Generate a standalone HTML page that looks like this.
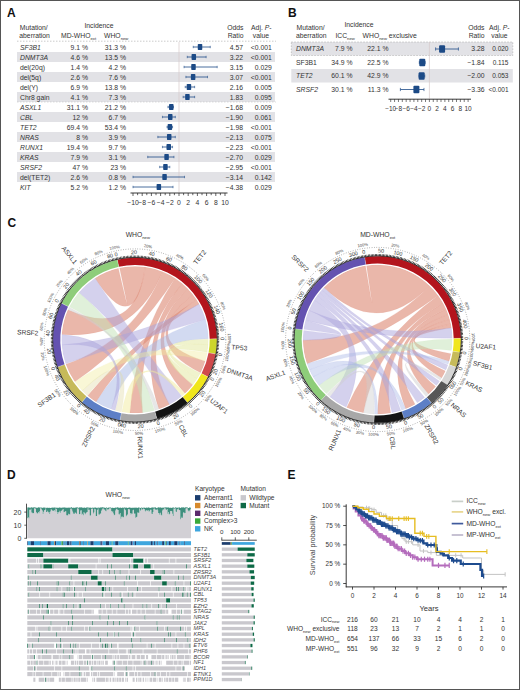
<!DOCTYPE html>
<html><head><meta charset="utf-8"><style>
html,body{margin:0;padding:0;background:#fff;}
body{width:520px;height:690px;overflow:hidden;font-family:"Liberation Sans", sans-serif;}
#frame{position:absolute;left:0;top:0;width:518px;height:688px;border:1px solid #555;}
svg{position:absolute;left:0;top:0;}
</style></head><body>
<svg width="520" height="690" viewBox="0 0 520 690" font-family='"Liberation Sans", sans-serif' fill="#333"><text x="7.00" y="16.60" font-size="12" font-weight="bold" fill="#111">A</text>
<text x="19.80" y="30.00" font-size="6.8">Mutation/</text>
<text x="19.30" y="37.60" font-size="6.8">aberration</text>
<text x="99.00" y="27.60" font-size="6.8" text-anchor="middle">Incidence</text>
<text x="61" y="37.6" font-size="6.8">MD-WHO<tspan font-size="4.22" dy="2.04">ext</tspan></text>
<text x="104" y="37.6" font-size="6.8">WHO<tspan font-size="4.22" dy="2.04">new</tspan></text>
<text x="243.50" y="29.60" font-size="6.8" text-anchor="end">Odds</text>
<text x="243.50" y="37.80" font-size="6.8" text-anchor="end">Ratio</text>
<text x="271.5" y="29.6" font-size="6.8" text-anchor="end">Adj. <tspan font-style="italic">P</tspan>-</text>
<text x="269.00" y="37.80" font-size="6.8" text-anchor="end">value</text>
<rect x="17.00" y="52.00" width="258.00" height="10.00" fill="#e2e2e6" />
<rect x="17.00" y="72.00" width="258.00" height="10.00" fill="#e2e2e6" />
<rect x="17.00" y="92.00" width="258.00" height="10.00" fill="#e2e2e6" />
<rect x="17.00" y="112.00" width="258.00" height="10.00" fill="#e2e2e6" />
<rect x="17.00" y="132.00" width="258.00" height="10.00" fill="#e2e2e6" />
<rect x="17.00" y="152.00" width="258.00" height="10.00" fill="#e2e2e6" />
<rect x="17.00" y="172.00" width="258.00" height="10.00" fill="#e2e2e6" />
<line x1="17.00" y1="41.20" x2="276.00" y2="41.20" stroke="#aaa" stroke-width="0.6" stroke-dasharray="1.5,1.5"/>
<line x1="17.00" y1="102.00" x2="276.00" y2="102.00" stroke="#bbb" stroke-width="0.5" stroke-dasharray="1.5,1.5"/>
<line x1="179.00" y1="42.00" x2="179.00" y2="192.50" stroke="#d6c8c8" stroke-width="0.7" />
<text x="20.00" y="49.50" font-size="6.8" font-style="italic">SF3B1</text>
<text x="88.00" y="49.50" font-size="6.8" text-anchor="end">9.1 %</text>
<text x="126.00" y="49.50" font-size="6.8" text-anchor="end">31.3 %</text>
<text x="243.00" y="49.50" font-size="6.8" text-anchor="end">4.57</text>
<text x="271.80" y="49.50" font-size="6.8" text-anchor="end">&lt;0.001</text>
<line x1="193.26" y1="47.00" x2="210.28" y2="47.00" stroke="#1c4a86" stroke-width="0.8" />
<line x1="193.26" y1="45.80" x2="193.26" y2="48.20" stroke="#1c4a86" stroke-width="0.6" />
<line x1="210.28" y1="45.80" x2="210.28" y2="48.20" stroke="#1c4a86" stroke-width="0.6" />
<rect x="197.77" y="44.00" width="4.50" height="6.00" fill="#1c4a86" rx="0.7"/>
<text x="20.00" y="59.50" font-size="6.8" font-style="italic">DNMT3A</text>
<text x="88.00" y="59.50" font-size="6.8" text-anchor="end">4.6 %</text>
<text x="126.00" y="59.50" font-size="6.8" text-anchor="end">13.5 %</text>
<text x="243.00" y="59.50" font-size="6.8" text-anchor="end">3.22</text>
<text x="271.80" y="59.50" font-size="6.8" text-anchor="end">&lt;0.001</text>
<line x1="187.28" y1="57.00" x2="206.14" y2="57.00" stroke="#1c4a86" stroke-width="0.8" />
<line x1="187.28" y1="55.80" x2="187.28" y2="58.20" stroke="#1c4a86" stroke-width="0.6" />
<line x1="206.14" y1="55.80" x2="206.14" y2="58.20" stroke="#1c4a86" stroke-width="0.6" />
<rect x="191.56" y="54.00" width="4.50" height="6.00" fill="#1c4a86" rx="0.7"/>
<text x="20.00" y="69.50" font-size="6.8">del(20q)</text>
<text x="88.00" y="69.50" font-size="6.8" text-anchor="end">1.4 %</text>
<text x="126.00" y="69.50" font-size="6.8" text-anchor="end">4.2 %</text>
<text x="243.00" y="69.50" font-size="6.8" text-anchor="end">3.15</text>
<text x="271.80" y="69.50" font-size="6.8" text-anchor="end">0.029</text>
<line x1="184.06" y1="67.00" x2="217.18" y2="67.00" stroke="#1c4a86" stroke-width="0.8" />
<line x1="184.06" y1="65.80" x2="184.06" y2="68.20" stroke="#1c4a86" stroke-width="0.6" />
<line x1="217.18" y1="65.80" x2="217.18" y2="68.20" stroke="#1c4a86" stroke-width="0.6" />
<rect x="191.24" y="64.00" width="4.50" height="6.00" fill="#1c4a86" rx="0.7"/>
<text x="20.00" y="79.50" font-size="6.8">del(5q)</text>
<text x="88.00" y="79.50" font-size="6.8" text-anchor="end">2.6 %</text>
<text x="126.00" y="79.50" font-size="6.8" text-anchor="end">7.6 %</text>
<text x="243.00" y="79.50" font-size="6.8" text-anchor="end">3.07</text>
<text x="271.80" y="79.50" font-size="6.8" text-anchor="end">&lt;0.001</text>
<line x1="185.90" y1="77.00" x2="207.52" y2="77.00" stroke="#1c4a86" stroke-width="0.8" />
<line x1="185.90" y1="75.80" x2="185.90" y2="78.20" stroke="#1c4a86" stroke-width="0.6" />
<line x1="207.52" y1="75.80" x2="207.52" y2="78.20" stroke="#1c4a86" stroke-width="0.6" />
<rect x="190.87" y="74.00" width="4.50" height="6.00" fill="#1c4a86" rx="0.7"/>
<text x="20.00" y="89.50" font-size="6.8">del(Y)</text>
<text x="88.00" y="89.50" font-size="6.8" text-anchor="end">6.9 %</text>
<text x="126.00" y="89.50" font-size="6.8" text-anchor="end">13.8 %</text>
<text x="243.00" y="89.50" font-size="6.8" text-anchor="end">2.16</text>
<text x="271.80" y="89.50" font-size="6.8" text-anchor="end">0.005</text>
<line x1="185.21" y1="87.00" x2="194.64" y2="87.00" stroke="#1c4a86" stroke-width="0.8" />
<line x1="185.21" y1="85.80" x2="185.21" y2="88.20" stroke="#1c4a86" stroke-width="0.6" />
<line x1="194.64" y1="85.80" x2="194.64" y2="88.20" stroke="#1c4a86" stroke-width="0.6" />
<rect x="186.69" y="84.00" width="4.50" height="6.00" fill="#1c4a86" rx="0.7"/>
<text x="20.00" y="99.50" font-size="6.8">Chr8 gain</text>
<text x="88.00" y="99.50" font-size="6.8" text-anchor="end">4.1 %</text>
<text x="126.00" y="99.50" font-size="6.8" text-anchor="end">7.3 %</text>
<text x="243.00" y="99.50" font-size="6.8" text-anchor="end">1.83</text>
<text x="271.80" y="99.50" font-size="6.8" text-anchor="end">0.095</text>
<line x1="183.14" y1="97.00" x2="194.64" y2="97.00" stroke="#1c4a86" stroke-width="0.8" />
<line x1="183.14" y1="95.80" x2="183.14" y2="98.20" stroke="#1c4a86" stroke-width="0.6" />
<line x1="194.64" y1="95.80" x2="194.64" y2="98.20" stroke="#1c4a86" stroke-width="0.6" />
<rect x="185.17" y="94.00" width="4.50" height="6.00" fill="#1c4a86" rx="0.7"/>
<text x="20.00" y="109.50" font-size="6.8" font-style="italic">ASXL1</text>
<text x="88.00" y="109.50" font-size="6.8" text-anchor="end">31.1 %</text>
<text x="126.00" y="109.50" font-size="6.8" text-anchor="end">21.2 %</text>
<text x="243.00" y="109.50" font-size="6.8" text-anchor="end">−1.68</text>
<text x="271.80" y="109.50" font-size="6.8" text-anchor="end">0.009</text>
<line x1="167.96" y1="107.00" x2="173.48" y2="107.00" stroke="#1c4a86" stroke-width="0.8" />
<line x1="167.96" y1="105.80" x2="167.96" y2="108.20" stroke="#1c4a86" stroke-width="0.6" />
<line x1="173.48" y1="105.80" x2="173.48" y2="108.20" stroke="#1c4a86" stroke-width="0.6" />
<rect x="169.02" y="104.00" width="4.50" height="6.00" fill="#1c4a86" rx="0.7"/>
<text x="20.00" y="119.50" font-size="6.8" font-style="italic">CBL</text>
<text x="88.00" y="119.50" font-size="6.8" text-anchor="end">12 %</text>
<text x="126.00" y="119.50" font-size="6.8" text-anchor="end">6.7 %</text>
<text x="243.00" y="119.50" font-size="6.8" text-anchor="end">−1.90</text>
<text x="271.80" y="119.50" font-size="6.8" text-anchor="end">0.061</text>
<line x1="162.44" y1="117.00" x2="175.32" y2="117.00" stroke="#1c4a86" stroke-width="0.8" />
<line x1="162.44" y1="115.80" x2="162.44" y2="118.20" stroke="#1c4a86" stroke-width="0.6" />
<line x1="175.32" y1="115.80" x2="175.32" y2="118.20" stroke="#1c4a86" stroke-width="0.6" />
<rect x="168.01" y="114.00" width="4.50" height="6.00" fill="#1c4a86" rx="0.7"/>
<text x="20.00" y="129.50" font-size="6.8" font-style="italic">TET2</text>
<text x="88.00" y="129.50" font-size="6.8" text-anchor="end">69.4 %</text>
<text x="126.00" y="129.50" font-size="6.8" text-anchor="end">53.4 %</text>
<text x="243.00" y="129.50" font-size="6.8" text-anchor="end">−1.98</text>
<text x="271.80" y="129.50" font-size="6.8" text-anchor="end">&lt;0.001</text>
<line x1="167.04" y1="127.00" x2="172.56" y2="127.00" stroke="#1c4a86" stroke-width="0.8" />
<line x1="167.04" y1="125.80" x2="167.04" y2="128.20" stroke="#1c4a86" stroke-width="0.6" />
<line x1="172.56" y1="125.80" x2="172.56" y2="128.20" stroke="#1c4a86" stroke-width="0.6" />
<rect x="167.64" y="124.00" width="4.50" height="6.00" fill="#1c4a86" rx="0.7"/>
<text x="20.00" y="139.50" font-size="6.8" font-style="italic">NRAS</text>
<text x="88.00" y="139.50" font-size="6.8" text-anchor="end">8 %</text>
<text x="126.00" y="139.50" font-size="6.8" text-anchor="end">3.9 %</text>
<text x="243.00" y="139.50" font-size="6.8" text-anchor="end">−2.13</text>
<text x="271.80" y="139.50" font-size="6.8" text-anchor="end">0.075</text>
<line x1="157.84" y1="137.00" x2="175.32" y2="137.00" stroke="#1c4a86" stroke-width="0.8" />
<line x1="157.84" y1="135.80" x2="157.84" y2="138.20" stroke="#1c4a86" stroke-width="0.6" />
<line x1="175.32" y1="135.80" x2="175.32" y2="138.20" stroke="#1c4a86" stroke-width="0.6" />
<rect x="166.95" y="134.00" width="4.50" height="6.00" fill="#1c4a86" rx="0.7"/>
<text x="20.00" y="149.50" font-size="6.8" font-style="italic">RUNX1</text>
<text x="88.00" y="149.50" font-size="6.8" text-anchor="end">19.4 %</text>
<text x="126.00" y="149.50" font-size="6.8" text-anchor="end">9.7 %</text>
<text x="243.00" y="149.50" font-size="6.8" text-anchor="end">−2.23</text>
<text x="271.80" y="149.50" font-size="6.8" text-anchor="end">&lt;0.001</text>
<line x1="162.44" y1="147.00" x2="172.56" y2="147.00" stroke="#1c4a86" stroke-width="0.8" />
<line x1="162.44" y1="145.80" x2="162.44" y2="148.20" stroke="#1c4a86" stroke-width="0.6" />
<line x1="172.56" y1="145.80" x2="172.56" y2="148.20" stroke="#1c4a86" stroke-width="0.6" />
<rect x="166.49" y="144.00" width="4.50" height="6.00" fill="#1c4a86" rx="0.7"/>
<text x="20.00" y="159.50" font-size="6.8" font-style="italic">KRAS</text>
<text x="88.00" y="159.50" font-size="6.8" text-anchor="end">7.9 %</text>
<text x="126.00" y="159.50" font-size="6.8" text-anchor="end">3.1 %</text>
<text x="243.00" y="159.50" font-size="6.8" text-anchor="end">−2.70</text>
<text x="271.80" y="159.50" font-size="6.8" text-anchor="end">0.029</text>
<line x1="147.72" y1="157.00" x2="173.94" y2="157.00" stroke="#1c4a86" stroke-width="0.8" />
<line x1="147.72" y1="155.80" x2="147.72" y2="158.20" stroke="#1c4a86" stroke-width="0.6" />
<line x1="173.94" y1="155.80" x2="173.94" y2="158.20" stroke="#1c4a86" stroke-width="0.6" />
<rect x="164.33" y="154.00" width="4.50" height="6.00" fill="#1c4a86" rx="0.7"/>
<text x="20.00" y="169.50" font-size="6.8" font-style="italic">SRSF2</text>
<text x="88.00" y="169.50" font-size="6.8" text-anchor="end">47 %</text>
<text x="126.00" y="169.50" font-size="6.8" text-anchor="end">23 %</text>
<text x="243.00" y="169.50" font-size="6.8" text-anchor="end">−2.95</text>
<text x="271.80" y="169.50" font-size="6.8" text-anchor="end">&lt;0.001</text>
<line x1="159.68" y1="167.00" x2="169.80" y2="167.00" stroke="#1c4a86" stroke-width="0.8" />
<line x1="159.68" y1="165.80" x2="159.68" y2="168.20" stroke="#1c4a86" stroke-width="0.6" />
<line x1="169.80" y1="165.80" x2="169.80" y2="168.20" stroke="#1c4a86" stroke-width="0.6" />
<rect x="163.18" y="164.00" width="4.50" height="6.00" fill="#1c4a86" rx="0.7"/>
<text x="20.00" y="179.50" font-size="6.8">del(TET2)</text>
<text x="88.00" y="179.50" font-size="6.8" text-anchor="end">2.6 %</text>
<text x="126.00" y="179.50" font-size="6.8" text-anchor="end">0.8 %</text>
<text x="243.00" y="179.50" font-size="6.8" text-anchor="end">−3.14</text>
<text x="271.80" y="179.50" font-size="6.8" text-anchor="end">0.142</text>
<line x1="133.00" y1="177.00" x2="184.52" y2="177.00" stroke="#1c4a86" stroke-width="0.8" />
<line x1="133.00" y1="175.80" x2="133.00" y2="178.20" stroke="#1c4a86" stroke-width="0.6" />
<line x1="184.52" y1="175.80" x2="184.52" y2="178.20" stroke="#1c4a86" stroke-width="0.6" />
<rect x="162.31" y="174.00" width="4.50" height="6.00" fill="#1c4a86" rx="0.7"/>
<text x="20.00" y="189.50" font-size="6.8" font-style="italic">KIT</text>
<text x="88.00" y="189.50" font-size="6.8" text-anchor="end">5.2 %</text>
<text x="126.00" y="189.50" font-size="6.8" text-anchor="end">1.2 %</text>
<text x="243.00" y="189.50" font-size="6.8" text-anchor="end">−4.38</text>
<text x="271.80" y="189.50" font-size="6.8" text-anchor="end">0.029</text>
<line x1="133.00" y1="187.00" x2="173.02" y2="187.00" stroke="#1c4a86" stroke-width="0.8" />
<line x1="133.00" y1="185.80" x2="133.00" y2="188.20" stroke="#1c4a86" stroke-width="0.6" />
<line x1="173.02" y1="185.80" x2="173.02" y2="188.20" stroke="#1c4a86" stroke-width="0.6" />
<rect x="156.60" y="184.00" width="4.50" height="6.00" fill="#1c4a86" rx="0.7"/>
<line x1="130.50" y1="193.00" x2="227.50" y2="193.00" stroke="#222" stroke-width="0.9" />
<line x1="133.00" y1="193.00" x2="133.00" y2="196.00" stroke="#222" stroke-width="0.7" />
<text x="133.00" y="205.00" font-size="6.8" text-anchor="middle">−10</text>
<line x1="137.60" y1="193.00" x2="137.60" y2="195.20" stroke="#222" stroke-width="0.7" />
<line x1="142.20" y1="193.00" x2="142.20" y2="196.00" stroke="#222" stroke-width="0.7" />
<text x="142.20" y="205.00" font-size="6.8" text-anchor="middle">−8</text>
<line x1="146.80" y1="193.00" x2="146.80" y2="195.20" stroke="#222" stroke-width="0.7" />
<line x1="151.40" y1="193.00" x2="151.40" y2="196.00" stroke="#222" stroke-width="0.7" />
<text x="151.40" y="205.00" font-size="6.8" text-anchor="middle">−6</text>
<line x1="156.00" y1="193.00" x2="156.00" y2="195.20" stroke="#222" stroke-width="0.7" />
<line x1="160.60" y1="193.00" x2="160.60" y2="196.00" stroke="#222" stroke-width="0.7" />
<text x="160.60" y="205.00" font-size="6.8" text-anchor="middle">−4</text>
<line x1="165.20" y1="193.00" x2="165.20" y2="195.20" stroke="#222" stroke-width="0.7" />
<line x1="169.80" y1="193.00" x2="169.80" y2="196.00" stroke="#222" stroke-width="0.7" />
<text x="169.80" y="205.00" font-size="6.8" text-anchor="middle">−2</text>
<line x1="174.40" y1="193.00" x2="174.40" y2="195.20" stroke="#222" stroke-width="0.7" />
<line x1="179.00" y1="193.00" x2="179.00" y2="196.00" stroke="#222" stroke-width="0.7" />
<text x="179.00" y="205.00" font-size="6.8" text-anchor="middle">0</text>
<line x1="183.60" y1="193.00" x2="183.60" y2="195.20" stroke="#222" stroke-width="0.7" />
<line x1="188.20" y1="193.00" x2="188.20" y2="196.00" stroke="#222" stroke-width="0.7" />
<text x="188.20" y="205.00" font-size="6.8" text-anchor="middle">2</text>
<line x1="192.80" y1="193.00" x2="192.80" y2="195.20" stroke="#222" stroke-width="0.7" />
<line x1="197.40" y1="193.00" x2="197.40" y2="196.00" stroke="#222" stroke-width="0.7" />
<text x="197.40" y="205.00" font-size="6.8" text-anchor="middle">4</text>
<line x1="202.00" y1="193.00" x2="202.00" y2="195.20" stroke="#222" stroke-width="0.7" />
<line x1="206.60" y1="193.00" x2="206.60" y2="196.00" stroke="#222" stroke-width="0.7" />
<text x="206.60" y="205.00" font-size="6.8" text-anchor="middle">6</text>
<line x1="211.20" y1="193.00" x2="211.20" y2="195.20" stroke="#222" stroke-width="0.7" />
<line x1="215.80" y1="193.00" x2="215.80" y2="196.00" stroke="#222" stroke-width="0.7" />
<text x="215.80" y="205.00" font-size="6.8" text-anchor="middle">8</text>
<line x1="220.40" y1="193.00" x2="220.40" y2="195.20" stroke="#222" stroke-width="0.7" />
<line x1="225.00" y1="193.00" x2="225.00" y2="196.00" stroke="#222" stroke-width="0.7" />
<text x="225.00" y="205.00" font-size="6.8" text-anchor="middle">10</text>
<text x="288.00" y="16.60" font-size="12" font-weight="bold" fill="#111">B</text>
<text x="296.60" y="29.60" font-size="6.8">Mutation/</text>
<text x="296.00" y="37.50" font-size="6.8">aberration</text>
<text x="359.00" y="27.30" font-size="6.8" text-anchor="middle">Incidence</text>
<text x="335.4" y="37.5" font-size="6.8">ICC<tspan font-size="4.22" dy="2.04">new</tspan></text>
<text x="362.6" y="37.5" font-size="6.8">WHO<tspan font-size="4.22" dy="2.04">new</tspan><tspan dy="-2.04"> exclusive</tspan></text>
<text x="484.50" y="29.60" font-size="6.8" text-anchor="end">Odds</text>
<text x="484.50" y="37.90" font-size="6.8" text-anchor="end">Ratio</text>
<text x="509.5" y="29.6" font-size="6.8" text-anchor="end">Adj. <tspan font-style="italic">P</tspan>-</text>
<text x="507.50" y="37.90" font-size="6.8" text-anchor="end">value</text>
<rect x="291.30" y="42.00" width="221.50" height="13.50" fill="#e2e2e6" />
<rect x="291.30" y="69.00" width="221.50" height="13.50" fill="#e2e2e6" />
<rect x="291.3" y="42" width="221.5" height="13.5" fill="none" stroke="#aaa" stroke-width="0.6" stroke-dasharray="1.5,1.5"/>
<line x1="429.40" y1="42.00" x2="429.40" y2="98.50" stroke="#d6c8c8" stroke-width="0.7" />
<text x="296.00" y="51.20" font-size="6.8" font-style="italic">DNMT3A</text>
<text x="352.50" y="51.20" font-size="6.8" text-anchor="end">7.9 %</text>
<text x="388.50" y="51.20" font-size="6.8" text-anchor="end">22.1 %</text>
<text x="484.60" y="51.20" font-size="6.8" text-anchor="end">3.28</text>
<text x="508.50" y="51.20" font-size="6.5" text-anchor="end">0.020</text>
<line x1="435.59" y1="49.00" x2="458.42" y2="49.00" stroke="#1c4a86" stroke-width="0.8" />
<line x1="435.59" y1="47.40" x2="435.59" y2="50.60" stroke="#1c4a86" stroke-width="0.7" />
<line x1="458.42" y1="47.40" x2="458.42" y2="50.60" stroke="#1c4a86" stroke-width="0.7" />
<rect x="439.09" y="45.20" width="6.00" height="7.60" fill="#1c4a86" rx="1"/>
<text x="296.00" y="64.70" font-size="6.8">SF3B1</text>
<text x="352.50" y="64.70" font-size="6.8" text-anchor="end">34.9 %</text>
<text x="388.50" y="64.70" font-size="6.8" text-anchor="end">22.5 %</text>
<text x="484.60" y="64.70" font-size="6.8" text-anchor="end">−1.84</text>
<text x="508.50" y="64.70" font-size="6.5" text-anchor="end">0.115</text>
<line x1="419.34" y1="62.50" x2="425.14" y2="62.50" stroke="#1c4a86" stroke-width="0.8" />
<line x1="419.34" y1="60.90" x2="419.34" y2="64.10" stroke="#1c4a86" stroke-width="0.7" />
<line x1="425.14" y1="60.90" x2="425.14" y2="64.10" stroke="#1c4a86" stroke-width="0.7" />
<rect x="419.28" y="58.70" width="6.00" height="7.60" fill="#1c4a86" rx="1"/>
<text x="296.00" y="78.20" font-size="6.8" font-style="italic">TET2</text>
<text x="352.50" y="78.20" font-size="6.8" text-anchor="end">60.1 %</text>
<text x="388.50" y="78.20" font-size="6.8" text-anchor="end">42.9 %</text>
<text x="484.60" y="78.20" font-size="6.8" text-anchor="end">−2.00</text>
<text x="508.50" y="78.20" font-size="6.5" text-anchor="end">0.053</text>
<line x1="418.95" y1="76.00" x2="424.76" y2="76.00" stroke="#1c4a86" stroke-width="0.8" />
<line x1="418.95" y1="74.40" x2="418.95" y2="77.60" stroke="#1c4a86" stroke-width="0.7" />
<line x1="424.76" y1="74.40" x2="424.76" y2="77.60" stroke="#1c4a86" stroke-width="0.7" />
<rect x="418.66" y="72.20" width="6.00" height="7.60" fill="#1c4a86" rx="1"/>
<text x="296.00" y="91.70" font-size="6.8" font-style="italic">SRSF2</text>
<text x="352.50" y="91.70" font-size="6.8" text-anchor="end">30.1 %</text>
<text x="388.50" y="91.70" font-size="6.8" text-anchor="end">11.3 %</text>
<text x="484.60" y="91.70" font-size="6.8" text-anchor="end">−3.36</text>
<text x="508.50" y="91.70" font-size="6.5" text-anchor="end">&lt;0.001</text>
<line x1="400.38" y1="89.50" x2="423.98" y2="89.50" stroke="#1c4a86" stroke-width="0.8" />
<line x1="400.38" y1="87.90" x2="400.38" y2="91.10" stroke="#1c4a86" stroke-width="0.7" />
<line x1="423.98" y1="87.90" x2="423.98" y2="91.10" stroke="#1c4a86" stroke-width="0.7" />
<rect x="413.40" y="85.70" width="6.00" height="7.60" fill="#1c4a86" rx="1"/>
<line x1="388.50" y1="99.20" x2="471.00" y2="99.20" stroke="#222" stroke-width="0.9" />
<line x1="390.70" y1="99.20" x2="390.70" y2="102.00" stroke="#222" stroke-width="0.6" />
<line x1="394.57" y1="99.20" x2="394.57" y2="102.00" stroke="#222" stroke-width="0.6" />
<line x1="398.44" y1="99.20" x2="398.44" y2="102.00" stroke="#222" stroke-width="0.6" />
<line x1="402.31" y1="99.20" x2="402.31" y2="102.00" stroke="#222" stroke-width="0.6" />
<line x1="406.18" y1="99.20" x2="406.18" y2="102.00" stroke="#222" stroke-width="0.6" />
<line x1="410.05" y1="99.20" x2="410.05" y2="102.00" stroke="#222" stroke-width="0.6" />
<line x1="413.92" y1="99.20" x2="413.92" y2="102.00" stroke="#222" stroke-width="0.6" />
<line x1="417.79" y1="99.20" x2="417.79" y2="102.00" stroke="#222" stroke-width="0.6" />
<line x1="421.66" y1="99.20" x2="421.66" y2="102.00" stroke="#222" stroke-width="0.6" />
<line x1="425.53" y1="99.20" x2="425.53" y2="102.00" stroke="#222" stroke-width="0.6" />
<line x1="429.40" y1="99.20" x2="429.40" y2="102.00" stroke="#222" stroke-width="0.6" />
<line x1="433.27" y1="99.20" x2="433.27" y2="102.00" stroke="#222" stroke-width="0.6" />
<line x1="437.14" y1="99.20" x2="437.14" y2="102.00" stroke="#222" stroke-width="0.6" />
<line x1="441.01" y1="99.20" x2="441.01" y2="102.00" stroke="#222" stroke-width="0.6" />
<line x1="444.88" y1="99.20" x2="444.88" y2="102.00" stroke="#222" stroke-width="0.6" />
<line x1="448.75" y1="99.20" x2="448.75" y2="102.00" stroke="#222" stroke-width="0.6" />
<line x1="452.62" y1="99.20" x2="452.62" y2="102.00" stroke="#222" stroke-width="0.6" />
<line x1="456.49" y1="99.20" x2="456.49" y2="102.00" stroke="#222" stroke-width="0.6" />
<line x1="460.36" y1="99.20" x2="460.36" y2="102.00" stroke="#222" stroke-width="0.6" />
<line x1="464.23" y1="99.20" x2="464.23" y2="102.00" stroke="#222" stroke-width="0.6" />
<line x1="468.10" y1="99.20" x2="468.10" y2="102.00" stroke="#222" stroke-width="0.6" />
<text x="390.70" y="110.80" font-size="6.5" text-anchor="middle">−10</text>
<text x="398.44" y="110.80" font-size="6.5" text-anchor="middle">−8</text>
<text x="406.18" y="110.80" font-size="6.5" text-anchor="middle">−6</text>
<text x="413.92" y="110.80" font-size="6.5" text-anchor="middle">−4</text>
<text x="421.66" y="110.80" font-size="6.5" text-anchor="middle">−2</text>
<text x="429.40" y="110.80" font-size="6.5" text-anchor="middle">0</text>
<text x="437.14" y="110.80" font-size="6.5" text-anchor="middle">2</text>
<text x="444.88" y="110.80" font-size="6.5" text-anchor="middle">4</text>
<text x="452.62" y="110.80" font-size="6.5" text-anchor="middle">6</text>
<text x="460.36" y="110.80" font-size="6.5" text-anchor="middle">8</text>
<text x="468.10" y="110.80" font-size="6.5" text-anchor="middle">10</text>
<g>
<path d="M119.61,267.93 A73.40,73.40 0 0 1 145.22,267.01 Q135.00,339.70 95.02,278.14 A73.40,73.40 0 0 1 118.36,268.21 Q135.00,339.70 119.61,267.93Z" fill="#dd8a76" fill-opacity="0.62" stroke="#dd8a76" stroke-opacity="0.35" stroke-width="0.35"/>
<path d="M145.22,267.01 A73.40,73.40 0 0 1 162.50,271.64 Q135.00,339.70 61.78,334.58 A73.40,73.40 0 0 1 67.95,309.85 Q135.00,339.70 145.22,267.01Z" fill="#dd8a76" fill-opacity="0.62" stroke="#dd8a76" stroke-opacity="0.35" stroke-width="0.35"/>
<path d="M162.50,271.64 A73.40,73.40 0 0 1 174.98,278.14 Q135.00,339.70 74.87,381.80 A73.40,73.40 0 0 1 65.85,364.32 Q135.00,339.70 162.50,271.64Z" fill="#dd8a76" fill-opacity="0.62" stroke="#dd8a76" stroke-opacity="0.35" stroke-width="0.35"/>
<path d="M174.98,278.14 A73.40,73.40 0 0 1 182.18,283.47 Q135.00,339.70 142.67,412.70 A73.40,73.40 0 0 1 129.88,412.92 Q135.00,339.70 174.98,278.14Z" fill="#dd8a76" fill-opacity="0.62" stroke="#dd8a76" stroke-opacity="0.35" stroke-width="0.35"/>
<path d="M182.18,283.47 A73.40,73.40 0 0 1 187.80,288.71 Q135.00,339.70 169.46,404.51 A73.40,73.40 0 0 1 158.90,409.10 Q135.00,339.70 182.18,283.47Z" fill="#dd8a76" fill-opacity="0.62" stroke="#dd8a76" stroke-opacity="0.35" stroke-width="0.35"/>
<path d="M187.80,288.71 A73.40,73.40 0 0 1 192.84,294.51 Q135.00,339.70 192.84,384.89 A73.40,73.40 0 0 1 185.06,393.38 Q135.00,339.70 187.80,288.71Z" fill="#dd8a76" fill-opacity="0.62" stroke="#dd8a76" stroke-opacity="0.35" stroke-width="0.35"/>
<path d="M192.84,294.51 A73.40,73.40 0 0 1 196.56,299.72 Q135.00,339.70 205.19,361.16 A73.40,73.40 0 0 1 200.52,372.79 Q135.00,339.70 192.84,294.51Z" fill="#dd8a76" fill-opacity="0.62" stroke="#dd8a76" stroke-opacity="0.35" stroke-width="0.35"/>
<path d="M196.56,299.72 A73.40,73.40 0 0 1 199.20,304.11 Q135.00,339.70 96.10,401.95 A73.40,73.40 0 0 1 87.62,395.76 Q135.00,339.70 196.56,299.72Z" fill="#dd8a76" fill-opacity="0.62" stroke="#dd8a76" stroke-opacity="0.35" stroke-width="0.35"/>
<path d="M65.68,363.84 A73.40,73.40 0 0 1 61.78,344.82 Q135.00,339.70 199.20,304.11 A73.40,73.40 0 0 1 205.56,319.47 Q135.00,339.70 65.68,363.84Z" fill="#aaa3dc" fill-opacity="0.5" stroke="#aaa3dc" stroke-opacity="0.35" stroke-width="0.35"/>
<path d="M78.77,292.52 A73.40,73.40 0 0 1 95.02,278.14 Q135.00,339.70 181.79,396.26 A73.40,73.40 0 0 1 169.46,404.51 Q135.00,339.70 78.77,292.52Z" fill="#aaa3dc" fill-opacity="0.5" stroke="#aaa3dc" stroke-opacity="0.35" stroke-width="0.35"/>
<path d="M69.37,306.83 A73.40,73.40 0 0 1 78.77,292.52 Q135.00,339.70 154.37,410.50 A73.40,73.40 0 0 1 142.67,412.70 Q135.00,339.70 69.37,306.83Z" fill="#c2e2b6" fill-opacity="0.5" stroke="#c2e2b6" stroke-opacity="0.35" stroke-width="0.35"/>
<path d="M110.86,409.02 A73.40,73.40 0 0 1 96.10,401.95 Q135.00,339.70 205.56,319.47 A73.40,73.40 0 0 1 208.39,338.68 Q135.00,339.70 110.86,409.02Z" fill="#a6b6e4" fill-opacity="0.5" stroke="#a6b6e4" stroke-opacity="0.35" stroke-width="0.35"/>
<path d="M82.20,390.69 A73.40,73.40 0 0 1 74.87,381.80 Q135.00,339.70 207.24,352.70 A73.40,73.40 0 0 1 205.27,360.91 Q135.00,339.70 82.20,390.69Z" fill="#f1ec9e" fill-opacity="0.42" stroke="#f1ec9e" stroke-opacity="0.35" stroke-width="0.35"/>
<path d="M87.23,395.43 A73.40,73.40 0 0 1 82.20,390.69 Q135.00,339.70 121.37,411.82 A73.40,73.40 0 0 1 115.38,410.43 Q135.00,339.70 87.23,395.43Z" fill="#e0daa4" fill-opacity="0.4" stroke="#e0daa4" stroke-opacity="0.35" stroke-width="0.35"/>
<path d="M208.40,339.19 A73.40,73.40 0 0 1 208.22,344.82 Q135.00,339.70 200.28,373.25 A73.40,73.40 0 0 1 197.25,378.60 Q135.00,339.70 208.40,339.19Z" fill="#e2e89c" fill-opacity="0.5" stroke="#e2e89c" stroke-opacity="0.35" stroke-width="0.35"/>
<path d="M208.22,344.82 A73.40,73.40 0 0 1 207.33,352.19 Q135.00,339.70 197.25,378.60 A73.40,73.40 0 0 1 192.84,384.89 Q135.00,339.70 208.22,344.82Z" fill="#e2e89c" fill-opacity="0.5" stroke="#e2e89c" stroke-opacity="0.35" stroke-width="0.35"/>
<path d="M185.06,393.38 A73.40,73.40 0 0 1 182.18,395.93 Q135.00,339.70 129.88,412.92 A73.40,73.40 0 0 1 121.88,411.92 Q135.00,339.70 185.06,393.38Z" fill="#f1ec9e" fill-opacity="0.5" stroke="#f1ec9e" stroke-opacity="0.35" stroke-width="0.35"/>
<path d="M158.90,409.10 A73.40,73.40 0 0 1 154.86,410.36 Q135.00,339.70 68.10,309.49 A73.40,73.40 0 0 1 69.14,307.29 Q135.00,339.70 158.90,409.10Z" fill="#cfcfcf" fill-opacity="0.5" stroke="#cfcfcf" stroke-opacity="0.35" stroke-width="0.35"/>
<path d="M61.78,344.82 A73.40,73.40 0 0 1 61.78,334.58 Q135.00,339.70 115.14,410.36 A73.40,73.40 0 0 1 111.10,409.10 Q135.00,339.70 61.78,344.82Z" fill="#aaa3dc" fill-opacity="0.5" stroke="#aaa3dc" stroke-opacity="0.35" stroke-width="0.35"/>
</g>
<circle cx="135" cy="339.7" r="74.10" fill="none" stroke="#fff" stroke-width="1.2"/>
<path d="M117.25,259.64 A82,82 0 0 1 217.00,338.84 L209.70,338.92 A74.7,74.7 0 0 0 118.83,266.77Z" fill="#b3141c"/>
<path d="M217.00,338.84 A82,82 0 0 1 215.75,353.94 L208.57,352.67 A74.7,74.7 0 0 0 209.70,338.92Z" fill="#cdd52c"/>
<path d="M215.75,353.94 A82,82 0 0 1 208.06,376.93 L201.56,373.61 A74.7,74.7 0 0 0 208.57,352.67Z" fill="#d04a4c"/>
<path d="M208.06,376.93 A82,82 0 0 1 187.49,402.70 L182.82,397.09 A74.7,74.7 0 0 0 201.56,373.61Z" fill="#f0e61c"/>
<path d="M187.49,402.70 A82,82 0 0 1 156.91,418.72 L154.96,411.68 A74.7,74.7 0 0 0 182.82,397.09Z" fill="#141414"/>
<path d="M156.91,418.72 A82,82 0 0 1 120.06,420.33 L121.39,413.15 A74.7,74.7 0 0 0 154.96,411.68Z" fill="#a8a8a8"/>
<path d="M120.06,420.33 A82,82 0 0 1 81.85,402.15 L86.59,396.59 A74.7,74.7 0 0 0 121.39,413.15Z" fill="#5d7fc6"/>
<path d="M81.85,402.15 A82,82 0 0 1 57.66,366.94 L64.54,364.51 A74.7,74.7 0 0 0 86.59,396.59Z" fill="#c6ba5a"/>
<path d="M57.66,366.94 A82,82 0 0 1 61.55,303.24 L68.09,306.49 A74.7,74.7 0 0 0 64.54,364.51Z" fill="#6452b0"/>
<path d="M61.55,303.24 A82,82 0 0 1 117.25,259.64 L118.83,266.77 A74.7,74.7 0 0 0 68.09,306.49Z" fill="#8ecd7a"/>
<line x1="119.05" y1="267.75" x2="117.30" y2="259.84" stroke="#fff" stroke-opacity="0.55" stroke-width="0.5"/>
<line x1="208.70" y1="338.93" x2="216.80" y2="338.84" stroke="#fff" stroke-opacity="0.55" stroke-width="0.5"/>
<line x1="207.58" y1="352.50" x2="215.56" y2="353.90" stroke="#fff" stroke-opacity="0.55" stroke-width="0.5"/>
<line x1="200.67" y1="373.16" x2="207.88" y2="376.84" stroke="#fff" stroke-opacity="0.55" stroke-width="0.5"/>
<line x1="182.18" y1="396.32" x2="187.36" y2="402.55" stroke="#fff" stroke-opacity="0.55" stroke-width="0.5"/>
<line x1="154.70" y1="410.72" x2="156.86" y2="418.52" stroke="#fff" stroke-opacity="0.55" stroke-width="0.5"/>
<line x1="121.57" y1="412.17" x2="120.09" y2="420.13" stroke="#fff" stroke-opacity="0.55" stroke-width="0.5"/>
<line x1="87.23" y1="395.83" x2="81.98" y2="401.99" stroke="#fff" stroke-opacity="0.55" stroke-width="0.5"/>
<line x1="65.48" y1="364.18" x2="57.84" y2="366.87" stroke="#fff" stroke-opacity="0.55" stroke-width="0.5"/>
<line x1="68.99" y1="306.93" x2="61.73" y2="303.33" stroke="#fff" stroke-opacity="0.55" stroke-width="0.5"/>
<circle cx="135" cy="339.7" r="82.30" fill="none" stroke="#000" stroke-width="0.7"/>
<circle cx="135" cy="339.7" r="83.20" fill="none" stroke="#000" stroke-width="2.0" stroke-dasharray="0.6 0.8"/>
<circle cx="135" cy="339.7" r="90.80" fill="none" stroke="#666" stroke-width="0.7" stroke-dasharray="0.7 1.7"/>
<text x="116.17" y="254.76" font-size="5.4" fill="#333" text-anchor="middle" dominant-baseline="middle" transform="rotate(347.5 116.17 254.76)">0</text>
<text x="133.88" y="252.71" font-size="5.4" fill="#333" text-anchor="middle" dominant-baseline="middle" transform="rotate(359.3 133.88 252.71)">20</text>
<text x="151.64" y="254.31" font-size="5.4" fill="#333" text-anchor="middle" dominant-baseline="middle" transform="rotate(11.0 151.64 254.31)">40</text>
<text x="168.71" y="259.49" font-size="5.4" fill="#333" text-anchor="middle" dominant-baseline="middle" transform="rotate(22.8 168.71 259.49)">60</text>
<text x="184.35" y="268.05" font-size="5.4" fill="#333" text-anchor="middle" dominant-baseline="middle" transform="rotate(34.6 184.35 268.05)">80</text>
<text x="197.92" y="279.62" font-size="5.4" fill="#333" text-anchor="middle" dominant-baseline="middle" transform="rotate(46.3 197.92 279.62)">100</text>
<text x="208.85" y="293.71" font-size="5.4" fill="#333" text-anchor="middle" dominant-baseline="middle" transform="rotate(58.1 208.85 293.71)">120</text>
<text x="216.68" y="309.73" font-size="5.4" fill="#333" text-anchor="middle" dominant-baseline="middle" transform="rotate(69.9 216.68 309.73)">140</text>
<text x="221.07" y="327.02" font-size="5.4" fill="#333" text-anchor="middle" dominant-baseline="middle" transform="rotate(81.6 221.07 327.02)">160</text>
<text x="147.89" y="246.59" font-size="4.1" fill="#444" text-anchor="middle" dominant-baseline="middle" transform="rotate(7.9 147.89 246.59)">20%</text>
<text x="179.51" y="256.90" font-size="4.1" fill="#444" text-anchor="middle" dominant-baseline="middle" transform="rotate(28.3 179.51 256.90)">40%</text>
<text x="205.55" y="277.59" font-size="4.1" fill="#444" text-anchor="middle" dominant-baseline="middle" transform="rotate(48.6 205.55 277.59)">60%</text>
<text x="222.77" y="306.04" font-size="4.1" fill="#444" text-anchor="middle" dominant-baseline="middle" transform="rotate(69.0 222.77 306.04)">80%</text>
<text x="228.99" y="338.72" font-size="4.1" fill="#444" text-anchor="middle" dominant-baseline="middle" transform="rotate(89.4 228.99 338.72)">100%</text>
<text x="222.00" y="338.79" font-size="5.4" fill="#333" text-anchor="middle" dominant-baseline="middle" transform="rotate(89.4 222.00 338.79)">0</text>
<text x="228.68" y="347.40" font-size="4.1" fill="#444" text-anchor="middle" dominant-baseline="middle" transform="rotate(-85.3 228.68 347.40)">50%</text>
<text x="227.57" y="356.02" font-size="4.1" fill="#444" text-anchor="middle" dominant-baseline="middle" transform="rotate(-80.0 227.57 356.02)">100%</text>
<text x="220.68" y="354.81" font-size="5.4" fill="#333" text-anchor="middle" dominant-baseline="middle" transform="rotate(-80.0 220.68 354.81)">0</text>
<text x="215.80" y="371.96" font-size="5.4" fill="#333" text-anchor="middle" dominant-baseline="middle" transform="rotate(-68.2 215.80 371.96)">20</text>
<text x="224.14" y="369.53" font-size="4.1" fill="#444" text-anchor="middle" dominant-baseline="middle" transform="rotate(-71.5 224.14 369.53)">50%</text>
<text x="218.75" y="382.38" font-size="4.1" fill="#444" text-anchor="middle" dominant-baseline="middle" transform="rotate(-63.0 218.75 382.38)">100%</text>
<text x="212.52" y="379.20" font-size="5.4" fill="#333" text-anchor="middle" dominant-baseline="middle" transform="rotate(-63.0 212.52 379.20)">0</text>
<text x="202.84" y="394.17" font-size="5.4" fill="#333" text-anchor="middle" dominant-baseline="middle" transform="rotate(-51.2 202.84 394.17)">20</text>
<text x="208.46" y="398.34" font-size="4.1" fill="#444" text-anchor="middle" dominant-baseline="middle" transform="rotate(-51.4 208.46 398.34)">50%</text>
<text x="195.17" y="411.92" font-size="4.1" fill="#444" text-anchor="middle" dominant-baseline="middle" transform="rotate(-39.8 195.17 411.92)">100%</text>
<text x="190.69" y="406.54" font-size="5.4" fill="#333" text-anchor="middle" dominant-baseline="middle" transform="rotate(-39.8 190.69 406.54)">0</text>
<text x="175.89" y="416.49" font-size="5.4" fill="#333" text-anchor="middle" dominant-baseline="middle" transform="rotate(-28.0 175.89 416.49)">20</text>
<text x="178.62" y="422.97" font-size="4.1" fill="#444" text-anchor="middle" dominant-baseline="middle" transform="rotate(-27.7 178.62 422.97)">50%</text>
<text x="160.12" y="430.28" font-size="4.1" fill="#444" text-anchor="middle" dominant-baseline="middle" transform="rotate(-15.5 160.12 430.28)">100%</text>
<text x="158.25" y="423.54" font-size="5.4" fill="#333" text-anchor="middle" dominant-baseline="middle" transform="rotate(-15.5 158.25 423.54)">0</text>
<text x="140.67" y="426.52" font-size="5.4" fill="#333" text-anchor="middle" dominant-baseline="middle" transform="rotate(-3.7 140.67 426.52)">20</text>
<text x="122.85" y="425.85" font-size="5.4" fill="#333" text-anchor="middle" dominant-baseline="middle" transform="rotate(8.0 122.85 425.85)">40</text>
<text x="139.10" y="433.61" font-size="4.1" fill="#444" text-anchor="middle" dominant-baseline="middle" transform="rotate(-2.5 139.10 433.61)">50%</text>
<text x="117.87" y="432.13" font-size="4.1" fill="#444" text-anchor="middle" dominant-baseline="middle" transform="rotate(10.5 117.87 432.13)">100%</text>
<text x="119.15" y="425.24" font-size="5.4" fill="#333" text-anchor="middle" dominant-baseline="middle" transform="rotate(10.5 119.15 425.24)">0</text>
<text x="102.04" y="420.21" font-size="5.4" fill="#333" text-anchor="middle" dominant-baseline="middle" transform="rotate(22.3 102.04 420.21)">20</text>
<text x="86.31" y="411.80" font-size="5.4" fill="#333" text-anchor="middle" dominant-baseline="middle" transform="rotate(34.0 86.31 411.80)">40</text>
<text x="94.61" y="424.58" font-size="4.1" fill="#444" text-anchor="middle" dominant-baseline="middle" transform="rotate(25.4 94.61 424.58)">50%</text>
<text x="74.08" y="411.28" font-size="4.1" fill="#444" text-anchor="middle" dominant-baseline="middle" transform="rotate(40.4 74.08 411.28)">100%</text>
<text x="78.61" y="405.95" font-size="5.4" fill="#333" text-anchor="middle" dominant-baseline="middle" transform="rotate(40.4 78.61 405.95)">0</text>
<text x="66.29" y="393.07" font-size="5.4" fill="#333" text-anchor="middle" dominant-baseline="middle" transform="rotate(52.2 66.29 393.07)">20</text>
<text x="56.85" y="377.93" font-size="5.4" fill="#333" text-anchor="middle" dominant-baseline="middle" transform="rotate(63.9 56.85 377.93)">40</text>
<text x="57.53" y="392.94" font-size="4.1" fill="#444" text-anchor="middle" dominant-baseline="middle" transform="rotate(55.5 57.53 392.94)">50%</text>
<text x="46.34" y="370.92" font-size="4.1" fill="#444" text-anchor="middle" dominant-baseline="middle" transform="rotate(70.6 46.34 370.92)">100%</text>
<text x="52.94" y="368.60" font-size="5.4" fill="#333" text-anchor="middle" dominant-baseline="middle" transform="rotate(70.6 52.94 368.60)">0</text>
<text x="48.77" y="351.26" font-size="5.4" fill="#333" text-anchor="middle" dominant-baseline="middle" transform="rotate(82.4 48.77 351.26)">20</text>
<text x="48.23" y="333.44" font-size="5.4" fill="#333" text-anchor="middle" dominant-baseline="middle" transform="rotate(274.1 48.23 333.44)">40</text>
<text x="51.33" y="315.87" font-size="5.4" fill="#333" text-anchor="middle" dominant-baseline="middle" transform="rotate(285.9 51.33 315.87)">60</text>
<text x="42.50" y="356.41" font-size="4.1" fill="#444" text-anchor="middle" dominant-baseline="middle" transform="rotate(79.8 42.50 356.41)">20%</text>
<text x="41.02" y="341.47" font-size="4.1" fill="#444" text-anchor="middle" dominant-baseline="middle" transform="rotate(88.9 41.02 341.47)">40%</text>
<text x="41.93" y="326.49" font-size="4.1" fill="#444" text-anchor="middle" dominant-baseline="middle" transform="rotate(278.1 41.93 326.49)">60%</text>
<text x="45.22" y="311.84" font-size="4.1" fill="#444" text-anchor="middle" dominant-baseline="middle" transform="rotate(287.2 45.22 311.84)">80%</text>
<text x="50.80" y="297.90" font-size="4.1" fill="#444" text-anchor="middle" dominant-baseline="middle" transform="rotate(296.4 50.80 297.90)">100%</text>
<text x="57.07" y="301.02" font-size="5.4" fill="#333" text-anchor="middle" dominant-baseline="middle" transform="rotate(296.4 57.07 301.02)">0</text>
<text x="66.60" y="285.94" font-size="5.4" fill="#333" text-anchor="middle" dominant-baseline="middle" transform="rotate(308.2 66.60 285.94)">20</text>
<text x="79.00" y="273.12" font-size="5.4" fill="#333" text-anchor="middle" dominant-baseline="middle" transform="rotate(319.9 79.00 273.12)">40</text>
<text x="93.75" y="263.10" font-size="5.4" fill="#333" text-anchor="middle" dominant-baseline="middle" transform="rotate(331.7 93.75 263.10)">60</text>
<text x="110.23" y="256.30" font-size="5.4" fill="#333" text-anchor="middle" dominant-baseline="middle" transform="rotate(343.5 110.23 256.30)">80</text>
<text x="59.55" y="283.63" font-size="4.1" fill="#444" text-anchor="middle" dominant-baseline="middle" transform="rotate(306.6 59.55 283.63)">20%</text>
<text x="70.70" y="271.13" font-size="4.1" fill="#444" text-anchor="middle" dominant-baseline="middle" transform="rotate(316.8 70.70 271.13)">40%</text>
<text x="83.89" y="260.81" font-size="4.1" fill="#444" text-anchor="middle" dominant-baseline="middle" transform="rotate(327.1 83.89 260.81)">60%</text>
<text x="98.69" y="252.99" font-size="4.1" fill="#444" text-anchor="middle" dominant-baseline="middle" transform="rotate(337.3 98.69 252.99)">80%</text>
<text x="114.65" y="247.93" font-size="4.1" fill="#444" text-anchor="middle" dominant-baseline="middle" transform="rotate(347.5 114.65 247.93)">100%</text>
<text x="195.19" y="263.89" font-size="6.6" fill="#333" text-anchor="start" dominant-baseline="middle" transform="rotate(-51.5 195.19 263.89)">TET2</text>
<text x="231.47" y="347.63" font-size="6.6" fill="#333" text-anchor="start" dominant-baseline="middle" transform="rotate(4.7 231.47 347.63)">TP53</text>
<text x="226.80" y="370.42" font-size="6.6" fill="#333" text-anchor="start" dominant-baseline="middle" transform="rotate(18.5 226.80 370.42)">DNMT3A</text>
<text x="210.65" y="400.09" font-size="6.6" fill="#333" text-anchor="start" dominant-baseline="middle" transform="rotate(38.6 210.65 400.09)">U2AF1</text>
<text x="179.92" y="425.45" font-size="6.6" fill="#333" text-anchor="start" dominant-baseline="middle" transform="rotate(62.3 179.92 425.45)">CBL</text>
<text x="139.22" y="436.41" font-size="6.6" fill="#333" text-anchor="start" dominant-baseline="middle" transform="rotate(87.5 139.22 436.41)">RUNX1</text>
<text x="93.40" y="427.11" font-size="6.6" fill="#333" text-anchor="end" dominant-baseline="middle" transform="rotate(-64.6 93.40 427.11)">ZRSR2</text>
<text x="55.22" y="394.53" font-size="6.6" fill="#333" text-anchor="end" dominant-baseline="middle" transform="rotate(-34.5 55.22 394.53)">SF3B1</text>
<text x="38.38" y="333.79" font-size="6.6" fill="#333" text-anchor="end" dominant-baseline="middle" transform="rotate(3.5 38.38 333.79)">SRSF2</text>
<text x="75.34" y="263.47" font-size="6.6" fill="#333" text-anchor="end" dominant-baseline="middle" transform="rotate(51.9 75.34 263.47)">ASXL1</text>
<text x="137.80" y="237" font-size="6.8" text-anchor="middle">WHO<tspan font-size="4.2" dy="1.8">new</tspan></text>
<g>
<path d="M366.53,265.64 A74.70,74.70 0 0 1 429.59,285.77 Q377.70,339.50 323.97,287.61 A74.70,74.70 0 0 1 365.50,265.80 Q377.70,339.50 366.53,265.64Z" fill="#dd8a76" fill-opacity="0.62" stroke="#dd8a76" stroke-opacity="0.35" stroke-width="0.35"/>
<path d="M429.59,285.77 A74.70,74.70 0 0 1 438.13,295.59 Q377.70,339.50 307.07,363.82 A74.70,74.70 0 0 1 303.00,340.15 Q377.70,339.50 429.59,285.77Z" fill="#dd8a76" fill-opacity="0.62" stroke="#dd8a76" stroke-opacity="0.35" stroke-width="0.35"/>
<path d="M438.13,295.59 A74.70,74.70 0 0 1 443.03,303.28 Q377.70,339.50 363.45,412.83 A74.70,74.70 0 0 1 346.72,407.47 Q377.70,339.50 438.13,295.59Z" fill="#dd8a76" fill-opacity="0.62" stroke="#dd8a76" stroke-opacity="0.35" stroke-width="0.35"/>
<path d="M443.03,303.28 A74.70,74.70 0 0 1 445.94,309.12 Q377.70,339.50 390.67,413.07 A74.70,74.70 0 0 1 377.70,414.20 Q377.70,339.50 443.03,303.28Z" fill="#dd8a76" fill-opacity="0.62" stroke="#dd8a76" stroke-opacity="0.35" stroke-width="0.35"/>
<path d="M445.94,309.12 A74.70,74.70 0 0 1 448.12,314.56 Q377.70,339.50 415.05,404.19 A74.70,74.70 0 0 1 405.68,408.76 Q377.70,339.50 445.94,309.12Z" fill="#dd8a76" fill-opacity="0.62" stroke="#dd8a76" stroke-opacity="0.35" stroke-width="0.35"/>
<path d="M448.12,314.56 A74.70,74.70 0 0 1 449.68,319.54 Q377.70,339.50 435.75,386.51 A74.70,74.70 0 0 1 428.65,394.13 Q377.70,339.50 448.12,314.56Z" fill="#dd8a76" fill-opacity="0.62" stroke="#dd8a76" stroke-opacity="0.35" stroke-width="0.35"/>
<path d="M449.68,319.54 A74.70,74.70 0 0 1 450.77,323.97 Q377.70,339.50 445.40,371.07 A74.70,74.70 0 0 1 441.73,377.97 Q377.70,339.50 449.68,319.54Z" fill="#dd8a76" fill-opacity="0.62" stroke="#dd8a76" stroke-opacity="0.35" stroke-width="0.35"/>
<path d="M450.77,323.97 A74.70,74.70 0 0 1 451.48,327.81 Q377.70,339.50 451.03,353.75 A74.70,74.70 0 0 1 449.14,361.34 Q377.70,339.50 450.77,323.97Z" fill="#dd8a76" fill-opacity="0.62" stroke="#dd8a76" stroke-opacity="0.35" stroke-width="0.35"/>
<path d="M303.69,329.36 A74.70,74.70 0 0 1 305.55,320.17 Q377.70,339.50 303.00,340.15 A74.70,74.70 0 0 1 303.56,330.40 Q377.70,339.50 303.69,329.36Z" fill="#aaa3dc" fill-opacity="0.5" stroke="#aaa3dc" stroke-opacity="0.35" stroke-width="0.35"/>
<path d="M305.55,320.17 A74.70,74.70 0 0 1 308.94,310.31 Q377.70,339.50 451.48,327.81 A74.70,74.70 0 0 1 452.39,338.20 Q377.70,339.50 305.55,320.17Z" fill="#aaa3dc" fill-opacity="0.5" stroke="#aaa3dc" stroke-opacity="0.35" stroke-width="0.35"/>
<path d="M308.94,310.31 A74.70,74.70 0 0 1 314.35,299.92 Q377.70,339.50 346.13,407.20 A74.70,74.70 0 0 1 329.88,396.89 Q377.70,339.50 308.94,310.31Z" fill="#aaa3dc" fill-opacity="0.5" stroke="#aaa3dc" stroke-opacity="0.35" stroke-width="0.35"/>
<path d="M314.35,299.92 A74.70,74.70 0 0 1 317.27,295.59 Q377.70,339.50 400.78,410.54 A74.70,74.70 0 0 1 391.95,412.83 Q377.70,339.50 314.35,299.92Z" fill="#aaa3dc" fill-opacity="0.5" stroke="#aaa3dc" stroke-opacity="0.35" stroke-width="0.35"/>
<path d="M317.27,295.59 A74.70,74.70 0 0 1 319.65,292.49 Q377.70,339.50 424.71,397.55 A74.70,74.70 0 0 1 417.28,402.85 Q377.70,339.50 317.27,295.59Z" fill="#aaa3dc" fill-opacity="0.5" stroke="#aaa3dc" stroke-opacity="0.35" stroke-width="0.35"/>
<path d="M319.65,292.49 A74.70,74.70 0 0 1 321.75,290.00 Q377.70,339.50 439.63,381.27 A74.70,74.70 0 0 1 436.56,385.49 Q377.70,339.50 319.65,292.49Z" fill="#aaa3dc" fill-opacity="0.5" stroke="#aaa3dc" stroke-opacity="0.35" stroke-width="0.35"/>
<path d="M321.75,290.00 A74.70,74.70 0 0 1 323.97,287.61 Q377.70,339.50 447.90,365.05 A74.70,74.70 0 0 1 445.94,369.88 Q377.70,339.50 321.75,290.00Z" fill="#aaa3dc" fill-opacity="0.5" stroke="#aaa3dc" stroke-opacity="0.35" stroke-width="0.35"/>
<path d="M326.37,393.78 A74.70,74.70 0 0 1 318.84,385.49 Q377.70,339.50 452.40,338.98 A74.70,74.70 0 0 1 451.58,350.54 Q377.70,339.50 326.37,393.78Z" fill="#c2e2b6" fill-opacity="0.5" stroke="#c2e2b6" stroke-opacity="0.35" stroke-width="0.35"/>
<path d="M318.84,385.49 A74.70,74.70 0 0 1 313.01,376.85 Q377.70,339.50 405.68,408.76 A74.70,74.70 0 0 1 401.65,410.26 Q377.70,339.50 318.84,385.49Z" fill="#a6b6e4" fill-opacity="0.42" stroke="#a6b6e4" stroke-opacity="0.35" stroke-width="0.35"/>
<path d="M313.01,376.85 A74.70,74.70 0 0 1 309.46,369.88 Q377.70,339.50 377.70,414.20 A74.70,74.70 0 0 1 374.57,414.13 Q377.70,339.50 313.01,376.85Z" fill="#a6b6e4" fill-opacity="0.42" stroke="#a6b6e4" stroke-opacity="0.35" stroke-width="0.35"/>
<path d="M309.46,369.88 A74.70,74.70 0 0 1 307.07,363.82 Q377.70,339.50 449.14,361.34 A74.70,74.70 0 0 1 448.20,364.19 Q377.70,339.50 309.46,369.88Z" fill="#a6b6e4" fill-opacity="0.42" stroke="#a6b6e4" stroke-opacity="0.35" stroke-width="0.35"/>
<path d="M428.65,394.13 A74.70,74.70 0 0 1 426.11,396.39 Q377.70,339.50 441.73,377.97 A74.70,74.70 0 0 1 440.35,380.18 Q377.70,339.50 428.65,394.13Z" fill="#cfcfcf" fill-opacity="0.5" stroke="#cfcfcf" stroke-opacity="0.35" stroke-width="0.35"/>
<path d="M374.05,414.11 A74.70,74.70 0 0 1 363.70,412.88 Q377.70,339.50 329.68,396.72 A74.70,74.70 0 0 1 326.95,394.31 Q377.70,339.50 374.05,414.11Z" fill="#cfcfcf" fill-opacity="0.45" stroke="#cfcfcf" stroke-opacity="0.35" stroke-width="0.35"/>
</g>
<circle cx="377.7" cy="339.5" r="75.40" fill="none" stroke="#fff" stroke-width="1.2"/>
<path d="M364.67,257.23 A83.3,83.3 0 0 1 460.99,338.34 L453.69,338.44 A76.0,76.0 0 0 0 365.81,264.44Z" fill="#b3141c"/>
<path d="M460.99,338.34 A83.3,83.3 0 0 1 460.02,352.24 L452.81,351.13 A76.0,76.0 0 0 0 453.69,338.44Z" fill="#f0e61c"/>
<path d="M460.02,352.24 A83.3,83.3 0 0 1 456.22,367.31 L449.34,364.87 A76.0,76.0 0 0 0 452.81,351.13Z" fill="#c6ba5a"/>
<path d="M456.22,367.31 A83.3,83.3 0 0 1 447.56,384.87 L441.44,380.89 A76.0,76.0 0 0 0 449.34,364.87Z" fill="#d6d6d6"/>
<path d="M447.56,384.87 A83.3,83.3 0 0 1 431.47,403.12 L426.75,397.55 A76.0,76.0 0 0 0 441.44,380.89Z" fill="#575757"/>
<path d="M431.47,403.12 A83.3,83.3 0 0 1 404.13,418.50 L401.82,411.57 A76.0,76.0 0 0 0 426.75,397.55Z" fill="#5d7fc6"/>
<path d="M404.13,418.50 A83.3,83.3 0 0 1 373.92,422.71 L374.25,415.42 A76.0,76.0 0 0 0 401.82,411.57Z" fill="#141414"/>
<path d="M373.92,422.71 A83.3,83.3 0 0 1 320.89,400.42 L325.87,395.08 A76.0,76.0 0 0 0 374.25,415.42Z" fill="#a8a8a8"/>
<path d="M320.89,400.42 A83.3,83.3 0 0 1 295.09,328.77 L302.33,329.71 A76.0,76.0 0 0 0 325.87,395.08Z" fill="#8ecd7a"/>
<path d="M295.09,328.77 A83.3,83.3 0 0 1 364.67,257.23 L365.81,264.44 A76.0,76.0 0 0 0 302.33,329.71Z" fill="#6452b0"/>
<line x1="365.97" y1="265.42" x2="364.70" y2="257.42" stroke="#fff" stroke-opacity="0.55" stroke-width="0.5"/>
<line x1="452.69" y1="338.45" x2="460.79" y2="338.34" stroke="#fff" stroke-opacity="0.55" stroke-width="0.5"/>
<line x1="451.82" y1="350.97" x2="459.82" y2="352.21" stroke="#fff" stroke-opacity="0.55" stroke-width="0.5"/>
<line x1="448.40" y1="364.54" x2="456.03" y2="367.24" stroke="#fff" stroke-opacity="0.55" stroke-width="0.5"/>
<line x1="440.60" y1="380.35" x2="447.39" y2="384.76" stroke="#fff" stroke-opacity="0.55" stroke-width="0.5"/>
<line x1="426.11" y1="396.78" x2="431.34" y2="402.97" stroke="#fff" stroke-opacity="0.55" stroke-width="0.5"/>
<line x1="401.50" y1="410.62" x2="404.07" y2="418.31" stroke="#fff" stroke-opacity="0.55" stroke-width="0.5"/>
<line x1="374.30" y1="414.42" x2="373.93" y2="422.51" stroke="#fff" stroke-opacity="0.55" stroke-width="0.5"/>
<line x1="326.55" y1="394.35" x2="321.03" y2="400.28" stroke="#fff" stroke-opacity="0.55" stroke-width="0.5"/>
<line x1="303.32" y1="329.84" x2="295.29" y2="328.80" stroke="#fff" stroke-opacity="0.55" stroke-width="0.5"/>
<circle cx="377.7" cy="339.5" r="83.60" fill="none" stroke="#000" stroke-width="0.7"/>
<circle cx="377.7" cy="339.5" r="84.50" fill="none" stroke="#000" stroke-width="2.0" stroke-dasharray="0.6 0.8"/>
<circle cx="377.7" cy="339.5" r="92.10" fill="none" stroke="#666" stroke-width="0.7" stroke-dasharray="0.7 1.7"/>
<text x="363.89" y="252.29" font-size="5.4" fill="#333" text-anchor="middle" dominant-baseline="middle" transform="rotate(351.0 363.89 252.29)">0</text>
<text x="380.95" y="251.26" font-size="5.4" fill="#333" text-anchor="middle" dominant-baseline="middle" transform="rotate(2.1 380.95 251.26)">50</text>
<text x="397.90" y="253.54" font-size="5.4" fill="#333" text-anchor="middle" dominant-baseline="middle" transform="rotate(13.2 397.90 253.54)">100</text>
<text x="414.08" y="259.04" font-size="5.4" fill="#333" text-anchor="middle" dominant-baseline="middle" transform="rotate(24.3 414.08 259.04)">150</text>
<text x="428.91" y="267.56" font-size="5.4" fill="#333" text-anchor="middle" dominant-baseline="middle" transform="rotate(35.4 428.91 267.56)">200</text>
<text x="441.81" y="278.78" font-size="5.4" fill="#333" text-anchor="middle" dominant-baseline="middle" transform="rotate(46.6 441.81 278.78)">250</text>
<text x="452.31" y="292.27" font-size="5.4" fill="#333" text-anchor="middle" dominant-baseline="middle" transform="rotate(57.7 452.31 292.27)">300</text>
<text x="460.01" y="307.54" font-size="5.4" fill="#333" text-anchor="middle" dominant-baseline="middle" transform="rotate(68.8 460.01 307.54)">350</text>
<text x="464.63" y="324.00" font-size="5.4" fill="#333" text-anchor="middle" dominant-baseline="middle" transform="rotate(79.9 464.63 324.00)">400</text>
<text x="395.30" y="245.84" font-size="4.1" fill="#444" text-anchor="middle" dominant-baseline="middle" transform="rotate(10.6 395.30 245.84)">20%</text>
<text x="425.75" y="257.20" font-size="4.1" fill="#444" text-anchor="middle" dominant-baseline="middle" transform="rotate(30.3 425.75 257.20)">40%</text>
<text x="450.62" y="278.14" font-size="4.1" fill="#444" text-anchor="middle" dominant-baseline="middle" transform="rotate(49.9 450.62 278.14)">60%</text>
<text x="467.00" y="306.22" font-size="4.1" fill="#444" text-anchor="middle" dominant-baseline="middle" transform="rotate(69.6 467.00 306.22)">80%</text>
<text x="472.99" y="338.17" font-size="4.1" fill="#444" text-anchor="middle" dominant-baseline="middle" transform="rotate(89.2 472.99 338.17)">100%</text>
<text x="465.99" y="338.27" font-size="5.4" fill="#333" text-anchor="middle" dominant-baseline="middle" transform="rotate(89.2 465.99 338.27)">0</text>
<text x="472.77" y="346.15" font-size="4.1" fill="#444" text-anchor="middle" dominant-baseline="middle" transform="rotate(-86.0 472.77 346.15)">50%</text>
<text x="471.88" y="354.08" font-size="4.1" fill="#444" text-anchor="middle" dominant-baseline="middle" transform="rotate(-81.2 471.88 354.08)">100%</text>
<text x="464.96" y="353.01" font-size="5.4" fill="#333" text-anchor="middle" dominant-baseline="middle" transform="rotate(-81.2 464.96 353.01)">0</text>
<text x="470.11" y="362.80" font-size="4.1" fill="#444" text-anchor="middle" dominant-baseline="middle" transform="rotate(-75.8 470.11 362.80)">50%</text>
<text x="467.53" y="371.31" font-size="4.1" fill="#444" text-anchor="middle" dominant-baseline="middle" transform="rotate(-70.5 467.53 371.31)">100%</text>
<text x="460.94" y="368.98" font-size="5.4" fill="#333" text-anchor="middle" dominant-baseline="middle" transform="rotate(-70.5 460.94 368.98)">0</text>
<text x="453.69" y="384.46" font-size="5.4" fill="#333" text-anchor="middle" dominant-baseline="middle" transform="rotate(-59.4 453.69 384.46)">50</text>
<text x="463.17" y="381.65" font-size="4.1" fill="#444" text-anchor="middle" dominant-baseline="middle" transform="rotate(-63.8 463.17 381.65)">50%</text>
<text x="457.63" y="391.40" font-size="4.1" fill="#444" text-anchor="middle" dominant-baseline="middle" transform="rotate(-57.0 457.63 391.40)">100%</text>
<text x="451.75" y="387.59" font-size="5.4" fill="#333" text-anchor="middle" dominant-baseline="middle" transform="rotate(-57.0 451.75 387.59)">0</text>
<text x="441.10" y="400.96" font-size="5.4" fill="#333" text-anchor="middle" dominant-baseline="middle" transform="rotate(-45.9 441.10 400.96)">50</text>
<text x="449.19" y="402.52" font-size="4.1" fill="#444" text-anchor="middle" dominant-baseline="middle" transform="rotate(-48.6 449.19 402.52)">50%</text>
<text x="439.21" y="412.29" font-size="4.1" fill="#444" text-anchor="middle" dominant-baseline="middle" transform="rotate(-40.2 439.21 412.29)">100%</text>
<text x="434.69" y="406.94" font-size="5.4" fill="#333" text-anchor="middle" dominant-baseline="middle" transform="rotate(-40.2 434.69 406.94)">0</text>
<text x="420.63" y="416.66" font-size="5.4" fill="#333" text-anchor="middle" dominant-baseline="middle" transform="rotate(-29.1 420.63 416.66)">50</text>
<text x="424.41" y="422.57" font-size="4.1" fill="#444" text-anchor="middle" dominant-baseline="middle" transform="rotate(-29.3 424.41 422.57)">50%</text>
<text x="407.94" y="429.88" font-size="4.1" fill="#444" text-anchor="middle" dominant-baseline="middle" transform="rotate(-18.5 407.94 429.88)">100%</text>
<text x="405.72" y="423.24" font-size="5.4" fill="#333" text-anchor="middle" dominant-baseline="middle" transform="rotate(-18.5 405.72 423.24)">0</text>
<text x="389.06" y="427.07" font-size="5.4" fill="#333" text-anchor="middle" dominant-baseline="middle" transform="rotate(-7.4 389.06 427.07)">50</text>
<text x="390.88" y="433.88" font-size="4.1" fill="#444" text-anchor="middle" dominant-baseline="middle" transform="rotate(-7.9 390.88 433.88)">50%</text>
<text x="373.38" y="434.70" font-size="4.1" fill="#444" text-anchor="middle" dominant-baseline="middle" transform="rotate(2.6 373.38 434.70)">100%</text>
<text x="373.69" y="427.71" font-size="5.4" fill="#333" text-anchor="middle" dominant-baseline="middle" transform="rotate(2.6 373.69 427.71)">0</text>
<text x="356.77" y="425.28" font-size="5.4" fill="#333" text-anchor="middle" dominant-baseline="middle" transform="rotate(13.7 356.77 425.28)">50</text>
<text x="340.63" y="419.64" font-size="5.4" fill="#333" text-anchor="middle" dominant-baseline="middle" transform="rotate(24.8 340.63 419.64)">100</text>
<text x="325.88" y="411.00" font-size="5.4" fill="#333" text-anchor="middle" dominant-baseline="middle" transform="rotate(35.9 325.88 411.00)">150</text>
<text x="360.04" y="433.15" font-size="4.1" fill="#444" text-anchor="middle" dominant-baseline="middle" transform="rotate(10.7 360.04 433.15)">20%</text>
<text x="347.05" y="429.74" font-size="4.1" fill="#444" text-anchor="middle" dominant-baseline="middle" transform="rotate(18.8 347.05 429.74)">40%</text>
<text x="334.67" y="424.53" font-size="4.1" fill="#444" text-anchor="middle" dominant-baseline="middle" transform="rotate(26.8 334.67 424.53)">60%</text>
<text x="323.15" y="417.64" font-size="4.1" fill="#444" text-anchor="middle" dominant-baseline="middle" transform="rotate(34.9 323.15 417.64)">80%</text>
<text x="312.71" y="409.20" font-size="4.1" fill="#444" text-anchor="middle" dominant-baseline="middle" transform="rotate(43.0 312.71 409.20)">100%</text>
<text x="317.48" y="404.08" font-size="5.4" fill="#333" text-anchor="middle" dominant-baseline="middle" transform="rotate(43.0 317.48 404.08)">0</text>
<text x="306.16" y="391.26" font-size="5.4" fill="#333" text-anchor="middle" dominant-baseline="middle" transform="rotate(54.1 306.16 391.26)">50</text>
<text x="297.53" y="376.51" font-size="5.4" fill="#333" text-anchor="middle" dominant-baseline="middle" transform="rotate(65.2 297.53 376.51)">100</text>
<text x="291.90" y="360.36" font-size="5.4" fill="#333" text-anchor="middle" dominant-baseline="middle" transform="rotate(76.3 291.90 360.36)">150</text>
<text x="289.49" y="343.44" font-size="5.4" fill="#333" text-anchor="middle" dominant-baseline="middle" transform="rotate(87.4 289.49 343.44)">200</text>
<text x="300.72" y="395.68" font-size="4.1" fill="#444" text-anchor="middle" dominant-baseline="middle" transform="rotate(53.9 300.72 395.68)">20%</text>
<text x="291.50" y="380.14" font-size="4.1" fill="#444" text-anchor="middle" dominant-baseline="middle" transform="rotate(64.8 291.50 380.14)">40%</text>
<text x="285.38" y="363.14" font-size="4.1" fill="#444" text-anchor="middle" dominant-baseline="middle" transform="rotate(75.6 285.38 363.14)">60%</text>
<text x="282.58" y="345.28" font-size="4.1" fill="#444" text-anchor="middle" dominant-baseline="middle" transform="rotate(86.5 282.58 345.28)">80%</text>
<text x="283.19" y="327.23" font-size="4.1" fill="#444" text-anchor="middle" dominant-baseline="middle" transform="rotate(277.4 283.19 327.23)">100%</text>
<text x="290.14" y="328.13" font-size="5.4" fill="#333" text-anchor="middle" dominant-baseline="middle" transform="rotate(277.4 290.14 328.13)">0</text>
<text x="293.97" y="311.47" font-size="5.4" fill="#333" text-anchor="middle" dominant-baseline="middle" transform="rotate(288.5 293.97 311.47)">50</text>
<text x="300.94" y="295.86" font-size="5.4" fill="#333" text-anchor="middle" dominant-baseline="middle" transform="rotate(299.6 300.94 295.86)">100</text>
<text x="310.79" y="281.88" font-size="5.4" fill="#333" text-anchor="middle" dominant-baseline="middle" transform="rotate(310.7 310.79 281.88)">150</text>
<text x="323.15" y="270.07" font-size="5.4" fill="#333" text-anchor="middle" dominant-baseline="middle" transform="rotate(321.8 323.15 270.07)">200</text>
<text x="337.55" y="260.86" font-size="5.4" fill="#333" text-anchor="middle" dominant-baseline="middle" transform="rotate(333.0 337.55 260.86)">250</text>
<text x="353.46" y="254.59" font-size="5.4" fill="#333" text-anchor="middle" dominant-baseline="middle" transform="rotate(344.1 353.46 254.59)">300</text>
<text x="289.41" y="303.62" font-size="4.1" fill="#444" text-anchor="middle" dominant-baseline="middle" transform="rotate(292.1 289.41 303.62)">20%</text>
<text x="301.43" y="282.36" font-size="4.1" fill="#444" text-anchor="middle" dominant-baseline="middle" transform="rotate(306.8 301.43 282.36)">40%</text>
<text x="318.45" y="264.86" font-size="4.1" fill="#444" text-anchor="middle" dominant-baseline="middle" transform="rotate(321.6 318.45 264.86)">60%</text>
<text x="339.36" y="252.25" font-size="4.1" fill="#444" text-anchor="middle" dominant-baseline="middle" transform="rotate(336.3 339.36 252.25)">80%</text>
<text x="362.79" y="245.37" font-size="4.1" fill="#444" text-anchor="middle" dominant-baseline="middle" transform="rotate(351.0 362.79 245.37)">100%</text>
<text x="440.89" y="264.46" font-size="6.6" fill="#333" text-anchor="start" dominant-baseline="middle" transform="rotate(-49.9 440.89 264.46)">TET2</text>
<text x="475.56" y="346.34" font-size="6.6" fill="#333" text-anchor="start" dominant-baseline="middle" transform="rotate(4.0 475.56 346.34)">U2AF1</text>
<text x="472.82" y="363.48" font-size="6.6" fill="#333" text-anchor="start" dominant-baseline="middle" transform="rotate(14.2 472.82 363.48)">SF3B1</text>
<text x="465.68" y="382.89" font-size="6.6" fill="#333" text-anchor="start" dominant-baseline="middle" transform="rotate(26.2 465.68 382.89)">KRAS</text>
<text x="451.29" y="404.37" font-size="6.6" fill="#333" text-anchor="start" dominant-baseline="middle" transform="rotate(41.4 451.29 404.37)">NRAS</text>
<text x="425.78" y="425.01" font-size="6.6" fill="#333" text-anchor="start" dominant-baseline="middle" transform="rotate(60.7 425.78 425.01)">ZRSR2</text>
<text x="391.27" y="436.66" font-size="6.6" fill="#333" text-anchor="start" dominant-baseline="middle" transform="rotate(82.1 391.27 436.66)">CBL</text>
<text x="339.68" y="429.93" font-size="6.6" fill="#333" text-anchor="end" dominant-baseline="middle" transform="rotate(-67.2 339.68 429.93)">RUNX1</text>
<text x="285.40" y="372.73" font-size="6.6" fill="#333" text-anchor="end" dominant-baseline="middle" transform="rotate(-19.8 285.40 372.73)">ASXL1</text>
<text x="307.37" y="271.11" font-size="6.6" fill="#333" text-anchor="end" dominant-baseline="middle" transform="rotate(44.2 307.37 271.11)">SRSF2</text>
<text x="377.70" y="237" font-size="6.8" text-anchor="middle">MD-WHO<tspan font-size="4.2" dy="1.8">ext</tspan></text>
<path d="M27.30,538.30 L27.30,518.25 L27.97,518.25 L27.97,517.28 L28.64,517.28 L28.64,518.16 L29.31,518.16 L29.31,509.74 L29.98,509.74 L29.98,510.12 L30.65,510.12 L30.65,508.73 L31.33,508.73 L31.33,512.38 L32.00,512.38 L32.00,512.74 L32.67,512.74 L32.67,513.56 L33.34,513.56 L33.34,512.99 L34.01,512.99 L34.01,508.14 L34.68,508.14 L34.68,508.49 L35.35,508.49 L35.35,508.77 L36.02,508.77 L36.02,512.35 L36.69,512.35 L36.69,513.27 L37.36,513.27 L37.36,513.57 L38.03,513.57 L38.03,512.10 L38.71,512.10 L38.71,513.21 L39.38,513.21 L39.38,511.19 L40.05,511.19 L40.05,508.36 L40.72,508.36 L40.72,508.48 L41.39,508.48 L41.39,509.58 L42.06,509.58 L42.06,510.47 L42.73,510.47 L42.73,514.11 L43.40,514.11 L43.40,511.85 L44.07,511.85 L44.07,510.21 L44.74,510.21 L44.74,509.88 L45.41,509.88 L45.41,508.57 L46.09,508.57 L46.09,511.95 L46.76,511.95 L46.76,511.91 L47.43,511.91 L47.43,510.85 L48.10,510.85 L48.10,512.47 L48.77,512.47 L48.77,512.06 L49.44,512.06 L49.44,513.95 L50.11,513.95 L50.11,511.48 L50.78,511.48 L50.78,509.31 L51.45,509.31 L51.45,509.80 L52.12,509.80 L52.12,510.77 L52.79,510.77 L52.79,510.42 L53.47,510.42 L53.47,510.96 L54.14,510.96 L54.14,510.02 L54.81,510.02 L54.81,511.39 L55.48,511.39 L55.48,508.47 L56.15,508.47 L56.15,509.07 L56.82,509.07 L56.82,511.97 L57.49,511.97 L57.49,514.09 L58.16,514.09 L58.16,512.24 L58.83,512.24 L58.83,512.23 L59.50,512.23 L59.50,510.78 L60.17,510.78 L60.17,512.68 L60.85,512.68 L60.85,511.06 L61.52,511.06 L61.52,510.42 L62.19,510.42 L62.19,509.81 L62.86,509.81 L62.86,508.97 L63.53,508.97 L63.53,512.34 L64.20,512.34 L64.20,512.00 L64.87,512.00 L64.87,511.34 L65.54,511.34 L65.54,511.20 L66.21,511.20 L66.21,515.21 L66.88,515.21 L66.88,515.31 L67.55,515.31 L67.55,515.60 L68.23,515.60 L68.22,513.85 L68.90,513.85 L68.90,514.37 L69.57,514.37 L69.57,514.61 L70.24,514.61 L70.24,508.65 L70.91,508.65 L70.91,508.43 L71.58,508.43 L71.58,509.54 L72.25,509.54 L72.25,511.38 L72.92,511.38 L72.92,514.11 L73.59,514.11 L73.59,512.65 L74.26,512.65 L74.26,514.09 L74.93,514.09 L74.93,512.45 L75.60,512.45 L75.60,513.05 L76.28,513.05 L76.28,514.01 L76.95,514.01 L76.95,508.38 L77.62,508.38 L77.62,508.15 L78.29,508.15 L78.29,509.28 L78.96,509.28 L78.96,514.30 L79.63,514.30 L79.63,514.06 L80.30,514.06 L80.30,510.53 L80.97,510.53 L80.97,510.28 L81.64,510.28 L81.64,514.69 L82.31,514.69 L82.31,513.67 L82.98,513.67 L82.98,515.25 L83.66,515.25 L83.66,512.11 L84.33,512.11 L84.33,513.20 L85.00,513.20 L85.00,514.35 L85.67,514.35 L85.67,513.12 L86.34,513.12 L86.34,512.22 L87.01,512.22 L87.01,512.00 L87.68,512.00 L87.68,508.35 L88.35,508.35 L88.35,510.00 L89.02,510.00 L89.02,509.73 L89.69,509.73 L89.69,515.56 L90.36,515.56 L90.36,515.43 L91.04,515.43 L91.04,508.72 L91.71,508.72 L91.71,508.91 L92.38,508.91 L92.38,508.53 L93.05,508.53 L93.05,513.38 L93.72,513.38 L93.72,512.33 L94.39,512.33 L94.39,508.68 L95.06,508.68 L95.06,509.31 L95.73,509.31 L95.73,515.99 L96.40,515.99 L96.40,515.91 L97.07,515.91 L97.07,510.12 L97.74,510.12 L97.74,508.57 L98.42,508.57 L98.42,514.58 L99.09,514.58 L99.09,514.86 L99.76,514.86 L99.76,513.74 L100.43,513.74 L100.43,513.59 L101.10,513.59 L101.10,510.87 L101.77,510.87 L101.77,509.42 L102.44,509.42 L102.44,508.52 L103.11,508.52 L103.11,508.56 L103.78,508.56 L103.78,509.70 L104.45,509.70 L104.45,509.45 L105.12,509.45 L105.12,510.73 L105.80,510.73 L105.80,511.35 L106.47,511.35 L106.47,508.24 L107.14,508.24 L107.14,509.55 L107.81,509.55 L107.81,509.77 L108.48,509.77 L108.48,509.02 L109.15,509.02 L109.15,508.32 L109.82,508.32 L109.82,508.58 L110.49,508.58 L110.49,508.16 L111.16,508.16 L111.16,510.89 L111.83,510.89 L111.83,512.16 L112.50,512.16 L112.50,511.31 L113.18,511.31 L113.18,513.57 L113.85,513.57 L113.85,515.24 L114.52,515.24 L114.52,514.83 L115.19,514.83 L115.19,510.53 L115.86,510.53 L115.86,509.35 L116.53,509.35 L116.53,508.71 L117.20,508.71 L117.20,509.82 L117.87,509.82 L117.87,510.07 L118.54,510.07 L118.54,514.16 L119.21,514.16 L119.21,514.42 L119.88,514.42 L119.88,513.11 L120.56,513.11 L120.56,518.66 L121.23,518.66 L121.23,516.79 L121.90,516.79 L121.90,516.57 L122.57,516.57 L122.57,517.30 L123.24,517.30 L123.24,517.29 L123.91,517.29 L123.91,508.53 L124.58,508.53 L124.58,509.60 L125.25,509.60 L125.25,510.15 L125.92,510.15 L125.92,516.24 L126.59,516.24 L126.59,515.29 L127.26,515.29 L127.26,514.54 L127.94,514.54 L127.94,508.94 L128.61,508.94 L128.61,509.24 L129.28,509.24 L129.28,509.48 L129.95,509.48 L129.95,512.89 L130.62,512.89 L130.62,514.41 L131.29,514.41 L131.29,513.45 L131.96,513.45 L131.96,513.79 L132.63,513.79 L132.63,510.27 L133.30,510.27 L133.30,509.84 L133.97,509.84 L133.97,513.69 L134.64,513.69 L134.64,513.52 L135.32,513.52 L135.32,517.73 L135.99,517.73 L135.99,517.35 L136.66,517.35 L136.66,516.69 L137.33,516.69 L137.33,512.47 L138.00,512.47 L138.00,512.81 L138.67,512.81 L138.67,512.83 L139.34,512.83 L139.34,508.52 L140.01,508.52 L140.01,510.77 L140.68,510.77 L140.68,509.71 L141.35,509.71 L141.35,508.27 L142.02,508.27 L142.02,509.84 L142.70,509.84 L142.70,509.07 L143.37,509.07 L143.37,508.43 L144.04,508.43 L144.04,508.98 L144.71,508.98 L144.71,510.48 L145.38,510.48 L145.38,511.46 L146.05,511.46 L146.05,510.36 L146.72,510.36 L146.72,510.57 L147.39,510.57 L147.39,510.74 L148.06,510.74 L148.06,510.19 L148.73,510.19 L148.73,511.80 L149.40,511.80 L149.40,510.85 L150.08,510.85 L150.07,509.63 L150.75,509.63 L150.75,509.78 L151.42,509.78 L151.42,513.68 L152.09,513.68 L152.09,514.12 L152.76,514.12 L152.76,511.88 L153.43,511.88 L153.43,508.70 L154.10,508.70 L154.10,508.48 L154.77,508.48 L154.77,509.43 L155.44,509.43 L155.44,509.74 L156.11,509.74 L156.11,509.95 L156.78,509.95 L156.78,508.83 L157.45,508.83 L157.45,510.24 L158.13,510.24 L158.13,513.06 L158.80,513.06 L158.80,513.14 L159.47,513.14 L159.47,514.71 L160.14,514.71 L160.14,512.80 L160.81,512.80 L160.81,514.76 L161.48,514.76 L161.48,515.60 L162.15,515.60 L162.15,510.42 L162.82,510.42 L162.82,509.25 L163.49,509.25 L163.49,509.73 L164.16,509.73 L164.16,508.32 L164.83,508.32 L164.83,508.35 L165.51,508.35 L165.51,509.38 L166.18,509.38 L166.18,509.88 L166.85,509.88 L166.85,509.04 L167.52,509.04 L167.52,513.63 L168.19,513.63 L168.19,512.10 L168.86,512.10 L168.86,514.43 L169.53,514.43 L169.53,513.77 L170.20,513.77 L170.20,510.96 L170.87,510.96 L170.87,510.92 L171.54,510.92 L171.54,511.21 L172.21,511.21 L172.21,513.80 L172.89,513.80 L172.89,516.03 L173.56,516.03 L173.56,508.41 L174.23,508.41 L174.23,508.86 L174.90,508.86 L174.90,508.31 L175.57,508.31 L175.57,511.38 L176.24,511.38 L176.24,512.00 L176.91,512.00 L176.91,509.11 L177.58,509.11 L177.58,509.86 L178.25,509.86 L178.25,508.54 L178.92,508.54 L178.92,510.00 L179.59,510.00 L179.59,510.34 L180.27,510.34 L180.27,519.26 L180.94,519.26 L180.94,517.88 L181.61,517.88 L181.61,516.69 L182.28,516.69 L182.28,517.93 L182.95,517.93 L182.95,512.59 L183.62,512.59 L183.62,512.48 L184.29,512.48 L184.29,513.35 L184.96,513.35 L184.96,512.90 L185.63,512.90 L185.63,508.42 L186.30,508.42 L186.30,508.20 L186.97,508.20 L186.97,508.23 L187.65,508.23 L187.65,510.34 L188.32,510.34 L188.32,511.16 L188.99,511.16 L188.99,511.31 L189.66,511.31 L189.66,509.90 L190.33,509.90 L190.33,508.68 L191.00,508.68 L191.00,538.30Z" fill="#d2d0d5"/>
<path d="M27.30,507.57 L27.97,507.57 L27.97,507.40 L28.64,507.40 L28.64,507.31 L29.31,507.31 L29.31,507.66 L29.98,507.66 L29.98,507.64 L30.65,507.64 L30.65,507.42 L31.33,507.42 L31.33,507.35 L32.00,507.35 L32.00,507.56 L32.67,507.56 L32.67,507.70 L33.34,507.70 L33.34,507.34 L34.01,507.34 L34.01,507.34 L34.68,507.34 L34.68,507.44 L35.35,507.44 L35.35,507.60 L36.02,507.60 L36.02,507.65 L36.69,507.65 L36.69,507.85 L37.36,507.85 L37.36,507.76 L38.03,507.76 L38.03,507.26 L38.71,507.26 L38.71,507.46 L39.38,507.46 L39.38,507.47 L40.05,507.47 L40.05,507.52 L40.72,507.52 L40.72,507.68 L41.39,507.68 L41.39,507.58 L42.06,507.58 L42.06,507.66 L42.73,507.66 L42.73,507.92 L43.40,507.92 L43.40,507.33 L44.07,507.33 L44.07,507.60 L44.74,507.60 L44.74,507.76 L45.41,507.76 L45.41,507.68 L46.09,507.68 L46.09,507.78 L46.76,507.78 L46.76,508.00 L47.43,508.00 L47.43,507.56 L48.10,507.56 L48.10,507.99 L48.77,507.99 L48.77,507.56 L49.44,507.56 L49.44,508.02 L50.11,508.02 L50.11,507.93 L50.78,507.93 L50.78,507.68 L51.45,507.68 L51.45,507.72 L52.12,507.72 L52.12,507.59 L52.79,507.59 L52.79,507.64 L53.47,507.64 L53.47,507.48 L54.14,507.48 L54.14,507.57 L54.81,507.57 L54.81,507.50 L55.48,507.50 L55.48,507.67 L56.15,507.67 L56.15,507.63 L56.82,507.63 L56.82,507.47 L57.49,507.47 L57.49,507.98 L58.16,507.98 L58.16,507.77 L58.83,507.77 L58.83,507.84 L59.50,507.84 L59.50,507.27 L60.17,507.27 L60.17,507.86 L60.85,507.86 L60.85,507.71 L61.52,507.71 L61.52,507.75 L62.19,507.75 L62.19,507.57 L62.86,507.57 L62.86,507.79 L63.53,507.79 L63.53,507.29 L64.20,507.29 L64.20,507.50 L64.87,507.50 L64.87,507.57 L65.54,507.57 L65.54,507.71 L66.21,507.71 L66.21,507.82 L66.88,507.82 L66.88,507.50 L67.55,507.50 L67.55,507.88 L68.23,507.88 L68.22,507.43 L68.90,507.43 L68.90,507.82 L69.57,507.82 L69.57,507.45 L70.24,507.45 L70.24,507.85 L70.91,507.85 L70.91,507.29 L71.58,507.29 L71.58,507.33 L72.25,507.33 L72.25,507.89 L72.92,507.89 L72.92,507.97 L73.59,507.97 L73.59,507.37 L74.26,507.37 L74.26,508.01 L74.93,508.01 L74.93,507.45 L75.60,507.45 L75.60,507.81 L76.28,507.81 L76.28,507.29 L76.95,507.29 L76.95,507.58 L77.62,507.58 L77.62,507.35 L78.29,507.35 L78.29,507.93 L78.96,507.93 L78.96,507.53 L79.63,507.53 L79.63,507.37 L80.30,507.37 L80.30,507.54 L80.97,507.54 L80.97,507.36 L81.64,507.36 L81.64,507.58 L82.31,507.58 L82.31,507.73 L82.98,507.73 L82.98,507.76 L83.66,507.76 L83.66,507.79 L84.33,507.79 L84.33,507.54 L85.00,507.54 L85.00,507.84 L85.67,507.84 L85.67,507.89 L86.34,507.89 L86.34,507.36 L87.01,507.36 L87.01,507.48 L87.68,507.48 L87.68,507.35 L88.35,507.35 L88.35,507.63 L89.02,507.63 L89.02,507.65 L89.69,507.65 L89.69,507.50 L90.36,507.50 L90.36,507.65 L91.04,507.65 L91.04,507.92 L91.71,507.92 L91.71,507.47 L92.38,507.47 L92.38,507.73 L93.05,507.73 L93.05,507.82 L93.72,507.82 L93.72,507.80 L94.39,507.80 L94.39,507.40 L95.06,507.40 L95.06,507.47 L95.73,507.47 L95.73,507.44 L96.40,507.44 L96.40,508.00 L97.07,508.00 L97.07,507.65 L97.74,507.65 L97.74,507.77 L98.42,507.77 L98.42,507.41 L99.09,507.41 L99.09,507.79 L99.76,507.79 L99.76,507.75 L100.43,507.75 L100.43,507.26 L101.10,507.26 L101.10,507.46 L101.77,507.46 L101.77,507.27 L102.44,507.27 L102.44,507.28 L103.11,507.28 L103.11,507.43 L103.78,507.43 L103.78,507.47 L104.45,507.47 L104.45,507.85 L105.12,507.85 L105.12,507.97 L105.80,507.97 L105.80,507.38 L106.47,507.38 L106.47,507.44 L107.14,507.44 L107.14,508.02 L107.81,508.02 L107.81,507.63 L108.48,507.63 L108.48,507.53 L109.15,507.53 L109.15,507.52 L109.82,507.52 L109.82,507.64 L110.49,507.64 L110.49,507.36 L111.16,507.36 L111.16,507.94 L111.83,507.94 L111.83,507.88 L112.50,507.88 L112.50,507.60 L113.18,507.60 L113.18,507.90 L113.85,507.90 L113.85,507.91 L114.52,507.91 L114.52,507.86 L115.19,507.86 L115.19,507.60 L115.86,507.60 L115.86,507.84 L116.53,507.84 L116.53,507.56 L117.20,507.56 L117.20,507.37 L117.87,507.37 L117.87,507.37 L118.54,507.37 L118.54,507.91 L119.21,507.91 L119.21,507.72 L119.88,507.72 L119.88,507.48 L120.56,507.48 L120.56,507.85 L121.23,507.85 L121.23,507.90 L121.90,507.90 L121.90,507.40 L122.57,507.40 L122.57,507.77 L123.24,507.77 L123.24,507.71 L123.91,507.71 L123.91,507.62 L124.58,507.62 L124.58,507.51 L125.25,507.51 L125.25,507.68 L125.92,507.68 L125.92,507.59 L126.59,507.59 L126.59,507.70 L127.26,507.70 L127.26,507.89 L127.94,507.89 L127.94,507.62 L128.61,507.62 L128.61,507.90 L129.28,507.90 L129.28,507.26 L129.95,507.26 L129.95,507.50 L130.62,507.50 L130.62,507.97 L131.29,507.97 L131.29,507.73 L131.96,507.73 L131.96,507.80 L132.63,507.80 L132.63,507.64 L133.30,507.64 L133.30,507.85 L133.97,507.85 L133.97,507.51 L134.64,507.51 L134.64,507.95 L135.32,507.95 L135.32,507.42 L135.99,507.42 L135.99,507.77 L136.66,507.77 L136.66,507.51 L137.33,507.51 L137.33,507.97 L138.00,507.97 L138.00,507.51 L138.67,507.51 L138.67,507.60 L139.34,507.60 L139.34,507.72 L140.01,507.72 L140.01,507.96 L140.68,507.96 L140.68,507.79 L141.35,507.79 L141.35,507.47 L142.02,507.47 L142.02,507.67 L142.70,507.67 L142.70,508.03 L143.37,508.03 L143.37,507.61 L144.04,507.61 L144.04,507.43 L144.71,507.43 L144.71,508.01 L145.38,508.01 L145.38,507.83 L146.05,507.83 L146.05,507.66 L146.72,507.66 L146.72,507.32 L147.39,507.32 L147.39,507.90 L148.06,507.90 L148.06,507.27 L148.73,507.27 L148.73,507.79 L149.40,507.79 L149.40,507.71 L150.08,507.71 L150.07,507.88 L150.75,507.88 L150.75,507.83 L151.42,507.83 L151.42,507.54 L152.09,507.54 L152.09,507.56 L152.76,507.56 L152.76,507.37 L153.43,507.37 L153.43,507.72 L154.10,507.72 L154.10,507.39 L154.77,507.39 L154.77,507.32 L155.44,507.32 L155.44,507.61 L156.11,507.61 L156.11,507.92 L156.78,507.92 L156.78,507.89 L157.45,507.89 L157.45,507.43 L158.13,507.43 L158.13,507.30 L158.80,507.30 L158.80,507.38 L159.47,507.38 L159.47,507.49 L160.14,507.49 L160.14,507.27 L160.81,507.27 L160.81,507.91 L161.48,507.91 L161.48,507.59 L162.15,507.59 L162.15,507.71 L162.82,507.71 L162.82,507.49 L163.49,507.49 L163.49,507.68 L164.16,507.68 L164.16,507.52 L164.83,507.52 L164.83,507.47 L165.51,507.47 L165.51,507.34 L166.18,507.34 L166.18,507.50 L166.85,507.50 L166.85,507.27 L167.52,507.27 L167.52,507.77 L168.19,507.77 L168.19,507.33 L168.86,507.33 L168.86,507.89 L169.53,507.89 L169.53,507.58 L170.20,507.58 L170.20,507.81 L170.87,507.81 L170.87,507.64 L171.54,507.64 L171.54,507.97 L172.21,507.97 L172.21,507.52 L172.89,507.52 L172.89,507.61 L173.56,507.61 L173.56,507.53 L174.23,507.53 L174.23,507.89 L174.90,507.89 L174.90,507.51 L175.57,507.51 L175.57,507.36 L176.24,507.36 L176.24,507.64 L176.91,507.64 L176.91,507.89 L177.58,507.89 L177.58,507.31 L178.25,507.31 L178.25,507.74 L178.92,507.74 L178.92,507.29 L179.59,507.29 L179.59,507.85 L180.27,507.85 L180.27,508.03 L180.94,508.03 L180.94,507.53 L181.61,507.53 L181.61,507.26 L182.28,507.26 L182.28,507.55 L182.95,507.55 L182.95,507.32 L183.62,507.32 L183.62,507.62 L184.29,507.62 L184.29,507.68 L184.96,507.68 L184.96,507.27 L185.63,507.27 L185.63,507.54 L186.30,507.54 L186.30,507.26 L186.97,507.26 L186.97,507.34 L187.65,507.34 L187.65,507.98 L188.32,507.98 L188.32,507.97 L188.99,507.97 L188.99,507.45 L189.66,507.45 L189.66,507.38 L190.33,507.38 L190.33,507.75 L191.00,507.75 L191.00,508.68 L190.33,508.68 L190.33,509.90 L189.66,509.90 L189.66,511.31 L188.99,511.31 L188.99,511.16 L188.32,511.16 L188.32,510.34 L187.65,510.34 L187.65,508.23 L186.97,508.23 L186.97,508.20 L186.30,508.20 L186.30,508.42 L185.63,508.42 L185.63,512.90 L184.96,512.90 L184.96,513.35 L184.29,513.35 L184.29,512.48 L183.62,512.48 L183.62,512.59 L182.95,512.59 L182.95,517.93 L182.28,517.93 L182.28,516.69 L181.61,516.69 L181.61,517.88 L180.94,517.88 L180.94,519.26 L180.27,519.26 L180.27,510.34 L179.59,510.34 L179.59,510.00 L178.92,510.00 L178.92,508.54 L178.25,508.54 L178.25,509.86 L177.58,509.86 L177.58,509.11 L176.91,509.11 L176.91,512.00 L176.24,512.00 L176.24,511.38 L175.57,511.38 L175.57,508.31 L174.90,508.31 L174.90,508.86 L174.23,508.86 L174.23,508.41 L173.56,508.41 L173.56,516.03 L172.89,516.03 L172.89,513.80 L172.21,513.80 L172.21,511.21 L171.54,511.21 L171.54,510.92 L170.87,510.92 L170.87,510.96 L170.20,510.96 L170.20,513.77 L169.53,513.77 L169.53,514.43 L168.86,514.43 L168.86,512.10 L168.19,512.10 L168.19,513.63 L167.52,513.63 L167.52,509.04 L166.85,509.04 L166.85,509.88 L166.18,509.88 L166.18,509.38 L165.51,509.38 L165.51,508.35 L164.83,508.35 L164.83,508.32 L164.16,508.32 L164.16,509.73 L163.49,509.73 L163.49,509.25 L162.82,509.25 L162.82,510.42 L162.15,510.42 L162.15,515.60 L161.48,515.60 L161.48,514.76 L160.81,514.76 L160.81,512.80 L160.14,512.80 L160.14,514.71 L159.47,514.71 L159.47,513.14 L158.80,513.14 L158.80,513.06 L158.13,513.06 L158.13,510.24 L157.45,510.24 L157.45,508.83 L156.78,508.83 L156.78,509.95 L156.11,509.95 L156.11,509.74 L155.44,509.74 L155.44,509.43 L154.77,509.43 L154.77,508.48 L154.10,508.48 L154.10,508.70 L153.43,508.70 L153.43,511.88 L152.76,511.88 L152.76,514.12 L152.09,514.12 L152.09,513.68 L151.42,513.68 L151.42,509.78 L150.75,509.78 L150.75,509.63 L150.07,509.63 L150.08,510.85 L149.40,510.85 L149.40,511.80 L148.73,511.80 L148.73,510.19 L148.06,510.19 L148.06,510.74 L147.39,510.74 L147.39,510.57 L146.72,510.57 L146.72,510.36 L146.05,510.36 L146.05,511.46 L145.38,511.46 L145.38,510.48 L144.71,510.48 L144.71,508.98 L144.04,508.98 L144.04,508.43 L143.37,508.43 L143.37,509.07 L142.70,509.07 L142.70,509.84 L142.02,509.84 L142.02,508.27 L141.35,508.27 L141.35,509.71 L140.68,509.71 L140.68,510.77 L140.01,510.77 L140.01,508.52 L139.34,508.52 L139.34,512.83 L138.67,512.83 L138.67,512.81 L138.00,512.81 L138.00,512.47 L137.33,512.47 L137.33,516.69 L136.66,516.69 L136.66,517.35 L135.99,517.35 L135.99,517.73 L135.32,517.73 L135.32,513.52 L134.64,513.52 L134.64,513.69 L133.97,513.69 L133.97,509.84 L133.30,509.84 L133.30,510.27 L132.63,510.27 L132.63,513.79 L131.96,513.79 L131.96,513.45 L131.29,513.45 L131.29,514.41 L130.62,514.41 L130.62,512.89 L129.95,512.89 L129.95,509.48 L129.28,509.48 L129.28,509.24 L128.61,509.24 L128.61,508.94 L127.94,508.94 L127.94,514.54 L127.26,514.54 L127.26,515.29 L126.59,515.29 L126.59,516.24 L125.92,516.24 L125.92,510.15 L125.25,510.15 L125.25,509.60 L124.58,509.60 L124.58,508.53 L123.91,508.53 L123.91,517.29 L123.24,517.29 L123.24,517.30 L122.57,517.30 L122.57,516.57 L121.90,516.57 L121.90,516.79 L121.23,516.79 L121.23,518.66 L120.56,518.66 L120.56,513.11 L119.88,513.11 L119.88,514.42 L119.21,514.42 L119.21,514.16 L118.54,514.16 L118.54,510.07 L117.87,510.07 L117.87,509.82 L117.20,509.82 L117.20,508.71 L116.53,508.71 L116.53,509.35 L115.86,509.35 L115.86,510.53 L115.19,510.53 L115.19,514.83 L114.52,514.83 L114.52,515.24 L113.85,515.24 L113.85,513.57 L113.18,513.57 L113.18,511.31 L112.50,511.31 L112.50,512.16 L111.83,512.16 L111.83,510.89 L111.16,510.89 L111.16,508.16 L110.49,508.16 L110.49,508.58 L109.82,508.58 L109.82,508.32 L109.15,508.32 L109.15,509.02 L108.48,509.02 L108.48,509.77 L107.81,509.77 L107.81,509.55 L107.14,509.55 L107.14,508.24 L106.47,508.24 L106.47,511.35 L105.80,511.35 L105.80,510.73 L105.12,510.73 L105.12,509.45 L104.45,509.45 L104.45,509.70 L103.78,509.70 L103.78,508.56 L103.11,508.56 L103.11,508.52 L102.44,508.52 L102.44,509.42 L101.77,509.42 L101.77,510.87 L101.10,510.87 L101.10,513.59 L100.43,513.59 L100.43,513.74 L99.76,513.74 L99.76,514.86 L99.09,514.86 L99.09,514.58 L98.42,514.58 L98.42,508.57 L97.74,508.57 L97.74,510.12 L97.07,510.12 L97.07,515.91 L96.40,515.91 L96.40,515.99 L95.73,515.99 L95.73,509.31 L95.06,509.31 L95.06,508.68 L94.39,508.68 L94.39,512.33 L93.72,512.33 L93.72,513.38 L93.05,513.38 L93.05,508.53 L92.38,508.53 L92.38,508.91 L91.71,508.91 L91.71,508.72 L91.04,508.72 L91.04,515.43 L90.36,515.43 L90.36,515.56 L89.69,515.56 L89.69,509.73 L89.02,509.73 L89.02,510.00 L88.35,510.00 L88.35,508.35 L87.68,508.35 L87.68,512.00 L87.01,512.00 L87.01,512.22 L86.34,512.22 L86.34,513.12 L85.67,513.12 L85.67,514.35 L85.00,514.35 L85.00,513.20 L84.33,513.20 L84.33,512.11 L83.66,512.11 L83.66,515.25 L82.98,515.25 L82.98,513.67 L82.31,513.67 L82.31,514.69 L81.64,514.69 L81.64,510.28 L80.97,510.28 L80.97,510.53 L80.30,510.53 L80.30,514.06 L79.63,514.06 L79.63,514.30 L78.96,514.30 L78.96,509.28 L78.29,509.28 L78.29,508.15 L77.62,508.15 L77.62,508.38 L76.95,508.38 L76.95,514.01 L76.28,514.01 L76.28,513.05 L75.60,513.05 L75.60,512.45 L74.93,512.45 L74.93,514.09 L74.26,514.09 L74.26,512.65 L73.59,512.65 L73.59,514.11 L72.92,514.11 L72.92,511.38 L72.25,511.38 L72.25,509.54 L71.58,509.54 L71.58,508.43 L70.91,508.43 L70.91,508.65 L70.24,508.65 L70.24,514.61 L69.57,514.61 L69.57,514.37 L68.90,514.37 L68.90,513.85 L68.22,513.85 L68.23,515.60 L67.55,515.60 L67.55,515.31 L66.88,515.31 L66.88,515.21 L66.21,515.21 L66.21,511.20 L65.54,511.20 L65.54,511.34 L64.87,511.34 L64.87,512.00 L64.20,512.00 L64.20,512.34 L63.53,512.34 L63.53,508.97 L62.86,508.97 L62.86,509.81 L62.19,509.81 L62.19,510.42 L61.52,510.42 L61.52,511.06 L60.85,511.06 L60.85,512.68 L60.17,512.68 L60.17,510.78 L59.50,510.78 L59.50,512.23 L58.83,512.23 L58.83,512.24 L58.16,512.24 L58.16,514.09 L57.49,514.09 L57.49,511.97 L56.82,511.97 L56.82,509.07 L56.15,509.07 L56.15,508.47 L55.48,508.47 L55.48,511.39 L54.81,511.39 L54.81,510.02 L54.14,510.02 L54.14,510.96 L53.47,510.96 L53.47,510.42 L52.79,510.42 L52.79,510.77 L52.12,510.77 L52.12,509.80 L51.45,509.80 L51.45,509.31 L50.78,509.31 L50.78,511.48 L50.11,511.48 L50.11,513.95 L49.44,513.95 L49.44,512.06 L48.77,512.06 L48.77,512.47 L48.10,512.47 L48.10,510.85 L47.43,510.85 L47.43,511.91 L46.76,511.91 L46.76,511.95 L46.09,511.95 L46.09,508.57 L45.41,508.57 L45.41,509.88 L44.74,509.88 L44.74,510.21 L44.07,510.21 L44.07,511.85 L43.40,511.85 L43.40,514.11 L42.73,514.11 L42.73,510.47 L42.06,510.47 L42.06,509.58 L41.39,509.58 L41.39,508.48 L40.72,508.48 L40.72,508.36 L40.05,508.36 L40.05,511.19 L39.38,511.19 L39.38,513.21 L38.71,513.21 L38.71,512.10 L38.03,512.10 L38.03,513.57 L37.36,513.57 L37.36,513.27 L36.69,513.27 L36.69,512.35 L36.02,512.35 L36.02,508.77 L35.35,508.77 L35.35,508.49 L34.68,508.49 L34.68,508.14 L34.01,508.14 L34.01,512.99 L33.34,512.99 L33.34,513.56 L32.67,513.56 L32.67,512.74 L32.00,512.74 L32.00,512.38 L31.33,512.38 L31.33,508.73 L30.65,508.73 L30.65,510.12 L29.98,510.12 L29.98,509.74 L29.31,509.74 L29.31,518.16 L28.64,518.16 L28.64,517.28 L27.97,517.28 L27.97,518.25 L27.30,518.25Z" fill="#3f8f7e"/>
<line x1="26.50" y1="503.70" x2="26.50" y2="538.60" stroke="#222" stroke-width="0.8" />
<line x1="24.30" y1="538.30" x2="26.50" y2="538.30" stroke="#222" stroke-width="0.7" />
<text x="21.30" y="540.70" font-size="7" text-anchor="end">0</text>
<line x1="24.30" y1="525.20" x2="26.50" y2="525.20" stroke="#222" stroke-width="0.7" />
<text x="21.30" y="527.60" font-size="7" text-anchor="end">10</text>
<line x1="24.30" y1="512.10" x2="26.50" y2="512.10" stroke="#222" stroke-width="0.7" />
<text x="21.30" y="514.50" font-size="7" text-anchor="end">20</text>
<rect x="27.30" y="541.20" width="0.69" height="4.00" fill="#1b3d6e" />
<rect x="27.97" y="541.20" width="2.70" height="4.00" fill="#3ea6de" />
<rect x="30.65" y="541.20" width="3.37" height="4.00" fill="#1b3d6e" />
<rect x="34.01" y="541.20" width="6.06" height="4.00" fill="#3ea6de" />
<rect x="40.05" y="541.20" width="0.69" height="4.00" fill="#1b3d6e" />
<rect x="40.72" y="541.20" width="6.73" height="4.00" fill="#3ea6de" />
<rect x="47.43" y="541.20" width="3.37" height="4.00" fill="#1b3d6e" />
<rect x="50.78" y="541.20" width="3.37" height="4.00" fill="#3ea6de" />
<rect x="54.14" y="541.20" width="0.69" height="4.00" fill="#d6892c" />
<rect x="54.81" y="541.20" width="1.36" height="4.00" fill="#1b3d6e" />
<rect x="56.15" y="541.20" width="5.39" height="4.00" fill="#3ea6de" />
<rect x="61.52" y="541.20" width="1.36" height="4.00" fill="#3aaa3a" />
<rect x="62.86" y="541.20" width="0.69" height="4.00" fill="#1b3d6e" />
<rect x="63.53" y="541.20" width="1.36" height="4.00" fill="#3ea6de" />
<rect x="64.87" y="541.20" width="0.69" height="4.00" fill="#1b3d6e" />
<rect x="65.54" y="541.20" width="1.36" height="4.00" fill="#3ea6de" />
<rect x="66.88" y="541.20" width="2.70" height="4.00" fill="#1b3d6e" />
<rect x="69.57" y="541.20" width="0.69" height="4.00" fill="#3ea6de" />
<rect x="70.24" y="541.20" width="1.36" height="4.00" fill="#1b3d6e" />
<rect x="71.58" y="541.20" width="7.40" height="4.00" fill="#3ea6de" />
<rect x="78.96" y="541.20" width="0.69" height="4.00" fill="#1b3d6e" />
<rect x="79.63" y="541.20" width="0.69" height="4.00" fill="#d6892c" />
<rect x="80.30" y="541.20" width="0.69" height="4.00" fill="#1b3d6e" />
<rect x="80.97" y="541.20" width="2.03" height="4.00" fill="#3ea6de" />
<rect x="82.98" y="541.20" width="0.69" height="4.00" fill="#1b3d6e" />
<rect x="83.66" y="541.20" width="3.37" height="4.00" fill="#3ea6de" />
<rect x="87.01" y="541.20" width="0.69" height="4.00" fill="#d6892c" />
<rect x="87.68" y="541.20" width="2.70" height="4.00" fill="#3ea6de" />
<rect x="90.36" y="541.20" width="3.37" height="4.00" fill="#1b3d6e" />
<rect x="93.72" y="541.20" width="6.73" height="4.00" fill="#3ea6de" />
<rect x="100.43" y="541.20" width="1.36" height="4.00" fill="#1b3d6e" />
<rect x="101.77" y="541.20" width="0.69" height="4.00" fill="#5b2a6c" />
<rect x="102.44" y="541.20" width="3.37" height="4.00" fill="#3ea6de" />
<rect x="105.80" y="541.20" width="3.37" height="4.00" fill="#1b3d6e" />
<rect x="109.15" y="541.20" width="2.70" height="4.00" fill="#3ea6de" />
<rect x="111.83" y="541.20" width="0.69" height="4.00" fill="#3aaa3a" />
<rect x="112.50" y="541.20" width="2.70" height="4.00" fill="#3ea6de" />
<rect x="115.19" y="541.20" width="3.37" height="4.00" fill="#1b3d6e" />
<rect x="118.54" y="541.20" width="9.41" height="4.00" fill="#3ea6de" />
<rect x="127.94" y="541.20" width="0.69" height="4.00" fill="#3aaa3a" />
<rect x="128.61" y="541.20" width="2.03" height="4.00" fill="#3ea6de" />
<rect x="130.62" y="541.20" width="1.36" height="4.00" fill="#1b3d6e" />
<rect x="131.96" y="541.20" width="0.69" height="4.00" fill="#5b2a6c" />
<rect x="132.63" y="541.20" width="2.03" height="4.00" fill="#3ea6de" />
<rect x="134.64" y="541.20" width="1.36" height="4.00" fill="#1b3d6e" />
<rect x="135.99" y="541.20" width="14.78" height="4.00" fill="#3ea6de" />
<rect x="150.75" y="541.20" width="2.03" height="4.00" fill="#1b3d6e" />
<rect x="152.76" y="541.20" width="1.36" height="4.00" fill="#3ea6de" />
<rect x="154.10" y="541.20" width="1.36" height="4.00" fill="#1b3d6e" />
<rect x="155.44" y="541.20" width="2.03" height="4.00" fill="#3ea6de" />
<rect x="157.45" y="541.20" width="0.69" height="4.00" fill="#1b3d6e" />
<rect x="158.13" y="541.20" width="4.05" height="4.00" fill="#3ea6de" />
<rect x="162.15" y="541.20" width="2.03" height="4.00" fill="#1b3d6e" />
<rect x="164.16" y="541.20" width="1.36" height="4.00" fill="#3ea6de" />
<rect x="165.51" y="541.20" width="0.69" height="4.00" fill="#3aaa3a" />
<rect x="166.18" y="541.20" width="0.69" height="4.00" fill="#1b3d6e" />
<rect x="166.85" y="541.20" width="2.03" height="4.00" fill="#3ea6de" />
<rect x="168.86" y="541.20" width="2.03" height="4.00" fill="#1b3d6e" />
<rect x="170.87" y="541.20" width="3.37" height="4.00" fill="#3ea6de" />
<rect x="174.23" y="541.20" width="3.37" height="4.00" fill="#1b3d6e" />
<rect x="177.58" y="541.20" width="2.03" height="4.00" fill="#3ea6de" />
<rect x="179.59" y="541.20" width="0.69" height="4.00" fill="#1b3d6e" />
<rect x="180.27" y="541.20" width="4.05" height="4.00" fill="#3ea6de" />
<rect x="184.29" y="541.20" width="0.69" height="4.00" fill="#1b3d6e" />
<rect x="184.96" y="541.20" width="6.06" height="4.00" fill="#3ea6de" />
<rect x="27.30" y="547.30" width="85.22" height="4.10" fill="#0e6a47" />
<rect x="112.50" y="547.30" width="78.52" height="4.10" fill="#c9c8cd" />
<text x="193.60" y="551.00" font-size="5.5" font-style="italic" fill="#444">TET2</text>
<rect x="27.30" y="552.97" width="16.12" height="4.10" fill="#0e6a47" />
<rect x="43.40" y="552.97" width="69.12" height="4.10" fill="#c9c8cd" />
<rect x="112.50" y="552.97" width="20.82" height="4.10" fill="#0e6a47" />
<rect x="133.30" y="552.97" width="57.72" height="4.10" fill="#c9c8cd" />
<text x="193.60" y="556.67" font-size="5.5" font-style="italic" fill="#444">SF3B1</text>
<rect x="27.30" y="558.64" width="8.74" height="4.10" fill="#c9c8cd" />
<rect x="36.69" y="558.64" width="1.36" height="4.10" fill="#c9c8cd" />
<rect x="38.71" y="558.64" width="4.72" height="4.10" fill="#c9c8cd" />
<rect x="43.40" y="558.64" width="24.84" height="4.10" fill="#0e6a47" />
<rect x="68.22" y="558.64" width="1.36" height="4.10" fill="#c9c8cd" />
<rect x="70.24" y="558.64" width="28.20" height="4.10" fill="#c9c8cd" />
<rect x="99.09" y="558.64" width="0.69" height="4.10" fill="#c9c8cd" />
<rect x="100.43" y="558.64" width="29.54" height="4.10" fill="#c9c8cd" />
<rect x="130.62" y="558.64" width="2.70" height="4.10" fill="#c9c8cd" />
<rect x="133.30" y="558.64" width="10.08" height="4.10" fill="#0e6a47" />
<rect x="143.37" y="558.64" width="0.69" height="4.10" fill="#c9c8cd" />
<rect x="144.71" y="558.64" width="2.70" height="4.10" fill="#c9c8cd" />
<rect x="148.06" y="558.64" width="20.82" height="4.10" fill="#c9c8cd" />
<rect x="169.53" y="558.64" width="6.06" height="4.10" fill="#c9c8cd" />
<rect x="176.24" y="558.64" width="14.78" height="4.10" fill="#c9c8cd" />
<text x="193.60" y="562.34" font-size="5.5" font-style="italic" fill="#444">SRSF2</text>
<rect x="27.30" y="564.31" width="1.36" height="4.10" fill="#c9c8cd" />
<rect x="28.64" y="564.31" width="0.69" height="4.10" fill="#0e6a47" />
<rect x="29.31" y="564.31" width="11.43" height="4.10" fill="#c9c8cd" />
<rect x="40.72" y="564.31" width="0.69" height="4.10" fill="#0e6a47" />
<rect x="42.06" y="564.31" width="1.36" height="4.10" fill="#c9c8cd" />
<rect x="43.40" y="564.31" width="8.74" height="4.10" fill="#0e6a47" />
<rect x="52.12" y="564.31" width="0.69" height="4.10" fill="#c9c8cd" />
<rect x="52.79" y="564.31" width="0.69" height="4.10" fill="#0e6a47" />
<rect x="53.47" y="564.31" width="14.78" height="4.10" fill="#c9c8cd" />
<rect x="68.22" y="564.31" width="10.08" height="4.10" fill="#0e6a47" />
<rect x="78.29" y="564.31" width="17.46" height="4.10" fill="#c9c8cd" />
<rect x="96.40" y="564.31" width="10.75" height="4.10" fill="#c9c8cd" />
<rect x="107.14" y="564.31" width="0.69" height="4.10" fill="#0e6a47" />
<rect x="107.81" y="564.31" width="3.37" height="4.10" fill="#c9c8cd" />
<rect x="111.16" y="564.31" width="0.69" height="4.10" fill="#0e6a47" />
<rect x="111.83" y="564.31" width="17.46" height="4.10" fill="#c9c8cd" />
<rect x="129.28" y="564.31" width="0.69" height="4.10" fill="#0e6a47" />
<rect x="129.95" y="564.31" width="3.37" height="4.10" fill="#c9c8cd" />
<rect x="133.30" y="564.31" width="4.72" height="4.10" fill="#0e6a47" />
<rect x="138.00" y="564.31" width="6.06" height="4.10" fill="#c9c8cd" />
<rect x="144.04" y="564.31" width="6.73" height="4.10" fill="#0e6a47" />
<rect x="150.75" y="564.31" width="2.70" height="4.10" fill="#c9c8cd" />
<rect x="154.10" y="564.31" width="32.22" height="4.10" fill="#c9c8cd" />
<rect x="186.30" y="564.31" width="0.69" height="4.10" fill="#0e6a47" />
<rect x="186.97" y="564.31" width="4.05" height="4.10" fill="#c9c8cd" />
<text x="193.60" y="568.01" font-size="5.5" font-style="italic" fill="#444">ASXL1</text>
<rect x="27.30" y="569.98" width="5.39" height="4.10" fill="#c9c8cd" />
<rect x="32.67" y="569.98" width="0.69" height="4.10" fill="#0e6a47" />
<rect x="33.34" y="569.98" width="2.03" height="4.10" fill="#c9c8cd" />
<rect x="35.35" y="569.98" width="0.69" height="4.10" fill="#0e6a47" />
<rect x="36.02" y="569.98" width="42.29" height="4.10" fill="#c9c8cd" />
<rect x="78.29" y="569.98" width="13.44" height="4.10" fill="#0e6a47" />
<rect x="91.71" y="569.98" width="6.73" height="4.10" fill="#c9c8cd" />
<rect x="99.09" y="569.98" width="3.37" height="4.10" fill="#c9c8cd" />
<rect x="103.11" y="569.98" width="6.06" height="4.10" fill="#c9c8cd" />
<rect x="109.15" y="569.98" width="0.69" height="4.10" fill="#0e6a47" />
<rect x="109.82" y="569.98" width="4.72" height="4.10" fill="#c9c8cd" />
<rect x="114.52" y="569.98" width="0.69" height="4.10" fill="#0e6a47" />
<rect x="115.19" y="569.98" width="4.72" height="4.10" fill="#c9c8cd" />
<rect x="119.88" y="569.98" width="0.69" height="4.10" fill="#0e6a47" />
<rect x="120.56" y="569.98" width="8.07" height="4.10" fill="#c9c8cd" />
<rect x="129.28" y="569.98" width="10.75" height="4.10" fill="#c9c8cd" />
<rect x="140.68" y="569.98" width="9.41" height="4.10" fill="#c9c8cd" />
<rect x="150.07" y="569.98" width="4.72" height="4.10" fill="#0e6a47" />
<rect x="154.77" y="569.98" width="8.07" height="4.10" fill="#c9c8cd" />
<rect x="162.82" y="569.98" width="0.69" height="4.10" fill="#0e6a47" />
<rect x="163.49" y="569.98" width="0.69" height="4.10" fill="#c9c8cd" />
<rect x="164.16" y="569.98" width="0.69" height="4.10" fill="#0e6a47" />
<rect x="164.83" y="569.98" width="8.74" height="4.10" fill="#c9c8cd" />
<rect x="174.23" y="569.98" width="16.79" height="4.10" fill="#c9c8cd" />
<text x="193.60" y="573.68" font-size="5.5" font-style="italic" fill="#444">ZRSR2</text>
<rect x="27.30" y="575.65" width="0.69" height="4.10" fill="#c9c8cd" />
<rect x="27.97" y="575.65" width="0.69" height="4.10" fill="#0e6a47" />
<rect x="28.64" y="575.65" width="42.29" height="4.10" fill="#c9c8cd" />
<rect x="70.91" y="575.65" width="0.69" height="4.10" fill="#0e6a47" />
<rect x="71.58" y="575.65" width="19.48" height="4.10" fill="#c9c8cd" />
<rect x="91.04" y="575.65" width="6.73" height="4.10" fill="#0e6a47" />
<rect x="97.74" y="575.65" width="17.46" height="4.10" fill="#c9c8cd" />
<rect x="115.19" y="575.65" width="0.69" height="4.10" fill="#0e6a47" />
<rect x="115.86" y="575.65" width="10.75" height="4.10" fill="#c9c8cd" />
<rect x="126.59" y="575.65" width="0.69" height="4.10" fill="#0e6a47" />
<rect x="127.26" y="575.65" width="2.03" height="4.10" fill="#c9c8cd" />
<rect x="129.28" y="575.65" width="0.69" height="4.10" fill="#0e6a47" />
<rect x="129.95" y="575.65" width="5.39" height="4.10" fill="#c9c8cd" />
<rect x="135.32" y="575.65" width="0.69" height="4.10" fill="#0e6a47" />
<rect x="135.99" y="575.65" width="18.13" height="4.10" fill="#c9c8cd" />
<rect x="154.10" y="575.65" width="7.40" height="4.10" fill="#0e6a47" />
<rect x="161.48" y="575.65" width="16.79" height="4.10" fill="#c9c8cd" />
<rect x="178.25" y="575.65" width="0.69" height="4.10" fill="#0e6a47" />
<rect x="178.92" y="575.65" width="4.05" height="4.10" fill="#c9c8cd" />
<rect x="182.95" y="575.65" width="0.69" height="4.10" fill="#0e6a47" />
<rect x="183.62" y="575.65" width="7.40" height="4.10" fill="#c9c8cd" />
<text x="193.60" y="579.35" font-size="5.5" font-style="italic" fill="#444">DNMT3A</text>
<rect x="27.30" y="581.32" width="0.69" height="4.10" fill="#c9c8cd" />
<rect x="27.97" y="581.32" width="0.69" height="4.10" fill="#0e6a47" />
<rect x="28.64" y="581.32" width="1.36" height="4.10" fill="#c9c8cd" />
<rect x="29.98" y="581.32" width="0.69" height="4.10" fill="#0e6a47" />
<rect x="30.65" y="581.32" width="6.73" height="4.10" fill="#c9c8cd" />
<rect x="37.36" y="581.32" width="0.69" height="4.10" fill="#0e6a47" />
<rect x="38.03" y="581.32" width="18.81" height="4.10" fill="#c9c8cd" />
<rect x="56.82" y="581.32" width="0.69" height="4.10" fill="#0e6a47" />
<rect x="57.49" y="581.32" width="0.69" height="4.10" fill="#c9c8cd" />
<rect x="58.16" y="581.32" width="0.69" height="4.10" fill="#0e6a47" />
<rect x="58.83" y="581.32" width="10.75" height="4.10" fill="#c9c8cd" />
<rect x="69.57" y="581.32" width="0.69" height="4.10" fill="#0e6a47" />
<rect x="70.24" y="581.32" width="3.37" height="4.10" fill="#c9c8cd" />
<rect x="74.26" y="581.32" width="8.07" height="4.10" fill="#c9c8cd" />
<rect x="82.31" y="581.32" width="0.69" height="4.10" fill="#0e6a47" />
<rect x="82.98" y="581.32" width="0.69" height="4.10" fill="#c9c8cd" />
<rect x="83.66" y="581.32" width="0.69" height="4.10" fill="#0e6a47" />
<rect x="84.33" y="581.32" width="2.03" height="4.10" fill="#c9c8cd" />
<rect x="86.34" y="581.32" width="0.69" height="4.10" fill="#0e6a47" />
<rect x="87.01" y="581.32" width="10.75" height="4.10" fill="#c9c8cd" />
<rect x="97.74" y="581.32" width="4.05" height="4.10" fill="#0e6a47" />
<rect x="101.77" y="581.32" width="3.37" height="4.10" fill="#c9c8cd" />
<rect x="105.12" y="581.32" width="0.69" height="4.10" fill="#0e6a47" />
<rect x="105.80" y="581.32" width="18.13" height="4.10" fill="#c9c8cd" />
<rect x="123.91" y="581.32" width="0.69" height="4.10" fill="#0e6a47" />
<rect x="124.58" y="581.32" width="12.77" height="4.10" fill="#c9c8cd" />
<rect x="138.00" y="581.32" width="12.10" height="4.10" fill="#c9c8cd" />
<rect x="150.75" y="581.32" width="11.43" height="4.10" fill="#c9c8cd" />
<rect x="162.15" y="581.32" width="4.72" height="4.10" fill="#0e6a47" />
<rect x="166.85" y="581.32" width="8.07" height="4.10" fill="#c9c8cd" />
<rect x="174.90" y="581.32" width="0.69" height="4.10" fill="#0e6a47" />
<rect x="175.57" y="581.32" width="8.07" height="4.10" fill="#c9c8cd" />
<rect x="184.29" y="581.32" width="6.06" height="4.10" fill="#c9c8cd" />
<rect x="190.33" y="581.32" width="0.69" height="4.10" fill="#0e6a47" />
<text x="193.60" y="585.02" font-size="5.5" font-style="italic" fill="#444">U2AF1</text>
<rect x="27.30" y="586.99" width="9.41" height="4.10" fill="#c9c8cd" />
<rect x="36.69" y="586.99" width="0.69" height="4.10" fill="#0e6a47" />
<rect x="37.36" y="586.99" width="2.03" height="4.10" fill="#c9c8cd" />
<rect x="39.38" y="586.99" width="0.69" height="4.10" fill="#0e6a47" />
<rect x="40.05" y="586.99" width="16.79" height="4.10" fill="#c9c8cd" />
<rect x="56.82" y="586.99" width="0.69" height="4.10" fill="#0e6a47" />
<rect x="57.49" y="586.99" width="4.05" height="4.10" fill="#c9c8cd" />
<rect x="62.19" y="586.99" width="4.72" height="4.10" fill="#c9c8cd" />
<rect x="66.88" y="586.99" width="0.69" height="4.10" fill="#0e6a47" />
<rect x="67.55" y="586.99" width="1.36" height="4.10" fill="#c9c8cd" />
<rect x="68.90" y="586.99" width="0.69" height="4.10" fill="#0e6a47" />
<rect x="69.57" y="586.99" width="3.37" height="4.10" fill="#c9c8cd" />
<rect x="73.59" y="586.99" width="0.69" height="4.10" fill="#c9c8cd" />
<rect x="74.26" y="586.99" width="0.69" height="4.10" fill="#0e6a47" />
<rect x="74.93" y="586.99" width="10.08" height="4.10" fill="#c9c8cd" />
<rect x="85.00" y="586.99" width="0.69" height="4.10" fill="#0e6a47" />
<rect x="85.67" y="586.99" width="16.12" height="4.10" fill="#c9c8cd" />
<rect x="101.77" y="586.99" width="2.70" height="4.10" fill="#0e6a47" />
<rect x="104.45" y="586.99" width="0.69" height="4.10" fill="#c9c8cd" />
<rect x="105.12" y="586.99" width="0.69" height="4.10" fill="#0e6a47" />
<rect x="105.80" y="586.99" width="3.37" height="4.10" fill="#c9c8cd" />
<rect x="109.15" y="586.99" width="0.69" height="4.10" fill="#0e6a47" />
<rect x="109.82" y="586.99" width="2.70" height="4.10" fill="#c9c8cd" />
<rect x="113.18" y="586.99" width="14.11" height="4.10" fill="#c9c8cd" />
<rect x="127.94" y="586.99" width="9.41" height="4.10" fill="#c9c8cd" />
<rect x="137.33" y="586.99" width="0.69" height="4.10" fill="#0e6a47" />
<rect x="138.00" y="586.99" width="3.37" height="4.10" fill="#c9c8cd" />
<rect x="142.02" y="586.99" width="16.79" height="4.10" fill="#c9c8cd" />
<rect x="158.80" y="586.99" width="0.69" height="4.10" fill="#0e6a47" />
<rect x="159.47" y="586.99" width="12.10" height="4.10" fill="#c9c8cd" />
<rect x="172.21" y="586.99" width="4.05" height="4.10" fill="#c9c8cd" />
<rect x="176.24" y="586.99" width="0.69" height="4.10" fill="#0e6a47" />
<rect x="176.91" y="586.99" width="1.36" height="4.10" fill="#c9c8cd" />
<rect x="178.25" y="586.99" width="0.69" height="4.10" fill="#0e6a47" />
<rect x="178.92" y="586.99" width="4.72" height="4.10" fill="#c9c8cd" />
<rect x="183.62" y="586.99" width="0.69" height="4.10" fill="#0e6a47" />
<rect x="184.29" y="586.99" width="2.03" height="4.10" fill="#c9c8cd" />
<rect x="186.97" y="586.99" width="0.69" height="4.10" fill="#c9c8cd" />
<rect x="188.32" y="586.99" width="2.70" height="4.10" fill="#c9c8cd" />
<text x="193.60" y="590.69" font-size="5.5" font-style="italic" fill="#444">RUNX1</text>
<rect x="27.30" y="592.66" width="1.36" height="4.10" fill="#c9c8cd" />
<rect x="28.64" y="592.66" width="0.69" height="4.10" fill="#0e6a47" />
<rect x="29.31" y="592.66" width="10.08" height="4.10" fill="#c9c8cd" />
<rect x="40.05" y="592.66" width="9.41" height="4.10" fill="#c9c8cd" />
<rect x="50.11" y="592.66" width="12.77" height="4.10" fill="#c9c8cd" />
<rect x="62.86" y="592.66" width="0.69" height="4.10" fill="#0e6a47" />
<rect x="63.53" y="592.66" width="0.69" height="4.10" fill="#c9c8cd" />
<rect x="64.20" y="592.66" width="0.69" height="4.10" fill="#0e6a47" />
<rect x="64.87" y="592.66" width="9.41" height="4.10" fill="#c9c8cd" />
<rect x="74.26" y="592.66" width="0.69" height="4.10" fill="#0e6a47" />
<rect x="74.93" y="592.66" width="2.70" height="4.10" fill="#c9c8cd" />
<rect x="78.29" y="592.66" width="4.05" height="4.10" fill="#c9c8cd" />
<rect x="82.98" y="592.66" width="19.48" height="4.10" fill="#c9c8cd" />
<rect x="102.44" y="592.66" width="0.69" height="4.10" fill="#0e6a47" />
<rect x="103.11" y="592.66" width="0.69" height="4.10" fill="#c9c8cd" />
<rect x="104.45" y="592.66" width="6.73" height="4.10" fill="#c9c8cd" />
<rect x="111.16" y="592.66" width="0.69" height="4.10" fill="#0e6a47" />
<rect x="111.83" y="592.66" width="8.07" height="4.10" fill="#c9c8cd" />
<rect x="119.88" y="592.66" width="0.69" height="4.10" fill="#0e6a47" />
<rect x="120.56" y="592.66" width="1.36" height="4.10" fill="#c9c8cd" />
<rect x="122.57" y="592.66" width="5.39" height="4.10" fill="#c9c8cd" />
<rect x="127.94" y="592.66" width="0.69" height="4.10" fill="#0e6a47" />
<rect x="128.61" y="592.66" width="3.37" height="4.10" fill="#c9c8cd" />
<rect x="131.96" y="592.66" width="0.69" height="4.10" fill="#0e6a47" />
<rect x="132.63" y="592.66" width="2.03" height="4.10" fill="#c9c8cd" />
<rect x="135.32" y="592.66" width="22.83" height="4.10" fill="#c9c8cd" />
<rect x="158.80" y="592.66" width="5.39" height="4.10" fill="#c9c8cd" />
<rect x="164.16" y="592.66" width="0.69" height="4.10" fill="#0e6a47" />
<rect x="164.83" y="592.66" width="8.07" height="4.10" fill="#c9c8cd" />
<rect x="173.56" y="592.66" width="8.74" height="4.10" fill="#c9c8cd" />
<rect x="182.28" y="592.66" width="0.69" height="4.10" fill="#0e6a47" />
<rect x="182.95" y="592.66" width="0.69" height="4.10" fill="#c9c8cd" />
<rect x="183.62" y="592.66" width="0.69" height="4.10" fill="#0e6a47" />
<rect x="184.29" y="592.66" width="2.70" height="4.10" fill="#c9c8cd" />
<rect x="186.97" y="592.66" width="0.69" height="4.10" fill="#0e6a47" />
<rect x="187.65" y="592.66" width="2.70" height="4.10" fill="#c9c8cd" />
<rect x="190.33" y="592.66" width="0.69" height="4.10" fill="#0e6a47" />
<text x="193.60" y="596.36" font-size="5.5" font-style="italic" fill="#444">CBL</text>
<rect x="27.30" y="598.33" width="57.05" height="4.10" fill="#c9c8cd" />
<rect x="84.33" y="598.33" width="0.69" height="4.10" fill="#0e6a47" />
<rect x="85.00" y="598.33" width="36.25" height="4.10" fill="#c9c8cd" />
<rect x="121.23" y="598.33" width="1.36" height="4.10" fill="#0e6a47" />
<rect x="122.57" y="598.33" width="43.63" height="4.10" fill="#c9c8cd" />
<rect x="166.18" y="598.33" width="4.05" height="4.10" fill="#0e6a47" />
<rect x="170.20" y="598.33" width="20.82" height="4.10" fill="#c9c8cd" />
<text x="193.60" y="602.03" font-size="5.5" font-style="italic" fill="#444">TP53</text>
<rect x="27.30" y="604.00" width="12.10" height="4.10" fill="#c9c8cd" />
<rect x="39.38" y="604.00" width="0.69" height="4.10" fill="#0e6a47" />
<rect x="40.05" y="604.00" width="2.03" height="4.10" fill="#c9c8cd" />
<rect x="42.06" y="604.00" width="0.69" height="4.10" fill="#0e6a47" />
<rect x="42.73" y="604.00" width="4.05" height="4.10" fill="#c9c8cd" />
<rect x="46.76" y="604.00" width="1.36" height="4.10" fill="#0e6a47" />
<rect x="48.10" y="604.00" width="14.78" height="4.10" fill="#c9c8cd" />
<rect x="62.86" y="604.00" width="0.69" height="4.10" fill="#0e6a47" />
<rect x="63.53" y="604.00" width="2.70" height="4.10" fill="#c9c8cd" />
<rect x="66.21" y="604.00" width="0.69" height="4.10" fill="#0e6a47" />
<rect x="66.88" y="604.00" width="6.73" height="4.10" fill="#c9c8cd" />
<rect x="73.59" y="604.00" width="0.69" height="4.10" fill="#0e6a47" />
<rect x="74.26" y="604.00" width="3.37" height="4.10" fill="#c9c8cd" />
<rect x="78.29" y="604.00" width="0.69" height="4.10" fill="#c9c8cd" />
<rect x="78.96" y="604.00" width="0.69" height="4.10" fill="#0e6a47" />
<rect x="79.63" y="604.00" width="0.69" height="4.10" fill="#c9c8cd" />
<rect x="80.30" y="604.00" width="0.69" height="4.10" fill="#0e6a47" />
<rect x="80.97" y="604.00" width="19.48" height="4.10" fill="#c9c8cd" />
<rect x="100.43" y="604.00" width="0.69" height="4.10" fill="#0e6a47" />
<rect x="101.10" y="604.00" width="4.05" height="4.10" fill="#c9c8cd" />
<rect x="105.80" y="604.00" width="4.05" height="4.10" fill="#c9c8cd" />
<rect x="110.49" y="604.00" width="0.69" height="4.10" fill="#0e6a47" />
<rect x="111.16" y="604.00" width="7.40" height="4.10" fill="#c9c8cd" />
<rect x="118.54" y="604.00" width="0.69" height="4.10" fill="#0e6a47" />
<rect x="119.21" y="604.00" width="4.72" height="4.10" fill="#c9c8cd" />
<rect x="123.91" y="604.00" width="0.69" height="4.10" fill="#0e6a47" />
<rect x="124.58" y="604.00" width="8.07" height="4.10" fill="#c9c8cd" />
<rect x="133.30" y="604.00" width="9.41" height="4.10" fill="#c9c8cd" />
<rect x="142.70" y="604.00" width="0.69" height="4.10" fill="#0e6a47" />
<rect x="143.37" y="604.00" width="3.37" height="4.10" fill="#c9c8cd" />
<rect x="146.72" y="604.00" width="0.69" height="4.10" fill="#0e6a47" />
<rect x="147.39" y="604.00" width="4.05" height="4.10" fill="#c9c8cd" />
<rect x="152.09" y="604.00" width="6.06" height="4.10" fill="#c9c8cd" />
<rect x="158.13" y="604.00" width="0.69" height="4.10" fill="#0e6a47" />
<rect x="158.80" y="604.00" width="2.03" height="4.10" fill="#c9c8cd" />
<rect x="161.48" y="604.00" width="4.72" height="4.10" fill="#c9c8cd" />
<rect x="166.18" y="604.00" width="0.69" height="4.10" fill="#0e6a47" />
<rect x="166.85" y="604.00" width="9.41" height="4.10" fill="#c9c8cd" />
<rect x="176.91" y="604.00" width="14.11" height="4.10" fill="#c9c8cd" />
<text x="193.60" y="607.70" font-size="5.5" font-style="italic" fill="#444">EZH2</text>
<rect x="27.30" y="609.67" width="0.69" height="4.10" fill="#c9c8cd" />
<rect x="27.97" y="609.67" width="0.69" height="4.10" fill="#0e6a47" />
<rect x="28.64" y="609.67" width="0.69" height="4.10" fill="#c9c8cd" />
<rect x="29.98" y="609.67" width="6.06" height="4.10" fill="#c9c8cd" />
<rect x="36.69" y="609.67" width="3.37" height="4.10" fill="#c9c8cd" />
<rect x="40.72" y="609.67" width="6.06" height="4.10" fill="#c9c8cd" />
<rect x="46.76" y="609.67" width="0.69" height="4.10" fill="#0e6a47" />
<rect x="48.10" y="609.67" width="0.69" height="4.10" fill="#0e6a47" />
<rect x="50.11" y="609.67" width="3.37" height="4.10" fill="#c9c8cd" />
<rect x="54.14" y="609.67" width="4.05" height="4.10" fill="#c9c8cd" />
<rect x="58.83" y="609.67" width="0.69" height="4.10" fill="#c9c8cd" />
<rect x="60.17" y="609.67" width="3.37" height="4.10" fill="#c9c8cd" />
<rect x="64.20" y="609.67" width="7.40" height="4.10" fill="#c9c8cd" />
<rect x="71.58" y="609.67" width="0.69" height="4.10" fill="#0e6a47" />
<rect x="72.25" y="609.67" width="12.10" height="4.10" fill="#c9c8cd" />
<rect x="85.00" y="609.67" width="6.73" height="4.10" fill="#c9c8cd" />
<rect x="92.38" y="609.67" width="1.36" height="4.10" fill="#c9c8cd" />
<rect x="98.42" y="609.67" width="3.37" height="4.10" fill="#c9c8cd" />
<rect x="102.44" y="609.67" width="4.05" height="4.10" fill="#c9c8cd" />
<rect x="107.14" y="609.67" width="4.72" height="4.10" fill="#c9c8cd" />
<rect x="112.50" y="609.67" width="4.05" height="4.10" fill="#c9c8cd" />
<rect x="117.20" y="609.67" width="8.07" height="4.10" fill="#c9c8cd" />
<rect x="125.92" y="609.67" width="2.03" height="4.10" fill="#c9c8cd" />
<rect x="128.61" y="609.67" width="2.03" height="4.10" fill="#c9c8cd" />
<rect x="131.96" y="609.67" width="4.72" height="4.10" fill="#c9c8cd" />
<rect x="137.33" y="609.67" width="3.37" height="4.10" fill="#c9c8cd" />
<rect x="141.35" y="609.67" width="4.05" height="4.10" fill="#c9c8cd" />
<rect x="146.05" y="609.67" width="8.74" height="4.10" fill="#c9c8cd" />
<rect x="155.44" y="609.67" width="5.39" height="4.10" fill="#c9c8cd" />
<rect x="160.81" y="609.67" width="0.69" height="4.10" fill="#0e6a47" />
<rect x="161.48" y="609.67" width="4.05" height="4.10" fill="#c9c8cd" />
<rect x="166.18" y="609.67" width="2.03" height="4.10" fill="#c9c8cd" />
<rect x="171.54" y="609.67" width="4.72" height="4.10" fill="#c9c8cd" />
<rect x="176.91" y="609.67" width="3.37" height="4.10" fill="#c9c8cd" />
<rect x="180.94" y="609.67" width="0.69" height="4.10" fill="#0e6a47" />
<rect x="181.61" y="609.67" width="0.69" height="4.10" fill="#c9c8cd" />
<rect x="183.62" y="609.67" width="7.40" height="4.10" fill="#c9c8cd" />
<text x="193.60" y="613.37" font-size="5.5" font-style="italic" fill="#444">STAG2</text>
<rect x="27.30" y="615.34" width="16.12" height="4.10" fill="#c9c8cd" />
<rect x="43.40" y="615.34" width="0.69" height="4.10" fill="#0e6a47" />
<rect x="44.07" y="615.34" width="28.20" height="4.10" fill="#c9c8cd" />
<rect x="72.25" y="615.34" width="0.69" height="4.10" fill="#0e6a47" />
<rect x="72.92" y="615.34" width="26.86" height="4.10" fill="#c9c8cd" />
<rect x="99.76" y="615.34" width="0.69" height="4.10" fill="#0e6a47" />
<rect x="100.43" y="615.34" width="8.07" height="4.10" fill="#c9c8cd" />
<rect x="108.48" y="615.34" width="0.69" height="4.10" fill="#0e6a47" />
<rect x="109.15" y="615.34" width="35.58" height="4.10" fill="#c9c8cd" />
<rect x="144.71" y="615.34" width="0.69" height="4.10" fill="#0e6a47" />
<rect x="145.38" y="615.34" width="27.53" height="4.10" fill="#c9c8cd" />
<rect x="172.89" y="615.34" width="0.69" height="4.10" fill="#0e6a47" />
<rect x="173.56" y="615.34" width="3.37" height="4.10" fill="#c9c8cd" />
<rect x="176.91" y="615.34" width="0.69" height="4.10" fill="#0e6a47" />
<rect x="177.58" y="615.34" width="1.36" height="4.10" fill="#c9c8cd" />
<rect x="178.92" y="615.34" width="0.69" height="4.10" fill="#0e6a47" />
<rect x="179.59" y="615.34" width="11.43" height="4.10" fill="#c9c8cd" />
<text x="193.60" y="619.04" font-size="5.5" font-style="italic" fill="#444">NRAS</text>
<rect x="27.30" y="621.01" width="23.50" height="4.10" fill="#c9c8cd" />
<rect x="50.78" y="621.01" width="0.69" height="4.10" fill="#0e6a47" />
<rect x="51.45" y="621.01" width="16.79" height="4.10" fill="#c9c8cd" />
<rect x="68.22" y="621.01" width="0.69" height="4.10" fill="#0e6a47" />
<rect x="68.90" y="621.01" width="3.37" height="4.10" fill="#c9c8cd" />
<rect x="72.25" y="621.01" width="0.69" height="4.10" fill="#0e6a47" />
<rect x="72.92" y="621.01" width="19.48" height="4.10" fill="#c9c8cd" />
<rect x="92.38" y="621.01" width="0.69" height="4.10" fill="#0e6a47" />
<rect x="93.05" y="621.01" width="14.11" height="4.10" fill="#c9c8cd" />
<rect x="107.14" y="621.01" width="0.69" height="4.10" fill="#0e6a47" />
<rect x="107.81" y="621.01" width="5.39" height="4.10" fill="#c9c8cd" />
<rect x="113.18" y="621.01" width="0.69" height="4.10" fill="#0e6a47" />
<rect x="113.85" y="621.01" width="5.39" height="4.10" fill="#c9c8cd" />
<rect x="119.21" y="621.01" width="0.69" height="4.10" fill="#0e6a47" />
<rect x="119.88" y="621.01" width="7.40" height="4.10" fill="#c9c8cd" />
<rect x="127.26" y="621.01" width="0.69" height="4.10" fill="#0e6a47" />
<rect x="127.94" y="621.01" width="28.87" height="4.10" fill="#c9c8cd" />
<rect x="156.78" y="621.01" width="0.69" height="4.10" fill="#0e6a47" />
<rect x="157.45" y="621.01" width="33.57" height="4.10" fill="#c9c8cd" />
<text x="193.60" y="624.71" font-size="5.5" font-style="italic" fill="#444">JAK2</text>
<rect x="27.30" y="626.68" width="8.07" height="4.10" fill="#c9c8cd" />
<rect x="36.02" y="626.68" width="0.69" height="4.10" fill="#c9c8cd" />
<rect x="37.36" y="626.68" width="11.43" height="4.10" fill="#c9c8cd" />
<rect x="48.77" y="626.68" width="0.69" height="4.10" fill="#0e6a47" />
<rect x="49.44" y="626.68" width="2.03" height="4.10" fill="#c9c8cd" />
<rect x="52.12" y="626.68" width="9.41" height="4.10" fill="#c9c8cd" />
<rect x="62.19" y="626.68" width="4.05" height="4.10" fill="#c9c8cd" />
<rect x="66.88" y="626.68" width="4.72" height="4.10" fill="#c9c8cd" />
<rect x="71.58" y="626.68" width="0.69" height="4.10" fill="#0e6a47" />
<rect x="72.25" y="626.68" width="12.10" height="4.10" fill="#c9c8cd" />
<rect x="85.00" y="626.68" width="3.37" height="4.10" fill="#c9c8cd" />
<rect x="89.02" y="626.68" width="0.69" height="4.10" fill="#c9c8cd" />
<rect x="89.69" y="626.68" width="0.69" height="4.10" fill="#0e6a47" />
<rect x="90.36" y="626.68" width="40.27" height="4.10" fill="#c9c8cd" />
<rect x="131.29" y="626.68" width="0.69" height="4.10" fill="#c9c8cd" />
<rect x="132.63" y="626.68" width="0.69" height="4.10" fill="#c9c8cd" />
<rect x="133.97" y="626.68" width="0.69" height="4.10" fill="#c9c8cd" />
<rect x="134.64" y="626.68" width="0.69" height="4.10" fill="#0e6a47" />
<rect x="135.32" y="626.68" width="4.05" height="4.10" fill="#c9c8cd" />
<rect x="140.01" y="626.68" width="17.46" height="4.10" fill="#c9c8cd" />
<rect x="157.45" y="626.68" width="0.69" height="4.10" fill="#0e6a47" />
<rect x="158.13" y="626.68" width="6.06" height="4.10" fill="#c9c8cd" />
<rect x="164.83" y="626.68" width="2.70" height="4.10" fill="#c9c8cd" />
<rect x="167.52" y="626.68" width="0.69" height="4.10" fill="#0e6a47" />
<rect x="168.19" y="626.68" width="12.10" height="4.10" fill="#c9c8cd" />
<rect x="180.27" y="626.68" width="0.69" height="4.10" fill="#0e6a47" />
<rect x="180.94" y="626.68" width="3.37" height="4.10" fill="#c9c8cd" />
<rect x="184.96" y="626.68" width="1.36" height="4.10" fill="#c9c8cd" />
<rect x="186.97" y="626.68" width="4.05" height="4.10" fill="#c9c8cd" />
<text x="193.60" y="630.38" font-size="5.5" font-style="italic" fill="#444">MPL</text>
<rect x="27.30" y="632.35" width="3.37" height="4.10" fill="#c9c8cd" />
<rect x="31.33" y="632.35" width="8.07" height="4.10" fill="#c9c8cd" />
<rect x="39.38" y="632.35" width="0.69" height="4.10" fill="#0e6a47" />
<rect x="40.05" y="632.35" width="16.12" height="4.10" fill="#c9c8cd" />
<rect x="56.15" y="632.35" width="0.69" height="4.10" fill="#0e6a47" />
<rect x="56.82" y="632.35" width="41.62" height="4.10" fill="#c9c8cd" />
<rect x="98.42" y="632.35" width="0.69" height="4.10" fill="#0e6a47" />
<rect x="99.09" y="632.35" width="8.07" height="4.10" fill="#c9c8cd" />
<rect x="107.14" y="632.35" width="0.69" height="4.10" fill="#0e6a47" />
<rect x="107.81" y="632.35" width="5.39" height="4.10" fill="#c9c8cd" />
<rect x="113.85" y="632.35" width="0.69" height="4.10" fill="#0e6a47" />
<rect x="114.52" y="632.35" width="4.05" height="4.10" fill="#c9c8cd" />
<rect x="118.54" y="632.35" width="0.69" height="4.10" fill="#0e6a47" />
<rect x="119.21" y="632.35" width="12.10" height="4.10" fill="#c9c8cd" />
<rect x="131.96" y="632.35" width="1.36" height="4.10" fill="#c9c8cd" />
<rect x="133.30" y="632.35" width="0.69" height="4.10" fill="#0e6a47" />
<rect x="133.97" y="632.35" width="0.69" height="4.10" fill="#c9c8cd" />
<rect x="135.32" y="632.35" width="32.89" height="4.10" fill="#c9c8cd" />
<rect x="168.19" y="632.35" width="0.69" height="4.10" fill="#0e6a47" />
<rect x="168.86" y="632.35" width="1.36" height="4.10" fill="#c9c8cd" />
<rect x="170.20" y="632.35" width="0.69" height="4.10" fill="#0e6a47" />
<rect x="170.87" y="632.35" width="4.72" height="4.10" fill="#c9c8cd" />
<rect x="176.24" y="632.35" width="8.74" height="4.10" fill="#c9c8cd" />
<rect x="184.96" y="632.35" width="0.69" height="4.10" fill="#0e6a47" />
<rect x="185.63" y="632.35" width="5.39" height="4.10" fill="#c9c8cd" />
<text x="193.60" y="636.05" font-size="5.5" font-style="italic" fill="#444">KRAS</text>
<rect x="27.30" y="638.02" width="10.75" height="4.10" fill="#c9c8cd" />
<rect x="38.03" y="638.02" width="0.69" height="4.10" fill="#0e6a47" />
<rect x="38.71" y="638.02" width="21.49" height="4.10" fill="#c9c8cd" />
<rect x="60.17" y="638.02" width="0.69" height="4.10" fill="#0e6a47" />
<rect x="60.85" y="638.02" width="39.60" height="4.10" fill="#c9c8cd" />
<rect x="100.43" y="638.02" width="0.69" height="4.10" fill="#0e6a47" />
<rect x="101.10" y="638.02" width="30.21" height="4.10" fill="#c9c8cd" />
<rect x="131.29" y="638.02" width="0.69" height="4.10" fill="#0e6a47" />
<rect x="131.96" y="638.02" width="8.74" height="4.10" fill="#c9c8cd" />
<rect x="140.68" y="638.02" width="0.69" height="4.10" fill="#0e6a47" />
<rect x="141.35" y="638.02" width="22.83" height="4.10" fill="#c9c8cd" />
<rect x="164.16" y="638.02" width="0.69" height="4.10" fill="#0e6a47" />
<rect x="164.83" y="638.02" width="11.43" height="4.10" fill="#c9c8cd" />
<rect x="176.24" y="638.02" width="0.69" height="4.10" fill="#0e6a47" />
<rect x="176.91" y="638.02" width="10.75" height="4.10" fill="#c9c8cd" />
<rect x="187.65" y="638.02" width="0.69" height="4.10" fill="#0e6a47" />
<rect x="188.32" y="638.02" width="2.70" height="4.10" fill="#c9c8cd" />
<text x="193.60" y="641.72" font-size="5.5" font-style="italic" fill="#444">IDH2</text>
<rect x="27.30" y="643.69" width="0.69" height="4.10" fill="#0e6a47" />
<rect x="27.97" y="643.69" width="2.70" height="4.10" fill="#c9c8cd" />
<rect x="31.33" y="643.69" width="0.69" height="4.10" fill="#c9c8cd" />
<rect x="32.00" y="643.69" width="0.69" height="4.10" fill="#0e6a47" />
<rect x="32.67" y="643.69" width="21.49" height="4.10" fill="#c9c8cd" />
<rect x="56.15" y="643.69" width="0.69" height="4.10" fill="#0e6a47" />
<rect x="56.82" y="643.69" width="3.37" height="4.10" fill="#c9c8cd" />
<rect x="60.17" y="643.69" width="0.69" height="4.10" fill="#0e6a47" />
<rect x="60.85" y="643.69" width="1.36" height="4.10" fill="#c9c8cd" />
<rect x="62.86" y="643.69" width="7.40" height="4.10" fill="#c9c8cd" />
<rect x="70.24" y="643.69" width="0.69" height="4.10" fill="#0e6a47" />
<rect x="70.91" y="643.69" width="0.69" height="4.10" fill="#c9c8cd" />
<rect x="72.25" y="643.69" width="0.69" height="4.10" fill="#c9c8cd" />
<rect x="72.92" y="643.69" width="0.69" height="4.10" fill="#0e6a47" />
<rect x="73.59" y="643.69" width="2.03" height="4.10" fill="#c9c8cd" />
<rect x="75.60" y="643.69" width="0.69" height="4.10" fill="#0e6a47" />
<rect x="76.28" y="643.69" width="2.70" height="4.10" fill="#c9c8cd" />
<rect x="79.63" y="643.69" width="11.43" height="4.10" fill="#c9c8cd" />
<rect x="91.71" y="643.69" width="7.40" height="4.10" fill="#c9c8cd" />
<rect x="99.76" y="643.69" width="2.70" height="4.10" fill="#c9c8cd" />
<rect x="102.44" y="643.69" width="0.69" height="4.10" fill="#0e6a47" />
<rect x="103.11" y="643.69" width="2.03" height="4.10" fill="#c9c8cd" />
<rect x="105.12" y="643.69" width="1.36" height="4.10" fill="#0e6a47" />
<rect x="106.47" y="643.69" width="0.69" height="4.10" fill="#c9c8cd" />
<rect x="107.14" y="643.69" width="0.69" height="4.10" fill="#0e6a47" />
<rect x="107.81" y="643.69" width="2.03" height="4.10" fill="#c9c8cd" />
<rect x="110.49" y="643.69" width="0.69" height="4.10" fill="#c9c8cd" />
<rect x="111.16" y="643.69" width="0.69" height="4.10" fill="#0e6a47" />
<rect x="111.83" y="643.69" width="5.39" height="4.10" fill="#c9c8cd" />
<rect x="118.54" y="643.69" width="13.44" height="4.10" fill="#c9c8cd" />
<rect x="131.96" y="643.69" width="0.69" height="4.10" fill="#0e6a47" />
<rect x="132.63" y="643.69" width="14.11" height="4.10" fill="#c9c8cd" />
<rect x="147.39" y="643.69" width="4.05" height="4.10" fill="#c9c8cd" />
<rect x="151.42" y="643.69" width="0.69" height="4.10" fill="#0e6a47" />
<rect x="152.09" y="643.69" width="2.70" height="4.10" fill="#c9c8cd" />
<rect x="155.44" y="643.69" width="16.12" height="4.10" fill="#c9c8cd" />
<rect x="172.21" y="643.69" width="5.39" height="4.10" fill="#c9c8cd" />
<rect x="178.25" y="643.69" width="5.39" height="4.10" fill="#c9c8cd" />
<rect x="184.29" y="643.69" width="5.39" height="4.10" fill="#c9c8cd" />
<rect x="189.66" y="643.69" width="0.69" height="4.10" fill="#0e6a47" />
<rect x="190.33" y="643.69" width="0.69" height="4.10" fill="#c9c8cd" />
<text x="193.60" y="647.39" font-size="5.5" font-style="italic" fill="#444">ETV6</text>
<rect x="27.30" y="649.36" width="2.03" height="4.10" fill="#c9c8cd" />
<rect x="29.98" y="649.36" width="2.03" height="4.10" fill="#c9c8cd" />
<rect x="32.67" y="649.36" width="3.37" height="4.10" fill="#c9c8cd" />
<rect x="36.69" y="649.36" width="5.39" height="4.10" fill="#c9c8cd" />
<rect x="42.06" y="649.36" width="0.69" height="4.10" fill="#0e6a47" />
<rect x="43.40" y="649.36" width="2.70" height="4.10" fill="#c9c8cd" />
<rect x="46.09" y="649.36" width="0.69" height="4.10" fill="#0e6a47" />
<rect x="46.76" y="649.36" width="9.41" height="4.10" fill="#c9c8cd" />
<rect x="56.82" y="649.36" width="6.73" height="4.10" fill="#c9c8cd" />
<rect x="63.53" y="649.36" width="0.69" height="4.10" fill="#0e6a47" />
<rect x="64.20" y="649.36" width="8.07" height="4.10" fill="#c9c8cd" />
<rect x="72.25" y="649.36" width="0.69" height="4.10" fill="#0e6a47" />
<rect x="72.92" y="649.36" width="2.70" height="4.10" fill="#c9c8cd" />
<rect x="76.28" y="649.36" width="1.36" height="4.10" fill="#c9c8cd" />
<rect x="78.29" y="649.36" width="6.73" height="4.10" fill="#c9c8cd" />
<rect x="86.34" y="649.36" width="3.37" height="4.10" fill="#c9c8cd" />
<rect x="90.36" y="649.36" width="18.13" height="4.10" fill="#c9c8cd" />
<rect x="109.15" y="649.36" width="8.74" height="4.10" fill="#c9c8cd" />
<rect x="118.54" y="649.36" width="7.40" height="4.10" fill="#c9c8cd" />
<rect x="126.59" y="649.36" width="0.69" height="4.10" fill="#c9c8cd" />
<rect x="127.94" y="649.36" width="2.70" height="4.10" fill="#c9c8cd" />
<rect x="130.62" y="649.36" width="0.69" height="4.10" fill="#0e6a47" />
<rect x="131.29" y="649.36" width="11.43" height="4.10" fill="#c9c8cd" />
<rect x="143.37" y="649.36" width="13.44" height="4.10" fill="#c9c8cd" />
<rect x="157.45" y="649.36" width="19.48" height="4.10" fill="#c9c8cd" />
<rect x="176.91" y="649.36" width="0.69" height="4.10" fill="#0e6a47" />
<rect x="177.58" y="649.36" width="10.75" height="4.10" fill="#c9c8cd" />
<rect x="188.99" y="649.36" width="2.03" height="4.10" fill="#c9c8cd" />
<text x="193.60" y="653.06" font-size="5.5" font-style="italic" fill="#444">PHF6</text>
<rect x="27.30" y="655.03" width="1.36" height="4.10" fill="#c9c8cd" />
<rect x="29.31" y="655.03" width="4.72" height="4.10" fill="#c9c8cd" />
<rect x="34.01" y="655.03" width="0.69" height="4.10" fill="#0e6a47" />
<rect x="36.69" y="655.03" width="0.69" height="4.10" fill="#c9c8cd" />
<rect x="38.03" y="655.03" width="2.70" height="4.10" fill="#c9c8cd" />
<rect x="41.39" y="655.03" width="10.08" height="4.10" fill="#c9c8cd" />
<rect x="52.79" y="655.03" width="6.06" height="4.10" fill="#c9c8cd" />
<rect x="59.50" y="655.03" width="2.03" height="4.10" fill="#c9c8cd" />
<rect x="62.19" y="655.03" width="7.40" height="4.10" fill="#c9c8cd" />
<rect x="69.57" y="655.03" width="0.69" height="4.10" fill="#0e6a47" />
<rect x="70.24" y="655.03" width="3.37" height="4.10" fill="#c9c8cd" />
<rect x="77.62" y="655.03" width="0.69" height="4.10" fill="#c9c8cd" />
<rect x="78.96" y="655.03" width="3.37" height="4.10" fill="#c9c8cd" />
<rect x="82.98" y="655.03" width="8.07" height="4.10" fill="#c9c8cd" />
<rect x="91.71" y="655.03" width="0.69" height="4.10" fill="#c9c8cd" />
<rect x="92.38" y="655.03" width="0.69" height="4.10" fill="#0e6a47" />
<rect x="93.72" y="655.03" width="7.40" height="4.10" fill="#c9c8cd" />
<rect x="101.77" y="655.03" width="3.37" height="4.10" fill="#c9c8cd" />
<rect x="105.12" y="655.03" width="0.69" height="4.10" fill="#0e6a47" />
<rect x="105.80" y="655.03" width="6.73" height="4.10" fill="#c9c8cd" />
<rect x="113.18" y="655.03" width="0.69" height="4.10" fill="#c9c8cd" />
<rect x="114.52" y="655.03" width="2.03" height="4.10" fill="#c9c8cd" />
<rect x="117.20" y="655.03" width="2.03" height="4.10" fill="#c9c8cd" />
<rect x="119.88" y="655.03" width="8.07" height="4.10" fill="#c9c8cd" />
<rect x="128.61" y="655.03" width="1.36" height="4.10" fill="#c9c8cd" />
<rect x="130.62" y="655.03" width="0.69" height="4.10" fill="#c9c8cd" />
<rect x="131.96" y="655.03" width="3.37" height="4.10" fill="#c9c8cd" />
<rect x="136.66" y="655.03" width="3.37" height="4.10" fill="#c9c8cd" />
<rect x="140.68" y="655.03" width="4.05" height="4.10" fill="#c9c8cd" />
<rect x="146.05" y="655.03" width="2.03" height="4.10" fill="#c9c8cd" />
<rect x="151.42" y="655.03" width="4.72" height="4.10" fill="#c9c8cd" />
<rect x="156.78" y="655.03" width="4.72" height="4.10" fill="#c9c8cd" />
<rect x="162.15" y="655.03" width="2.03" height="4.10" fill="#c9c8cd" />
<rect x="164.83" y="655.03" width="0.69" height="4.10" fill="#c9c8cd" />
<rect x="166.18" y="655.03" width="1.36" height="4.10" fill="#c9c8cd" />
<rect x="168.19" y="655.03" width="0.69" height="4.10" fill="#c9c8cd" />
<rect x="170.20" y="655.03" width="0.69" height="4.10" fill="#c9c8cd" />
<rect x="171.54" y="655.03" width="2.03" height="4.10" fill="#c9c8cd" />
<rect x="174.23" y="655.03" width="1.36" height="4.10" fill="#c9c8cd" />
<rect x="176.91" y="655.03" width="7.40" height="4.10" fill="#c9c8cd" />
<rect x="184.96" y="655.03" width="4.72" height="4.10" fill="#c9c8cd" />
<rect x="190.33" y="655.03" width="0.69" height="4.10" fill="#c9c8cd" />
<text x="193.60" y="658.73" font-size="5.5" font-style="italic" fill="#444">BCOR</text>
<rect x="27.30" y="660.70" width="2.70" height="4.10" fill="#c9c8cd" />
<rect x="30.65" y="660.70" width="2.03" height="4.10" fill="#c9c8cd" />
<rect x="33.34" y="660.70" width="2.70" height="4.10" fill="#c9c8cd" />
<rect x="36.69" y="660.70" width="0.69" height="4.10" fill="#0e6a47" />
<rect x="37.36" y="660.70" width="0.69" height="4.10" fill="#c9c8cd" />
<rect x="38.71" y="660.70" width="4.72" height="4.10" fill="#c9c8cd" />
<rect x="44.07" y="660.70" width="4.72" height="4.10" fill="#c9c8cd" />
<rect x="49.44" y="660.70" width="1.36" height="4.10" fill="#c9c8cd" />
<rect x="52.12" y="660.70" width="1.36" height="4.10" fill="#c9c8cd" />
<rect x="54.81" y="660.70" width="0.69" height="4.10" fill="#c9c8cd" />
<rect x="56.15" y="660.70" width="1.36" height="4.10" fill="#c9c8cd" />
<rect x="58.83" y="660.70" width="2.70" height="4.10" fill="#c9c8cd" />
<rect x="62.19" y="660.70" width="2.70" height="4.10" fill="#c9c8cd" />
<rect x="65.54" y="660.70" width="0.69" height="4.10" fill="#c9c8cd" />
<rect x="66.88" y="660.70" width="0.69" height="4.10" fill="#c9c8cd" />
<rect x="70.91" y="660.70" width="3.37" height="4.10" fill="#c9c8cd" />
<rect x="74.93" y="660.70" width="1.36" height="4.10" fill="#c9c8cd" />
<rect x="76.95" y="660.70" width="1.36" height="4.10" fill="#c9c8cd" />
<rect x="78.96" y="660.70" width="4.05" height="4.10" fill="#c9c8cd" />
<rect x="83.66" y="660.70" width="2.70" height="4.10" fill="#c9c8cd" />
<rect x="87.01" y="660.70" width="0.69" height="4.10" fill="#0e6a47" />
<rect x="87.68" y="660.70" width="0.69" height="4.10" fill="#c9c8cd" />
<rect x="89.02" y="660.70" width="2.03" height="4.10" fill="#c9c8cd" />
<rect x="91.71" y="660.70" width="1.36" height="4.10" fill="#c9c8cd" />
<rect x="93.72" y="660.70" width="2.70" height="4.10" fill="#c9c8cd" />
<rect x="97.07" y="660.70" width="0.69" height="4.10" fill="#c9c8cd" />
<rect x="98.42" y="660.70" width="2.03" height="4.10" fill="#c9c8cd" />
<rect x="101.10" y="660.70" width="0.69" height="4.10" fill="#c9c8cd" />
<rect x="102.44" y="660.70" width="1.36" height="4.10" fill="#c9c8cd" />
<rect x="105.12" y="660.70" width="2.70" height="4.10" fill="#c9c8cd" />
<rect x="112.50" y="660.70" width="1.36" height="4.10" fill="#c9c8cd" />
<rect x="113.85" y="660.70" width="0.69" height="4.10" fill="#0e6a47" />
<rect x="115.86" y="660.70" width="0.69" height="4.10" fill="#c9c8cd" />
<rect x="117.20" y="660.70" width="4.72" height="4.10" fill="#c9c8cd" />
<rect x="122.57" y="660.70" width="4.72" height="4.10" fill="#c9c8cd" />
<rect x="127.94" y="660.70" width="4.72" height="4.10" fill="#c9c8cd" />
<rect x="133.30" y="660.70" width="7.40" height="4.10" fill="#c9c8cd" />
<rect x="141.35" y="660.70" width="0.69" height="4.10" fill="#c9c8cd" />
<rect x="142.70" y="660.70" width="2.03" height="4.10" fill="#c9c8cd" />
<rect x="144.71" y="660.70" width="0.69" height="4.10" fill="#0e6a47" />
<rect x="145.38" y="660.70" width="1.36" height="4.10" fill="#c9c8cd" />
<rect x="147.39" y="660.70" width="4.05" height="4.10" fill="#c9c8cd" />
<rect x="151.42" y="660.70" width="0.69" height="4.10" fill="#0e6a47" />
<rect x="152.09" y="660.70" width="2.03" height="4.10" fill="#c9c8cd" />
<rect x="154.77" y="660.70" width="0.69" height="4.10" fill="#c9c8cd" />
<rect x="156.11" y="660.70" width="0.69" height="4.10" fill="#c9c8cd" />
<rect x="157.45" y="660.70" width="0.69" height="4.10" fill="#c9c8cd" />
<rect x="158.80" y="660.70" width="1.36" height="4.10" fill="#c9c8cd" />
<rect x="160.81" y="660.70" width="0.69" height="4.10" fill="#c9c8cd" />
<rect x="166.18" y="660.70" width="6.73" height="4.10" fill="#c9c8cd" />
<rect x="173.56" y="660.70" width="4.05" height="4.10" fill="#c9c8cd" />
<rect x="178.25" y="660.70" width="3.37" height="4.10" fill="#c9c8cd" />
<rect x="182.28" y="660.70" width="0.69" height="4.10" fill="#c9c8cd" />
<rect x="183.62" y="660.70" width="5.39" height="4.10" fill="#c9c8cd" />
<rect x="189.66" y="660.70" width="1.36" height="4.10" fill="#c9c8cd" />
<text x="193.60" y="664.40" font-size="5.5" font-style="italic" fill="#444">NF1</text>
<rect x="27.30" y="666.37" width="6.06" height="4.10" fill="#c9c8cd" />
<rect x="34.01" y="666.37" width="0.69" height="4.10" fill="#0e6a47" />
<rect x="34.68" y="666.37" width="1.36" height="4.10" fill="#c9c8cd" />
<rect x="36.69" y="666.37" width="17.46" height="4.10" fill="#c9c8cd" />
<rect x="54.81" y="666.37" width="6.73" height="4.10" fill="#c9c8cd" />
<rect x="62.19" y="666.37" width="16.79" height="4.10" fill="#c9c8cd" />
<rect x="78.96" y="666.37" width="0.69" height="4.10" fill="#0e6a47" />
<rect x="79.63" y="666.37" width="9.41" height="4.10" fill="#c9c8cd" />
<rect x="89.69" y="666.37" width="0.69" height="4.10" fill="#c9c8cd" />
<rect x="91.04" y="666.37" width="0.69" height="4.10" fill="#c9c8cd" />
<rect x="91.71" y="666.37" width="0.69" height="4.10" fill="#0e6a47" />
<rect x="92.38" y="666.37" width="22.16" height="4.10" fill="#c9c8cd" />
<rect x="114.52" y="666.37" width="0.69" height="4.10" fill="#0e6a47" />
<rect x="115.19" y="666.37" width="10.75" height="4.10" fill="#c9c8cd" />
<rect x="125.92" y="666.37" width="0.69" height="4.10" fill="#0e6a47" />
<rect x="126.59" y="666.37" width="6.06" height="4.10" fill="#c9c8cd" />
<rect x="133.30" y="666.37" width="2.03" height="4.10" fill="#c9c8cd" />
<rect x="135.99" y="666.37" width="39.60" height="4.10" fill="#c9c8cd" />
<rect x="176.24" y="666.37" width="4.72" height="4.10" fill="#c9c8cd" />
<rect x="181.61" y="666.37" width="1.36" height="4.10" fill="#c9c8cd" />
<rect x="182.95" y="666.37" width="0.69" height="4.10" fill="#0e6a47" />
<rect x="183.62" y="666.37" width="1.36" height="4.10" fill="#c9c8cd" />
<text x="193.60" y="670.07" font-size="5.5" font-style="italic" fill="#444">IDH1</text>
<rect x="27.30" y="672.04" width="5.39" height="4.10" fill="#c9c8cd" />
<rect x="33.34" y="672.04" width="2.03" height="4.10" fill="#c9c8cd" />
<rect x="36.02" y="672.04" width="6.73" height="4.10" fill="#c9c8cd" />
<rect x="43.40" y="672.04" width="8.07" height="4.10" fill="#c9c8cd" />
<rect x="52.12" y="672.04" width="5.39" height="4.10" fill="#c9c8cd" />
<rect x="58.16" y="672.04" width="0.69" height="4.10" fill="#c9c8cd" />
<rect x="59.50" y="672.04" width="1.36" height="4.10" fill="#c9c8cd" />
<rect x="63.53" y="672.04" width="0.69" height="4.10" fill="#c9c8cd" />
<rect x="64.87" y="672.04" width="4.72" height="4.10" fill="#c9c8cd" />
<rect x="70.24" y="672.04" width="9.41" height="4.10" fill="#c9c8cd" />
<rect x="79.63" y="672.04" width="0.69" height="4.10" fill="#0e6a47" />
<rect x="80.97" y="672.04" width="1.36" height="4.10" fill="#c9c8cd" />
<rect x="83.66" y="672.04" width="1.36" height="4.10" fill="#c9c8cd" />
<rect x="85.67" y="672.04" width="4.05" height="4.10" fill="#c9c8cd" />
<rect x="91.04" y="672.04" width="1.36" height="4.10" fill="#c9c8cd" />
<rect x="93.05" y="672.04" width="4.05" height="4.10" fill="#c9c8cd" />
<rect x="97.74" y="672.04" width="1.36" height="4.10" fill="#c9c8cd" />
<rect x="99.76" y="672.04" width="13.44" height="4.10" fill="#c9c8cd" />
<rect x="113.85" y="672.04" width="0.69" height="4.10" fill="#c9c8cd" />
<rect x="117.20" y="672.04" width="6.73" height="4.10" fill="#c9c8cd" />
<rect x="125.25" y="672.04" width="1.36" height="4.10" fill="#c9c8cd" />
<rect x="126.59" y="672.04" width="0.69" height="4.10" fill="#0e6a47" />
<rect x="127.26" y="672.04" width="0.69" height="4.10" fill="#c9c8cd" />
<rect x="129.28" y="672.04" width="4.72" height="4.10" fill="#c9c8cd" />
<rect x="134.64" y="672.04" width="2.70" height="4.10" fill="#c9c8cd" />
<rect x="138.00" y="672.04" width="2.70" height="4.10" fill="#c9c8cd" />
<rect x="141.35" y="672.04" width="8.74" height="4.10" fill="#c9c8cd" />
<rect x="150.75" y="672.04" width="4.05" height="4.10" fill="#c9c8cd" />
<rect x="154.77" y="672.04" width="0.69" height="4.10" fill="#0e6a47" />
<rect x="155.44" y="672.04" width="0.69" height="4.10" fill="#c9c8cd" />
<rect x="156.78" y="672.04" width="3.37" height="4.10" fill="#c9c8cd" />
<rect x="160.81" y="672.04" width="5.39" height="4.10" fill="#c9c8cd" />
<rect x="166.85" y="672.04" width="2.70" height="4.10" fill="#c9c8cd" />
<rect x="170.20" y="672.04" width="16.79" height="4.10" fill="#c9c8cd" />
<rect x="187.65" y="672.04" width="3.37" height="4.10" fill="#c9c8cd" />
<text x="193.60" y="675.74" font-size="5.5" font-style="italic" fill="#444">ETNK1</text>
<rect x="33.34" y="677.71" width="2.03" height="4.10" fill="#c9c8cd" />
<rect x="38.71" y="677.71" width="5.39" height="4.10" fill="#c9c8cd" />
<rect x="44.74" y="677.71" width="0.69" height="4.10" fill="#c9c8cd" />
<rect x="45.41" y="677.71" width="0.69" height="4.10" fill="#0e6a47" />
<rect x="46.09" y="677.71" width="0.69" height="4.10" fill="#c9c8cd" />
<rect x="47.43" y="677.71" width="1.36" height="4.10" fill="#c9c8cd" />
<rect x="49.44" y="677.71" width="4.72" height="4.10" fill="#c9c8cd" />
<rect x="58.83" y="677.71" width="2.03" height="4.10" fill="#c9c8cd" />
<rect x="61.52" y="677.71" width="3.37" height="4.10" fill="#c9c8cd" />
<rect x="65.54" y="677.71" width="6.06" height="4.10" fill="#c9c8cd" />
<rect x="72.25" y="677.71" width="0.69" height="4.10" fill="#c9c8cd" />
<rect x="73.59" y="677.71" width="2.03" height="4.10" fill="#c9c8cd" />
<rect x="76.28" y="677.71" width="1.36" height="4.10" fill="#c9c8cd" />
<rect x="78.29" y="677.71" width="2.03" height="4.10" fill="#c9c8cd" />
<rect x="80.97" y="677.71" width="5.39" height="4.10" fill="#c9c8cd" />
<rect x="87.01" y="677.71" width="0.69" height="4.10" fill="#c9c8cd" />
<rect x="92.38" y="677.71" width="0.69" height="4.10" fill="#c9c8cd" />
<rect x="93.72" y="677.71" width="1.36" height="4.10" fill="#c9c8cd" />
<rect x="96.40" y="677.71" width="8.74" height="4.10" fill="#c9c8cd" />
<rect x="105.80" y="677.71" width="2.03" height="4.10" fill="#c9c8cd" />
<rect x="108.48" y="677.71" width="0.69" height="4.10" fill="#c9c8cd" />
<rect x="109.82" y="677.71" width="1.36" height="4.10" fill="#c9c8cd" />
<rect x="112.50" y="677.71" width="2.03" height="4.10" fill="#c9c8cd" />
<rect x="115.19" y="677.71" width="0.69" height="4.10" fill="#c9c8cd" />
<rect x="116.53" y="677.71" width="2.03" height="4.10" fill="#c9c8cd" />
<rect x="119.21" y="677.71" width="2.03" height="4.10" fill="#c9c8cd" />
<rect x="121.90" y="677.71" width="2.03" height="4.10" fill="#c9c8cd" />
<rect x="125.25" y="677.71" width="0.69" height="4.10" fill="#c9c8cd" />
<rect x="126.59" y="677.71" width="1.36" height="4.10" fill="#c9c8cd" />
<rect x="132.63" y="677.71" width="2.03" height="4.10" fill="#c9c8cd" />
<rect x="135.99" y="677.71" width="1.36" height="4.10" fill="#c9c8cd" />
<rect x="138.00" y="677.71" width="0.69" height="4.10" fill="#c9c8cd" />
<rect x="139.34" y="677.71" width="2.03" height="4.10" fill="#c9c8cd" />
<rect x="142.70" y="677.71" width="1.36" height="4.10" fill="#c9c8cd" />
<rect x="145.38" y="677.71" width="0.69" height="4.10" fill="#c9c8cd" />
<rect x="146.72" y="677.71" width="0.69" height="4.10" fill="#c9c8cd" />
<rect x="148.73" y="677.71" width="0.69" height="4.10" fill="#c9c8cd" />
<rect x="150.07" y="677.71" width="2.03" height="4.10" fill="#c9c8cd" />
<rect x="152.76" y="677.71" width="3.37" height="4.10" fill="#c9c8cd" />
<rect x="156.78" y="677.71" width="0.69" height="4.10" fill="#c9c8cd" />
<rect x="158.80" y="677.71" width="2.70" height="4.10" fill="#c9c8cd" />
<rect x="162.15" y="677.71" width="0.69" height="4.10" fill="#c9c8cd" />
<rect x="164.16" y="677.71" width="1.36" height="4.10" fill="#c9c8cd" />
<rect x="166.18" y="677.71" width="2.03" height="4.10" fill="#c9c8cd" />
<rect x="168.86" y="677.71" width="2.70" height="4.10" fill="#c9c8cd" />
<rect x="172.21" y="677.71" width="2.03" height="4.10" fill="#c9c8cd" />
<rect x="174.90" y="677.71" width="3.37" height="4.10" fill="#c9c8cd" />
<rect x="182.95" y="677.71" width="0.69" height="4.10" fill="#c9c8cd" />
<rect x="184.29" y="677.71" width="1.36" height="4.10" fill="#c9c8cd" />
<rect x="186.97" y="677.71" width="2.70" height="4.10" fill="#c9c8cd" />
<rect x="190.33" y="677.71" width="0.69" height="4.10" fill="#c9c8cd" />
<text x="193.60" y="681.41" font-size="5.5" font-style="italic" fill="#444">PPM1D</text>
<text x="105.5" y="496.6" font-size="6.8">WHO<tspan font-size="4.22" dy="2.04">new</tspan></text>
<line x1="221.40" y1="540.20" x2="256.80" y2="540.20" stroke="#222" stroke-width="0.8" />
<line x1="221.80" y1="537.30" x2="221.80" y2="540.20" stroke="#222" stroke-width="0.7" />
<text x="221.80" y="533.80" font-size="6.2" text-anchor="middle">0</text>
<line x1="235.30" y1="537.30" x2="235.30" y2="540.20" stroke="#222" stroke-width="0.7" />
<text x="235.30" y="533.80" font-size="6.2" text-anchor="middle">100</text>
<line x1="248.80" y1="537.30" x2="248.80" y2="540.20" stroke="#222" stroke-width="0.7" />
<text x="248.80" y="533.80" font-size="6.2" text-anchor="middle">200</text>
<rect x="221.80" y="542.10" width="8.91" height="2.70" fill="#1b3d6e" />
<rect x="230.71" y="542.10" width="0.41" height="2.70" fill="#d6892c" />
<rect x="231.12" y="542.10" width="0.27" height="2.70" fill="#5b2a6c" />
<rect x="231.39" y="542.10" width="0.68" height="2.70" fill="#3aaa3a" />
<rect x="232.06" y="542.10" width="22.68" height="2.70" fill="#3ea6de" />
<rect x="221.80" y="547.50" width="15.80" height="3.30" fill="#c9c8cd" />
<rect x="237.60" y="547.50" width="17.14" height="3.30" fill="#0e6a47" />
<rect x="221.80" y="553.17" width="25.52" height="3.30" fill="#c9c8cd" />
<rect x="247.31" y="553.17" width="7.43" height="3.30" fill="#0e6a47" />
<rect x="221.80" y="558.84" width="24.57" height="3.30" fill="#c9c8cd" />
<rect x="246.37" y="558.84" width="7.02" height="3.30" fill="#0e6a47" />
<rect x="221.80" y="564.51" width="25.52" height="3.30" fill="#c9c8cd" />
<rect x="247.31" y="564.51" width="7.02" height="3.30" fill="#0e6a47" />
<rect x="221.80" y="570.18" width="27.68" height="3.30" fill="#c9c8cd" />
<rect x="249.48" y="570.18" width="4.59" height="3.30" fill="#0e6a47" />
<rect x="221.80" y="575.85" width="29.03" height="3.30" fill="#c9c8cd" />
<rect x="250.83" y="575.85" width="3.92" height="3.30" fill="#0e6a47" />
<rect x="221.80" y="581.52" width="28.89" height="3.30" fill="#c9c8cd" />
<rect x="250.69" y="581.52" width="3.51" height="3.30" fill="#0e6a47" />
<rect x="221.80" y="587.19" width="29.43" height="3.30" fill="#c9c8cd" />
<rect x="251.23" y="587.19" width="2.43" height="3.30" fill="#0e6a47" />
<rect x="221.80" y="592.86" width="29.84" height="3.30" fill="#c9c8cd" />
<rect x="251.64" y="592.86" width="1.89" height="3.30" fill="#0e6a47" />
<rect x="221.80" y="598.53" width="31.73" height="3.30" fill="#c9c8cd" />
<rect x="253.53" y="598.53" width="1.22" height="3.30" fill="#0e6a47" />
<rect x="221.80" y="604.20" width="29.70" height="3.30" fill="#c9c8cd" />
<rect x="251.50" y="604.20" width="2.29" height="3.30" fill="#0e6a47" />
<rect x="221.80" y="609.87" width="26.60" height="3.30" fill="#c9c8cd" />
<rect x="248.40" y="609.87" width="0.81" height="3.30" fill="#0e6a47" />
<rect x="221.80" y="615.54" width="31.86" height="3.30" fill="#c9c8cd" />
<rect x="253.66" y="615.54" width="1.08" height="3.30" fill="#0e6a47" />
<rect x="221.80" y="621.21" width="31.73" height="3.30" fill="#c9c8cd" />
<rect x="253.53" y="621.21" width="1.22" height="3.30" fill="#0e6a47" />
<rect x="221.80" y="626.88" width="30.11" height="3.30" fill="#c9c8cd" />
<rect x="251.91" y="626.88" width="0.95" height="3.30" fill="#0e6a47" />
<rect x="221.80" y="632.55" width="30.92" height="3.30" fill="#c9c8cd" />
<rect x="252.72" y="632.55" width="1.35" height="3.30" fill="#0e6a47" />
<rect x="221.80" y="638.22" width="31.86" height="3.30" fill="#c9c8cd" />
<rect x="253.66" y="638.22" width="1.08" height="3.30" fill="#0e6a47" />
<rect x="221.80" y="643.89" width="28.62" height="3.30" fill="#c9c8cd" />
<rect x="250.42" y="643.89" width="2.03" height="3.30" fill="#0e6a47" />
<rect x="221.80" y="649.56" width="29.84" height="3.30" fill="#c9c8cd" />
<rect x="251.64" y="649.56" width="0.81" height="3.30" fill="#0e6a47" />
<rect x="221.80" y="655.23" width="25.52" height="3.30" fill="#c9c8cd" />
<rect x="247.31" y="655.23" width="0.54" height="3.30" fill="#0e6a47" />
<rect x="221.80" y="660.90" width="23.09" height="3.30" fill="#c9c8cd" />
<rect x="244.89" y="660.90" width="0.68" height="3.30" fill="#0e6a47" />
<rect x="221.80" y="666.57" width="29.57" height="3.30" fill="#c9c8cd" />
<rect x="251.37" y="666.57" width="0.81" height="3.30" fill="#0e6a47" />
<rect x="221.80" y="672.24" width="27.27" height="3.30" fill="#c9c8cd" />
<rect x="249.07" y="672.24" width="0.41" height="3.30" fill="#0e6a47" />
<rect x="221.80" y="677.91" width="19.98" height="3.30" fill="#c9c8cd" />
<rect x="241.78" y="677.91" width="0.14" height="3.30" fill="#0e6a47" />
<text x="195.00" y="490.60" font-size="6.6">Karyotype</text>
<rect x="195.00" y="495.10" width="5.40" height="5.40" fill="#1b3d6e" />
<text x="204.00" y="500.00" font-size="6.6">Aberrant1</text>
<rect x="195.00" y="502.85" width="5.40" height="5.40" fill="#d6892c" />
<text x="204.00" y="507.75" font-size="6.6">Aberrant2</text>
<rect x="195.00" y="510.60" width="5.40" height="5.40" fill="#5b2a6c" />
<text x="204.00" y="515.50" font-size="6.6">Aberrant3</text>
<rect x="195.00" y="518.35" width="5.40" height="5.40" fill="#3aaa3a" />
<text x="204.00" y="523.25" font-size="6.6">Complex&gt;3</text>
<rect x="195.00" y="526.10" width="5.40" height="5.40" fill="#3ea6de" />
<text x="204.00" y="531.00" font-size="6.6">NK</text>
<text x="240.60" y="490.60" font-size="6.6">Mutation</text>
<rect x="240.60" y="495.10" width="5.40" height="5.40" fill="#c9c8cd" />
<text x="249.20" y="500.00" font-size="6.6">Wildtype</text>
<rect x="240.60" y="502.85" width="5.40" height="5.40" fill="#0e6a47" />
<text x="249.20" y="507.75" font-size="6.6">Mutant</text>
<line x1="346.20" y1="504.30" x2="346.20" y2="587.30" stroke="#222" stroke-width="0.9" />
<line x1="343.20" y1="583.50" x2="346.20" y2="583.50" stroke="#222" stroke-width="0.8" />
<text x="340.20" y="585.70" font-size="6.4" text-anchor="end">0 %</text>
<line x1="343.20" y1="564.17" x2="346.20" y2="564.17" stroke="#222" stroke-width="0.8" />
<text x="340.20" y="566.38" font-size="6.4" text-anchor="end">25 %</text>
<line x1="343.20" y1="544.85" x2="346.20" y2="544.85" stroke="#222" stroke-width="0.8" />
<text x="340.20" y="547.05" font-size="6.4" text-anchor="end">50 %</text>
<line x1="343.20" y1="525.52" x2="346.20" y2="525.52" stroke="#222" stroke-width="0.8" />
<text x="340.20" y="527.73" font-size="6.4" text-anchor="end">75 %</text>
<line x1="343.20" y1="506.20" x2="346.20" y2="506.20" stroke="#222" stroke-width="0.8" />
<text x="340.20" y="508.40" font-size="6.4" text-anchor="end">100 %</text>
<line x1="345.80" y1="586.90" x2="507.00" y2="586.90" stroke="#222" stroke-width="0.9" />
<line x1="352.50" y1="586.90" x2="352.50" y2="589.60" stroke="#222" stroke-width="0.8" />
<text x="352.50" y="597.80" font-size="6.4" text-anchor="middle">0</text>
<line x1="374.00" y1="586.90" x2="374.00" y2="589.60" stroke="#222" stroke-width="0.8" />
<text x="374.00" y="597.80" font-size="6.4" text-anchor="middle">2</text>
<line x1="395.50" y1="586.90" x2="395.50" y2="589.60" stroke="#222" stroke-width="0.8" />
<text x="395.50" y="597.80" font-size="6.4" text-anchor="middle">4</text>
<line x1="417.00" y1="586.90" x2="417.00" y2="589.60" stroke="#222" stroke-width="0.8" />
<text x="417.00" y="597.80" font-size="6.4" text-anchor="middle">6</text>
<line x1="438.50" y1="586.90" x2="438.50" y2="589.60" stroke="#222" stroke-width="0.8" />
<text x="438.50" y="597.80" font-size="6.4" text-anchor="middle">8</text>
<line x1="460.00" y1="586.90" x2="460.00" y2="589.60" stroke="#222" stroke-width="0.8" />
<text x="460.00" y="597.80" font-size="6.4" text-anchor="middle">10</text>
<line x1="481.50" y1="586.90" x2="481.50" y2="589.60" stroke="#222" stroke-width="0.8" />
<text x="481.50" y="597.80" font-size="6.4" text-anchor="middle">12</text>
<line x1="503.00" y1="586.90" x2="503.00" y2="589.60" stroke="#222" stroke-width="0.8" />
<text x="503.00" y="597.80" font-size="6.4" text-anchor="middle">14</text>
<text x="429.00" y="610.50" font-size="7.6" text-anchor="middle">Years</text>
<text x="315.2" y="545" font-size="7.2" fill="#444" text-anchor="middle" transform="rotate(-90 315.2 545)">Survival probability</text>
<path d="M352.50,506.20 H357.88 V506.97 H363.25 V507.75 H368.62 V508.52 H371.85 V509.68 H376.15 V512.38 H381.52 V515.48 H386.90 V520.11 H392.27 V525.52 H397.65 V532.48 H401.95 V538.67 H405.18 V541.76 H412.70 V544.85 H420.01 V551.03 H427.75 V552.58 H436.35 V555.36 H462.15 V555.36 H462.69 V557.99 H480.43 V557.99 H481.50 V570.36 H483.65 V574.38 H505.15 V574.38" fill="none" stroke="#c3c3c3" stroke-width="1.0"/>
<line x1="366.48" y1="505.65" x2="366.48" y2="509.85" stroke="#c3c3c3" stroke-width="1.0" />
<line x1="368.62" y1="506.42" x2="368.62" y2="510.62" stroke="#c3c3c3" stroke-width="1.0" />
<line x1="369.70" y1="506.42" x2="369.70" y2="510.62" stroke="#c3c3c3" stroke-width="1.0" />
<line x1="371.85" y1="507.58" x2="371.85" y2="511.78" stroke="#c3c3c3" stroke-width="1.0" />
<line x1="374.00" y1="507.58" x2="374.00" y2="511.78" stroke="#c3c3c3" stroke-width="1.0" />
<line x1="383.68" y1="513.38" x2="383.68" y2="517.58" stroke="#c3c3c3" stroke-width="1.0" />
<line x1="385.82" y1="513.38" x2="385.82" y2="517.58" stroke="#c3c3c3" stroke-width="1.0" />
<line x1="398.73" y1="530.38" x2="398.73" y2="534.58" stroke="#c3c3c3" stroke-width="1.0" />
<line x1="404.10" y1="536.57" x2="404.10" y2="540.77" stroke="#c3c3c3" stroke-width="1.0" />
<line x1="406.25" y1="539.66" x2="406.25" y2="543.86" stroke="#c3c3c3" stroke-width="1.0" />
<line x1="408.40" y1="539.66" x2="408.40" y2="543.86" stroke="#c3c3c3" stroke-width="1.0" />
<line x1="411.62" y1="539.66" x2="411.62" y2="543.86" stroke="#c3c3c3" stroke-width="1.0" />
<line x1="418.07" y1="542.75" x2="418.07" y2="546.95" stroke="#c3c3c3" stroke-width="1.0" />
<line x1="423.45" y1="548.93" x2="423.45" y2="553.13" stroke="#c3c3c3" stroke-width="1.0" />
<line x1="430.98" y1="550.48" x2="430.98" y2="554.68" stroke="#c3c3c3" stroke-width="1.0" />
<line x1="448.18" y1="553.26" x2="448.18" y2="557.46" stroke="#c3c3c3" stroke-width="1.0" />
<line x1="455.70" y1="553.26" x2="455.70" y2="557.46" stroke="#c3c3c3" stroke-width="1.0" />
<line x1="461.07" y1="553.26" x2="461.07" y2="557.46" stroke="#c3c3c3" stroke-width="1.0" />
<line x1="505.15" y1="572.28" x2="505.15" y2="576.48" stroke="#c3c3c3" stroke-width="1.0" />
<path d="M352.50,506.20 H353.57 V508.52 H355.73 V511.61 H358.41 V515.48 H361.10 V518.57 H363.36 V520.89 H366.48 V523.98 H368.62 V525.91 H370.99 V528.23 H372.93 V529.78 H375.07 V531.71 H377.23 V533.64 H378.84 V535.57 H382.60 V537.89 H386.47 V540.21 H390.12 V543.30 H394.21 V546.40 H397.65 V548.72 H401.84 V551.03 H405.18 V553.35 H409.48 V555.36 H412.70 V557.22 H417.00 V559.23 H432.05 V559.23 H432.59 V565.41 H449.25 V565.41" fill="none" stroke="#b46cbc" stroke-width="2.0"/>
<line x1="360.56" y1="512.88" x2="360.56" y2="518.08" stroke="#b46cbc" stroke-width="1.2" />
<line x1="361.64" y1="515.97" x2="361.64" y2="521.17" stroke="#b46cbc" stroke-width="1.2" />
<line x1="362.71" y1="515.97" x2="362.71" y2="521.17" stroke="#b46cbc" stroke-width="1.2" />
<line x1="363.79" y1="518.29" x2="363.79" y2="523.49" stroke="#b46cbc" stroke-width="1.2" />
<line x1="364.86" y1="518.29" x2="364.86" y2="523.49" stroke="#b46cbc" stroke-width="1.2" />
<line x1="367.01" y1="521.38" x2="367.01" y2="526.58" stroke="#b46cbc" stroke-width="1.2" />
<line x1="368.09" y1="521.38" x2="368.09" y2="526.58" stroke="#b46cbc" stroke-width="1.2" />
<line x1="370.24" y1="523.31" x2="370.24" y2="528.51" stroke="#b46cbc" stroke-width="1.2" />
<line x1="371.31" y1="525.63" x2="371.31" y2="530.83" stroke="#b46cbc" stroke-width="1.2" />
<line x1="373.46" y1="527.18" x2="373.46" y2="532.38" stroke="#b46cbc" stroke-width="1.2" />
<line x1="374.54" y1="527.18" x2="374.54" y2="532.38" stroke="#b46cbc" stroke-width="1.2" />
<line x1="376.69" y1="529.11" x2="376.69" y2="534.31" stroke="#b46cbc" stroke-width="1.2" />
<line x1="377.76" y1="531.04" x2="377.76" y2="536.24" stroke="#b46cbc" stroke-width="1.2" />
<line x1="379.91" y1="532.97" x2="379.91" y2="538.17" stroke="#b46cbc" stroke-width="1.2" />
<line x1="380.99" y1="532.97" x2="380.99" y2="538.17" stroke="#b46cbc" stroke-width="1.2" />
<line x1="383.14" y1="535.29" x2="383.14" y2="540.49" stroke="#b46cbc" stroke-width="1.2" />
<line x1="384.21" y1="535.29" x2="384.21" y2="540.49" stroke="#b46cbc" stroke-width="1.2" />
<line x1="386.36" y1="535.29" x2="386.36" y2="540.49" stroke="#b46cbc" stroke-width="1.2" />
<line x1="387.44" y1="537.61" x2="387.44" y2="542.81" stroke="#b46cbc" stroke-width="1.2" />
<line x1="389.59" y1="537.61" x2="389.59" y2="542.81" stroke="#b46cbc" stroke-width="1.2" />
<line x1="390.66" y1="540.70" x2="390.66" y2="545.90" stroke="#b46cbc" stroke-width="1.2" />
<line x1="392.81" y1="540.70" x2="392.81" y2="545.90" stroke="#b46cbc" stroke-width="1.2" />
<line x1="393.89" y1="540.70" x2="393.89" y2="545.90" stroke="#b46cbc" stroke-width="1.2" />
<line x1="396.04" y1="543.80" x2="396.04" y2="549.00" stroke="#b46cbc" stroke-width="1.2" />
<line x1="397.11" y1="543.80" x2="397.11" y2="549.00" stroke="#b46cbc" stroke-width="1.2" />
<line x1="362.18" y1="515.97" x2="362.18" y2="521.17" stroke="#b46cbc" stroke-width="1.2" />
<line x1="364.32" y1="518.29" x2="364.32" y2="523.49" stroke="#b46cbc" stroke-width="1.2" />
<line x1="365.94" y1="518.29" x2="365.94" y2="523.49" stroke="#b46cbc" stroke-width="1.2" />
<line x1="367.55" y1="521.38" x2="367.55" y2="526.58" stroke="#b46cbc" stroke-width="1.2" />
<line x1="369.16" y1="523.31" x2="369.16" y2="528.51" stroke="#b46cbc" stroke-width="1.2" />
<line x1="370.77" y1="523.31" x2="370.77" y2="528.51" stroke="#b46cbc" stroke-width="1.2" />
<line x1="372.39" y1="525.63" x2="372.39" y2="530.83" stroke="#b46cbc" stroke-width="1.2" />
<line x1="374.00" y1="527.18" x2="374.00" y2="532.38" stroke="#b46cbc" stroke-width="1.2" />
<line x1="375.61" y1="529.11" x2="375.61" y2="534.31" stroke="#b46cbc" stroke-width="1.2" />
<line x1="377.23" y1="531.04" x2="377.23" y2="536.24" stroke="#b46cbc" stroke-width="1.2" />
<line x1="378.84" y1="532.97" x2="378.84" y2="538.17" stroke="#b46cbc" stroke-width="1.2" />
<line x1="380.45" y1="532.97" x2="380.45" y2="538.17" stroke="#b46cbc" stroke-width="1.2" />
<line x1="382.06" y1="532.97" x2="382.06" y2="538.17" stroke="#b46cbc" stroke-width="1.2" />
<line x1="383.68" y1="535.29" x2="383.68" y2="540.49" stroke="#b46cbc" stroke-width="1.2" />
<line x1="385.29" y1="535.29" x2="385.29" y2="540.49" stroke="#b46cbc" stroke-width="1.2" />
<line x1="386.90" y1="537.61" x2="386.90" y2="542.81" stroke="#b46cbc" stroke-width="1.2" />
<line x1="388.51" y1="537.61" x2="388.51" y2="542.81" stroke="#b46cbc" stroke-width="1.2" />
<line x1="390.12" y1="540.70" x2="390.12" y2="545.90" stroke="#b46cbc" stroke-width="1.2" />
<line x1="391.74" y1="540.70" x2="391.74" y2="545.90" stroke="#b46cbc" stroke-width="1.2" />
<line x1="393.35" y1="540.70" x2="393.35" y2="545.90" stroke="#b46cbc" stroke-width="1.2" />
<line x1="394.96" y1="543.80" x2="394.96" y2="549.00" stroke="#b46cbc" stroke-width="1.2" />
<line x1="396.57" y1="543.80" x2="396.57" y2="549.00" stroke="#b46cbc" stroke-width="1.2" />
<line x1="398.19" y1="546.12" x2="398.19" y2="551.32" stroke="#b46cbc" stroke-width="1.2" />
<line x1="399.80" y1="546.12" x2="399.80" y2="551.32" stroke="#b46cbc" stroke-width="1.2" />
<line x1="401.41" y1="546.12" x2="401.41" y2="551.32" stroke="#b46cbc" stroke-width="1.2" />
<line x1="403.02" y1="548.43" x2="403.02" y2="553.63" stroke="#b46cbc" stroke-width="1.2" />
<line x1="404.64" y1="548.43" x2="404.64" y2="553.63" stroke="#b46cbc" stroke-width="1.2" />
<line x1="406.25" y1="550.75" x2="406.25" y2="555.95" stroke="#b46cbc" stroke-width="1.2" />
<line x1="408.40" y1="550.75" x2="408.40" y2="555.95" stroke="#b46cbc" stroke-width="1.2" />
<line x1="410.55" y1="552.76" x2="410.55" y2="557.96" stroke="#b46cbc" stroke-width="1.2" />
<line x1="412.70" y1="554.62" x2="412.70" y2="559.82" stroke="#b46cbc" stroke-width="1.2" />
<line x1="414.85" y1="554.62" x2="414.85" y2="559.82" stroke="#b46cbc" stroke-width="1.2" />
<line x1="418.07" y1="556.63" x2="418.07" y2="561.83" stroke="#b46cbc" stroke-width="1.2" />
<line x1="421.30" y1="556.63" x2="421.30" y2="561.83" stroke="#b46cbc" stroke-width="1.2" />
<line x1="424.52" y1="556.63" x2="424.52" y2="561.83" stroke="#b46cbc" stroke-width="1.2" />
<line x1="427.75" y1="556.63" x2="427.75" y2="561.83" stroke="#b46cbc" stroke-width="1.2" />
<line x1="429.90" y1="556.63" x2="429.90" y2="561.83" stroke="#b46cbc" stroke-width="1.2" />
<line x1="438.50" y1="562.81" x2="438.50" y2="568.01" stroke="#b46cbc" stroke-width="1.2" />
<line x1="444.95" y1="562.81" x2="444.95" y2="568.01" stroke="#b46cbc" stroke-width="1.2" />
<line x1="449.25" y1="562.81" x2="449.25" y2="568.01" stroke="#b46cbc" stroke-width="1.2" />
<path d="M352.50,506.20 H354.11 V507.36 H356.26 V509.29 H358.95 V511.61 H361.64 V513.93 H364.86 V515.86 H368.62 V517.79 H372.93 V520.11 H377.23 V522.43 H381.52 V524.37 H385.29 V525.91 H389.05 V527.84 H392.81 V529.78 H396.57 V531.71 H400.88 V534.03 H406.25 V535.57 H409.48 V537.12 H412.70 V538.67 H417.00 V540.21 H420.01 V540.68 H423.45 V543.30 H426.68 V545.00 H436.35 V548.41 H436.89 V551.81 H440.65 V553.74 H443.88 V555.36 H448.18 V557.99 H452.05 V560.62 H460.75 V564.02 H479.35 V564.02 H480.43 V569.97 H482.04 V576.00 H483.65 V576.00" fill="none" stroke="#1d4b8e" stroke-width="2.2"/>
<line x1="358.95" y1="509.01" x2="358.95" y2="514.21" stroke="#1d4b8e" stroke-width="1.2" />
<line x1="361.10" y1="509.01" x2="361.10" y2="514.21" stroke="#1d4b8e" stroke-width="1.2" />
<line x1="363.25" y1="511.33" x2="363.25" y2="516.53" stroke="#1d4b8e" stroke-width="1.2" />
<line x1="365.40" y1="513.26" x2="365.40" y2="518.46" stroke="#1d4b8e" stroke-width="1.2" />
<line x1="367.55" y1="513.26" x2="367.55" y2="518.46" stroke="#1d4b8e" stroke-width="1.2" />
<line x1="369.70" y1="515.19" x2="369.70" y2="520.39" stroke="#1d4b8e" stroke-width="1.2" />
<line x1="371.85" y1="515.19" x2="371.85" y2="520.39" stroke="#1d4b8e" stroke-width="1.2" />
<line x1="374.00" y1="517.51" x2="374.00" y2="522.71" stroke="#1d4b8e" stroke-width="1.2" />
<line x1="376.15" y1="517.51" x2="376.15" y2="522.71" stroke="#1d4b8e" stroke-width="1.2" />
<line x1="378.30" y1="519.83" x2="378.30" y2="525.03" stroke="#1d4b8e" stroke-width="1.2" />
<line x1="380.45" y1="519.83" x2="380.45" y2="525.03" stroke="#1d4b8e" stroke-width="1.2" />
<line x1="382.60" y1="521.77" x2="382.60" y2="526.97" stroke="#1d4b8e" stroke-width="1.2" />
<line x1="384.75" y1="521.77" x2="384.75" y2="526.97" stroke="#1d4b8e" stroke-width="1.2" />
<line x1="386.90" y1="523.31" x2="386.90" y2="528.51" stroke="#1d4b8e" stroke-width="1.2" />
<line x1="389.05" y1="525.24" x2="389.05" y2="530.44" stroke="#1d4b8e" stroke-width="1.2" />
<line x1="391.20" y1="525.24" x2="391.20" y2="530.44" stroke="#1d4b8e" stroke-width="1.2" />
<line x1="393.35" y1="527.18" x2="393.35" y2="532.38" stroke="#1d4b8e" stroke-width="1.2" />
<line x1="395.50" y1="527.18" x2="395.50" y2="532.38" stroke="#1d4b8e" stroke-width="1.2" />
<line x1="397.65" y1="529.11" x2="397.65" y2="534.31" stroke="#1d4b8e" stroke-width="1.2" />
<line x1="399.80" y1="529.11" x2="399.80" y2="534.31" stroke="#1d4b8e" stroke-width="1.2" />
<line x1="401.95" y1="531.43" x2="401.95" y2="536.63" stroke="#1d4b8e" stroke-width="1.2" />
<line x1="404.10" y1="531.43" x2="404.10" y2="536.63" stroke="#1d4b8e" stroke-width="1.2" />
<line x1="406.25" y1="532.97" x2="406.25" y2="538.17" stroke="#1d4b8e" stroke-width="1.2" />
<line x1="408.40" y1="532.97" x2="408.40" y2="538.17" stroke="#1d4b8e" stroke-width="1.2" />
<line x1="357.88" y1="506.69" x2="357.88" y2="511.89" stroke="#1d4b8e" stroke-width="1.2" />
<line x1="360.02" y1="509.01" x2="360.02" y2="514.21" stroke="#1d4b8e" stroke-width="1.2" />
<line x1="362.18" y1="511.33" x2="362.18" y2="516.53" stroke="#1d4b8e" stroke-width="1.2" />
<line x1="364.32" y1="511.33" x2="364.32" y2="516.53" stroke="#1d4b8e" stroke-width="1.2" />
<line x1="366.48" y1="513.26" x2="366.48" y2="518.46" stroke="#1d4b8e" stroke-width="1.2" />
<line x1="368.62" y1="515.19" x2="368.62" y2="520.39" stroke="#1d4b8e" stroke-width="1.2" />
<line x1="370.77" y1="515.19" x2="370.77" y2="520.39" stroke="#1d4b8e" stroke-width="1.2" />
<line x1="372.93" y1="517.51" x2="372.93" y2="522.71" stroke="#1d4b8e" stroke-width="1.2" />
<line x1="375.07" y1="517.51" x2="375.07" y2="522.71" stroke="#1d4b8e" stroke-width="1.2" />
<line x1="377.23" y1="519.83" x2="377.23" y2="525.03" stroke="#1d4b8e" stroke-width="1.2" />
<line x1="379.38" y1="519.83" x2="379.38" y2="525.03" stroke="#1d4b8e" stroke-width="1.2" />
<line x1="381.52" y1="521.77" x2="381.52" y2="526.97" stroke="#1d4b8e" stroke-width="1.2" />
<line x1="383.68" y1="521.77" x2="383.68" y2="526.97" stroke="#1d4b8e" stroke-width="1.2" />
<line x1="385.82" y1="523.31" x2="385.82" y2="528.51" stroke="#1d4b8e" stroke-width="1.2" />
<line x1="387.98" y1="523.31" x2="387.98" y2="528.51" stroke="#1d4b8e" stroke-width="1.2" />
<line x1="390.12" y1="525.24" x2="390.12" y2="530.44" stroke="#1d4b8e" stroke-width="1.2" />
<line x1="392.27" y1="525.24" x2="392.27" y2="530.44" stroke="#1d4b8e" stroke-width="1.2" />
<line x1="394.43" y1="527.18" x2="394.43" y2="532.38" stroke="#1d4b8e" stroke-width="1.2" />
<line x1="396.57" y1="529.11" x2="396.57" y2="534.31" stroke="#1d4b8e" stroke-width="1.2" />
<line x1="398.73" y1="529.11" x2="398.73" y2="534.31" stroke="#1d4b8e" stroke-width="1.2" />
<line x1="400.88" y1="531.43" x2="400.88" y2="536.63" stroke="#1d4b8e" stroke-width="1.2" />
<line x1="403.02" y1="531.43" x2="403.02" y2="536.63" stroke="#1d4b8e" stroke-width="1.2" />
<line x1="405.18" y1="531.43" x2="405.18" y2="536.63" stroke="#1d4b8e" stroke-width="1.2" />
<line x1="407.32" y1="532.97" x2="407.32" y2="538.17" stroke="#1d4b8e" stroke-width="1.2" />
<line x1="409.48" y1="534.52" x2="409.48" y2="539.72" stroke="#1d4b8e" stroke-width="1.2" />
<line x1="411.62" y1="534.52" x2="411.62" y2="539.72" stroke="#1d4b8e" stroke-width="1.2" />
<line x1="413.77" y1="536.07" x2="413.77" y2="541.27" stroke="#1d4b8e" stroke-width="1.2" />
<line x1="415.93" y1="536.07" x2="415.93" y2="541.27" stroke="#1d4b8e" stroke-width="1.2" />
<line x1="418.07" y1="537.61" x2="418.07" y2="542.81" stroke="#1d4b8e" stroke-width="1.2" />
<line x1="420.23" y1="538.08" x2="420.23" y2="543.28" stroke="#1d4b8e" stroke-width="1.2" />
<line x1="422.38" y1="538.08" x2="422.38" y2="543.28" stroke="#1d4b8e" stroke-width="1.2" />
<line x1="427.75" y1="542.40" x2="427.75" y2="547.60" stroke="#1d4b8e" stroke-width="1.2" />
<line x1="430.98" y1="542.40" x2="430.98" y2="547.60" stroke="#1d4b8e" stroke-width="1.2" />
<line x1="434.20" y1="542.40" x2="434.20" y2="547.60" stroke="#1d4b8e" stroke-width="1.2" />
<line x1="442.80" y1="551.14" x2="442.80" y2="556.34" stroke="#1d4b8e" stroke-width="1.2" />
<line x1="449.25" y1="555.39" x2="449.25" y2="560.59" stroke="#1d4b8e" stroke-width="1.2" />
<line x1="453.55" y1="558.02" x2="453.55" y2="563.22" stroke="#1d4b8e" stroke-width="1.2" />
<line x1="456.77" y1="558.02" x2="456.77" y2="563.22" stroke="#1d4b8e" stroke-width="1.2" />
<line x1="463.23" y1="561.42" x2="463.23" y2="566.62" stroke="#1d4b8e" stroke-width="1.2" />
<line x1="483.65" y1="573.40" x2="483.65" y2="578.60" stroke="#1d4b8e" stroke-width="1.2" />
<path d="M352.50,506.20 H357.88 V507.75 H363.25 V509.29 H368.62 V511.61 H374.00 V513.93 H379.38 V516.25 H386.47 V518.57 H414.31 V518.57 H414.85 V533.25 H423.45 V533.25 H423.99 V536.35 H435.60 V536.35 H435.92 V551.58 H486.88 V551.58" fill="none" stroke="#e6bd22" stroke-width="1.4"/>
<line x1="389.05" y1="516.17" x2="389.05" y2="520.97" stroke="#e6bd22" stroke-width="1.1" />
<line x1="390.12" y1="516.17" x2="390.12" y2="520.97" stroke="#e6bd22" stroke-width="1.1" />
<line x1="392.27" y1="516.17" x2="392.27" y2="520.97" stroke="#e6bd22" stroke-width="1.1" />
<line x1="398.73" y1="516.17" x2="398.73" y2="520.97" stroke="#e6bd22" stroke-width="1.1" />
<line x1="404.10" y1="516.17" x2="404.10" y2="520.97" stroke="#e6bd22" stroke-width="1.1" />
<line x1="406.25" y1="516.17" x2="406.25" y2="520.97" stroke="#e6bd22" stroke-width="1.1" />
<line x1="408.40" y1="516.17" x2="408.40" y2="520.97" stroke="#e6bd22" stroke-width="1.1" />
<line x1="420.23" y1="530.86" x2="420.23" y2="535.65" stroke="#e6bd22" stroke-width="1.1" />
<line x1="422.38" y1="530.86" x2="422.38" y2="535.65" stroke="#e6bd22" stroke-width="1.1" />
<line x1="426.68" y1="533.95" x2="426.68" y2="538.75" stroke="#e6bd22" stroke-width="1.1" />
<line x1="428.82" y1="533.95" x2="428.82" y2="538.75" stroke="#e6bd22" stroke-width="1.1" />
<line x1="449.25" y1="549.18" x2="449.25" y2="553.98" stroke="#e6bd22" stroke-width="1.1" />
<line x1="486.88" y1="549.18" x2="486.88" y2="553.98" stroke="#e6bd22" stroke-width="1.1" />
<line x1="451.70" y1="501.40" x2="463.20" y2="501.40" stroke="#c9cfc9" stroke-width="1.7" />
<text x="466.4" y="503.4" font-size="6.7">ICC<tspan font-size="4.15" dy="2.01">new</tspan><tspan dy="-2.01"></tspan></text>
<line x1="451.70" y1="511.90" x2="463.20" y2="511.90" stroke="#e8d68e" stroke-width="1.7" />
<text x="466.4" y="514.2" font-size="6.7">WHO<tspan font-size="4.15" dy="2.01">new</tspan><tspan dy="-2.01"> excl.</tspan></text>
<line x1="451.70" y1="523.60" x2="463.20" y2="523.60" stroke="#3f5a9c" stroke-width="1.7" />
<text x="466.4" y="525.6" font-size="6.7">MD-WHO<tspan font-size="4.15" dy="2.01">ext</tspan><tspan dy="-2.01"></tspan></text>
<line x1="451.70" y1="535.00" x2="463.20" y2="535.00" stroke="#bdb8cb" stroke-width="1.7" />
<text x="466.4" y="537" font-size="6.7">MP-WHO<tspan font-size="4.15" dy="2.01">ext</tspan><tspan dy="-2.01"></tspan></text>
<text x="339.5" y="621.5" font-size="6.6" text-anchor="end">ICC<tspan font-size="4.09" dy="1.98">new</tspan><tspan dy="-1.98"></tspan></text>
<text x="352.50" y="621.50" font-size="6.6" text-anchor="middle">216</text>
<text x="374.00" y="621.50" font-size="6.6" text-anchor="middle">60</text>
<text x="395.50" y="621.50" font-size="6.6" text-anchor="middle">21</text>
<text x="417.00" y="621.50" font-size="6.6" text-anchor="middle">10</text>
<text x="438.50" y="621.50" font-size="6.6" text-anchor="middle">4</text>
<text x="460.00" y="621.50" font-size="6.6" text-anchor="middle">4</text>
<text x="481.50" y="621.50" font-size="6.6" text-anchor="middle">2</text>
<text x="503.00" y="621.50" font-size="6.6" text-anchor="middle">1</text>
<text x="339.5" y="631.2" font-size="6.6" text-anchor="end">WHO<tspan font-size="4.09" dy="1.98">new</tspan><tspan dy="-1.98"> exclusive</tspan></text>
<text x="352.50" y="631.20" font-size="6.6" text-anchor="middle">118</text>
<text x="374.00" y="631.20" font-size="6.6" text-anchor="middle">23</text>
<text x="395.50" y="631.20" font-size="6.6" text-anchor="middle">13</text>
<text x="417.00" y="631.20" font-size="6.6" text-anchor="middle">7</text>
<text x="438.50" y="631.20" font-size="6.6" text-anchor="middle">2</text>
<text x="460.00" y="631.20" font-size="6.6" text-anchor="middle">1</text>
<text x="481.50" y="631.20" font-size="6.6" text-anchor="middle">1</text>
<text x="503.00" y="631.20" font-size="6.6" text-anchor="middle">0</text>
<text x="339.5" y="640.8" font-size="6.6" text-anchor="end">MD-WHO<tspan font-size="4.09" dy="1.98">ext</tspan><tspan dy="-1.98"></tspan></text>
<text x="352.50" y="640.80" font-size="6.6" text-anchor="middle">654</text>
<text x="374.00" y="640.80" font-size="6.6" text-anchor="middle">137</text>
<text x="395.50" y="640.80" font-size="6.6" text-anchor="middle">66</text>
<text x="417.00" y="640.80" font-size="6.6" text-anchor="middle">33</text>
<text x="438.50" y="640.80" font-size="6.6" text-anchor="middle">15</text>
<text x="460.00" y="640.80" font-size="6.6" text-anchor="middle">6</text>
<text x="481.50" y="640.80" font-size="6.6" text-anchor="middle">2</text>
<text x="503.00" y="640.80" font-size="6.6" text-anchor="middle">0</text>
<text x="339.5" y="650.6" font-size="6.6" text-anchor="end">MP-WHO<tspan font-size="4.09" dy="1.98">ext</tspan><tspan dy="-1.98"></tspan></text>
<text x="352.50" y="650.60" font-size="6.6" text-anchor="middle">551</text>
<text x="374.00" y="650.60" font-size="6.6" text-anchor="middle">96</text>
<text x="395.50" y="650.60" font-size="6.6" text-anchor="middle">32</text>
<text x="417.00" y="650.60" font-size="6.6" text-anchor="middle">9</text>
<text x="438.50" y="650.60" font-size="6.6" text-anchor="middle">2</text>
<text x="460.00" y="650.60" font-size="6.6" text-anchor="middle">0</text>
<text x="481.50" y="650.60" font-size="6.6" text-anchor="middle">0</text>
<text x="503.00" y="650.60" font-size="6.6" text-anchor="middle">0</text>
<text x="7.60" y="226.90" font-size="12" font-weight="bold" fill="#111">C</text>
<text x="7.00" y="479.00" font-size="12" font-weight="bold" fill="#111">D</text>
<text x="287.50" y="479.00" font-size="12" font-weight="bold" fill="#111">E</text></svg>
<div id="frame"></div>
</body></html>
